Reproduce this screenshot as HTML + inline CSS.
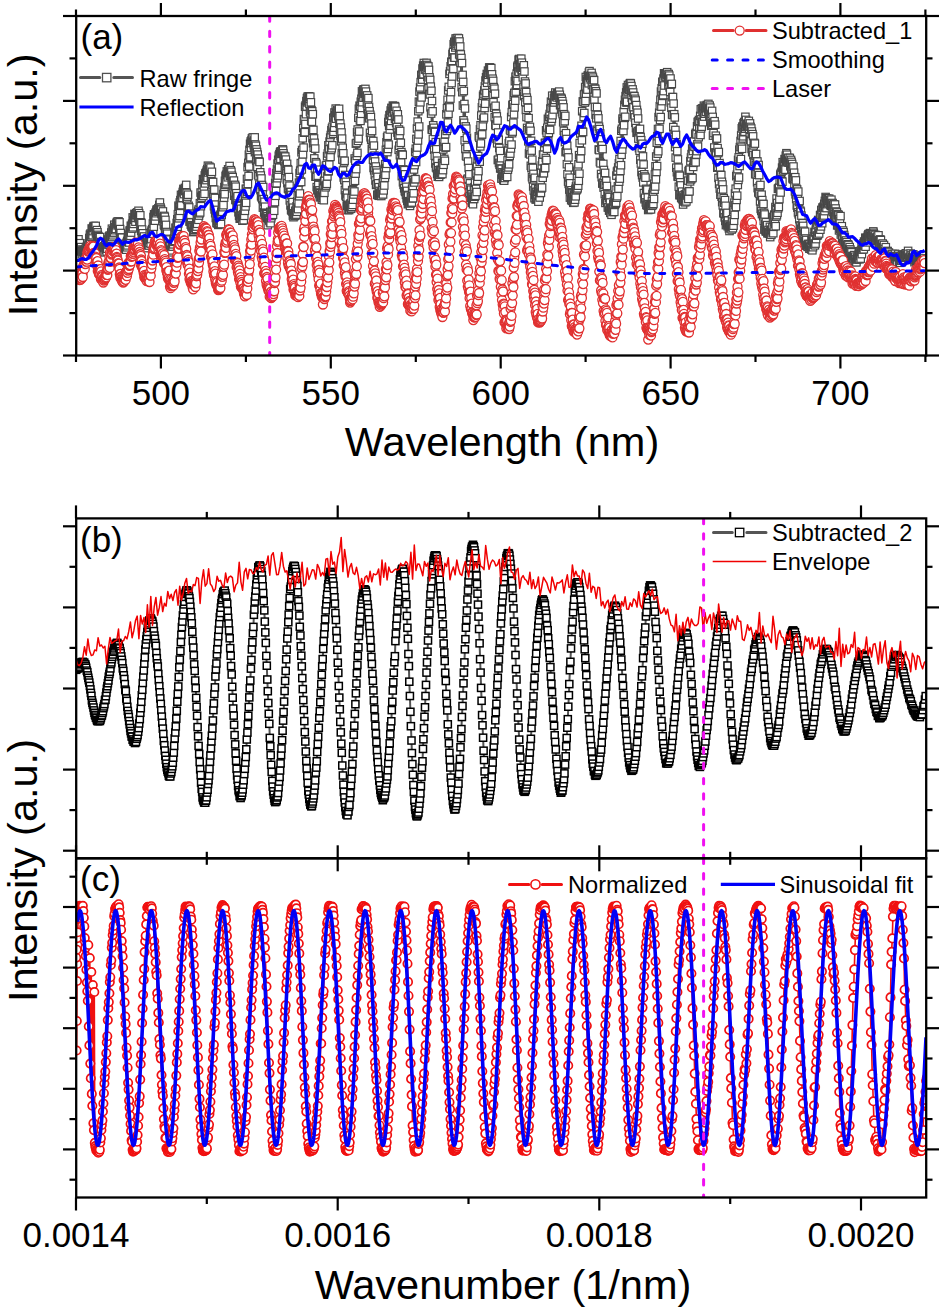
<!DOCTYPE html><html><head><meta charset="utf-8"><style>html,body{margin:0;padding:0;background:#fff;}svg{display:block;} text{font-family:"Liberation Sans", sans-serif;fill:#000;}</style></head><body>
<svg width="944" height="1310" viewBox="0 0 944 1310">
<defs><marker id="msqg" markerUnits="userSpaceOnUse" markerWidth="12" markerHeight="12" refX="6" refY="6" overflow="visible"><rect x="2.3" y="2.3" width="7.4" height="7.4" fill="#fff" stroke="#484848" stroke-width="1.2"/></marker><marker id="msqk" markerUnits="userSpaceOnUse" markerWidth="12" markerHeight="12" refX="6" refY="6" overflow="visible"><rect x="2.45" y="2.45" width="7.1" height="7.1" fill="#fff" stroke="#000" stroke-width="1.5"/></marker><marker id="mcr" markerUnits="userSpaceOnUse" markerWidth="12" markerHeight="12" refX="6" refY="6" overflow="visible"><circle cx="6" cy="6" r="4.5" fill="#fff" stroke="#e03030" stroke-width="1.3"/></marker><marker id="mcr2" markerUnits="userSpaceOnUse" markerWidth="12" markerHeight="12" refX="6" refY="6" overflow="visible"><circle cx="6" cy="6" r="4.2" fill="#fff" stroke="#f01010" stroke-width="1.7"/></marker><clipPath id="cpa"><rect x="76" y="16" width="850" height="339.5"/></clipPath><clipPath id="cpb"><rect x="76" y="518.4" width="850" height="339.9"/></clipPath><clipPath id="cpc"><rect x="76" y="858.3" width="850" height="339.20000000000005"/></clipPath></defs>
<g clip-path="url(#cpa)">
<polyline fill="none" stroke="#505050" stroke-width="2" marker-start="url(#msqg)" marker-mid="url(#msqg)" marker-end="url(#msqg)" points="77,244.7 77.3,245.2 77.6,246.8 77.9,244.3 78.2,249 78.5,239.3 78.9,247.9 79.2,245 79.5,247.1 79.8,243.2 80.1,249.4 80.4,248.4 80.7,251.2 81,247.1 81.3,251.1 81.6,249.6 81.9,254.3 82.2,251.1 82.5,252.1 82.8,249.9 83.1,252.2 83.4,251.4 83.7,251.1 84.1,253.1 84.4,250.5 84.7,250.3 85,252.1 85.3,250.8 85.6,249.6 85.9,247.6 86.2,250.7 86.5,251.1 86.8,246.7 87.1,250.1 87.4,245.9 87.7,247 88,247.6 88.3,245.9 88.6,243.3 88.9,247.9 89.3,238 89.6,242.8 89.9,234.7 90.2,241.5 90.5,233.6 90.8,235.1 91.1,235.1 91.4,236.7 91.7,228.5 92,235.1 92.3,229.2 92.6,235.2 92.9,231.1 93.2,227.6 93.5,226.7 93.8,226 94.1,227.6 94.4,227.2 94.8,229.6 95.1,227.2 95.4,226.7 95.7,225.9 96,233.5 96.3,231.3 96.6,233.2 96.9,230.1 97.2,235.6 97.5,232.3 97.8,234.9 98.1,236.1 98.4,239.2 98.7,236.8 99,238.1 99.3,240.8 99.6,247.2 100,237.1 100.3,249.2 100.6,244.6 100.9,246.6 101.2,242 101.5,250.7 101.8,247.6 102.1,250.5 102.4,247.5 102.7,248.6 103,250.9 103.3,248.1 103.6,251.6 103.9,246.5 104.2,248.1 104.5,246.3 104.8,252.4 105.2,245.1 105.5,247.3 105.8,248 106.1,249.2 106.4,250.1 106.7,251.6 107,245.6 107.3,248.7 107.6,239.9 107.9,244.4 108.2,239.6 108.5,244.4 108.8,236.8 109.1,242.2 109.4,235.8 109.7,244.9 110,237.2 110.3,239.8 110.7,235.4 111,238.9 111.3,232.5 111.6,236.8 111.9,228.7 112.2,237.1 112.5,232.6 112.8,235.3 113.1,230.1 113.4,233.2 113.7,232.2 114,232.5 114.3,224.7 114.6,228.3 114.9,227.2 115.2,230.2 115.5,227 115.9,228.9 116.2,225.2 116.5,223.6 116.8,222.8 117.1,222 117.4,223.2 117.7,221.6 118,224.5 118.3,223.4 118.6,221.4 118.9,225.7 119.2,228.7 119.5,222.3 119.8,231.1 120.1,229.1 120.4,233.7 120.7,233 121.1,238.3 121.4,237.4 121.7,242.7 122,237.7 122.3,246.4 122.6,243.9 122.9,247.3 123.2,244.3 123.5,246.9 123.8,246.3 124.1,247.4 124.4,248.5 124.7,248.4 125,248.1 125.3,247.1 125.6,248.5 125.9,248.3 126.2,249.7 126.6,242.8 126.9,247.3 127.2,240.9 127.5,245.4 127.8,238.5 128.1,241.9 128.4,234.8 128.7,236.3 129,235 129.3,242.5 129.6,230.6 129.9,238.8 130.2,230.2 130.5,235.8 130.8,225.8 131.1,232.6 131.4,226.2 131.8,225.9 132.1,223.7 132.4,228.6 132.7,217.4 133,227.3 133.3,220.4 133.6,223.9 133.9,218.3 134.2,219.7 134.5,213.9 134.8,217.9 135.1,214.3 135.4,221.7 135.7,217.9 136,214.9 136.3,213.1 136.6,215.1 137,214.9 137.3,212.5 137.6,212.6 137.9,217.1 138.2,218.1 138.5,210.8 138.8,214.2 139.1,213.2 139.4,221.1 139.7,217.3 140,222.1 140.3,215.3 140.6,225.7 140.9,222.3 141.2,230.9 141.5,223.1 141.8,234.8 142.1,229.5 142.5,234.5 142.8,233.3 143.1,238.1 143.4,238.1 143.7,244 144,236.5 144.3,243.9 144.6,243.5 144.9,240.3 145.2,241.7 145.5,248.1 145.8,241.4 146.1,244.5 146.4,241.9 146.7,244.2 147,240.3 147.3,240 147.7,243.8 148,242.6 148.3,245.3 148.6,241.9 148.9,245.5 149.2,237.9 149.5,243 149.8,233.2 150.1,240 150.4,239.4 150.7,243.6 151,232.6 151.3,239.1 151.6,230.5 151.9,231.8 152.2,229.1 152.5,229.8 152.9,223.5 153.2,233.8 153.5,217 153.8,226.7 154.1,214.3 154.4,220.7 154.7,216 155,220.7 155.3,213.8 155.6,216.4 155.9,212.4 156.2,213.2 156.5,209.8 156.8,211.5 157.1,211.2 157.4,209.4 157.7,210.6 158,209.5 158.4,208.2 158.7,211.7 159,209.3 159.3,204.9 159.6,210.3 159.9,202.5 160.2,211.7 160.5,207.5 160.8,208.9 161.1,209.8 161.4,213.3 161.7,213.9 162,215.1 162.3,215.3 162.6,221.2 162.9,211.4 163.2,218.8 163.6,217.3 163.9,224.9 164.2,215.9 164.5,226 164.8,216.8 165.1,228.7 165.4,219.9 165.7,231.1 166,224.9 166.3,239.9 166.6,232 166.9,238.6 167.2,233.7 167.5,242.6 167.8,238.9 168.1,246.1 168.4,239.6 168.8,246.8 169.1,245.8 169.4,255 169.7,245.6 170,246 170.3,249.9 170.6,250.2 170.9,250 171.2,252.3 171.5,250.4 171.8,244.7 172.1,246.2 172.4,245.8 172.7,246.6 173,243.9 173.3,244.3 173.6,239.1 173.9,241.5 174.3,238.7 174.6,241.8 174.9,232.1 175.2,240.9 175.5,227.7 175.8,235.2 176.1,228 176.4,233.7 176.7,223 177,230.9 177.3,219.3 177.6,226.8 177.9,214.2 178.2,223.5 178.5,205.7 178.8,218.3 179.1,206.9 179.5,216 179.8,202.5 180.1,210.8 180.4,200.1 180.7,205.9 181,194.9 181.3,205.1 181.6,197.8 181.9,198 182.2,194.4 182.5,197.9 182.8,192.4 183.1,191.1 183.4,188.9 183.7,191.3 184,194.1 184.3,189.7 184.7,190.2 185,187.9 185.3,191.1 185.6,190.3 185.9,189.8 186.2,184.9 186.5,198.7 186.8,192.9 187.1,199.9 187.4,196.6 187.7,206.3 188,194.7 188.3,207.7 188.6,205.8 188.9,212.2 189.2,207.4 189.5,221.6 189.9,213.6 190.2,221.3 190.5,214.8 190.8,224.6 191.1,222.5 191.4,225.2 191.7,226.5 192,226.7 192.3,227.1 192.6,227.4 192.9,227.3 193.2,232 193.5,231.8 193.8,231.3 194.1,229.5 194.4,227.8 194.7,229.8 195,227.1 195.4,227.8 195.7,225.5 196,228.9 196.3,222.9 196.6,226.6 196.9,219.5 197.2,223.8 197.5,213.3 197.8,217.9 198.1,211 198.4,219.8 198.7,209.5 199,215.6 199.3,212 199.6,213.3 199.9,203.2 200.2,212.4 200.6,192.6 200.9,206.2 201.2,196.8 201.5,197.8 201.8,192.5 202.1,195.7 202.4,184.4 202.7,195.3 203,179.1 203.3,196 203.6,179.9 203.9,187.4 204.2,179.2 204.5,193.8 204.8,175.4 205.1,183.4 205.4,173.5 205.8,177.1 206.1,172.6 206.4,180.1 206.7,170.6 207,176.6 207.3,169.1 207.6,177.8 207.9,165.7 208.2,172.5 208.5,170.5 208.8,170.4 209.1,168.1 209.4,166.7 209.7,170.4 210,169.3 210.3,171.8 210.6,167.6 210.9,176.7 211.3,173.8 211.6,181.7 211.9,171.8 212.2,184.4 212.5,182.5 212.8,191.9 213.1,182 213.4,197.2 213.7,194.2 214,206.3 214.3,189.7 214.6,209.4 214.9,198 215.2,213.2 215.5,204.6 215.8,218 216.1,209.9 216.5,223 216.8,216.5 217.1,221.2 217.4,216.7 217.7,223.7 218,223.3 218.3,224.9 218.6,223.9 218.9,216.3 219.2,223.3 219.5,219 219.8,223.2 220.1,215.5 220.4,220.9 220.7,214.4 221,224.1 221.3,211.7 221.7,215.1 222,204.1 222.3,211.8 222.6,201.1 222.9,207.2 223.2,194.1 223.5,205.2 223.8,190.1 224.1,197.7 224.4,187.1 224.7,194.2 225,180.8 225.3,184.9 225.6,175.9 225.9,183.5 226.2,174.7 226.5,181.3 226.8,171.4 227.2,175 227.5,172.4 227.8,177.3 228.1,169.3 228.4,172.8 228.7,173.1 229,171.6 229.3,171 229.6,166 229.9,175.7 230.2,171.5 230.5,175.2 230.8,170.2 231.1,174.4 231.4,171.8 231.7,179.7 232,175.7 232.4,182.2 232.7,177.1 233,186.3 233.3,181.1 233.6,188.5 233.9,180.6 234.2,195.8 234.5,185.2 234.8,193.3 235.1,184.9 235.4,199.9 235.7,186.7 236,200.1 236.3,193.2 236.6,205.5 236.9,197.6 237.2,205.6 237.6,196.2 237.9,208.6 238.2,206.6 238.5,212.3 238.8,205.6 239.1,215.9 239.4,206 239.7,218.7 240,213 240.3,217.9 240.6,211 240.9,214.4 241.2,208.8 241.5,217.5 241.8,215.7 242.1,218.2 242.4,220.7 242.7,215.2 243.1,217.3 243.4,214.3 243.7,220.2 244,208.1 244.3,215.8 244.6,205.3 244.9,210.8 245.2,201 245.5,206.4 245.8,188.8 246.1,202.8 246.4,188.9 246.7,193.9 247,178.9 247.3,191.9 247.6,167.1 247.9,183.9 248.3,162.9 248.6,176 248.9,154.7 249.2,166.5 249.5,149.9 249.8,158 250.1,143.8 250.4,157.2 250.7,141.5 251,147.7 251.3,143.1 251.6,140.4 251.9,138.4 252.2,140.4 252.5,139.1 252.8,137.4 253.1,141.9 253.5,142.5 253.8,145.2 254.1,140.5 254.4,148.3 254.7,137.4 255,152.2 255.3,144.5 255.6,151 255.9,145.8 256.2,160.7 256.5,149.4 256.8,159.4 257.1,152 257.4,166.9 257.7,154.6 258,174.9 258.3,158.6 258.6,176.2 259,161.4 259.3,184.6 259.6,162 259.9,188.3 260.2,172.3 260.5,190.1 260.8,175.5 261.1,196.3 261.4,178.5 261.7,197.5 262,185 262.3,199.2 262.6,192.1 262.9,207.6 263.2,187 263.5,205.3 263.8,199.1 264.2,212.4 264.5,201.8 264.8,214.1 265.1,206.7 265.4,217.5 265.7,212.8 266,217.9 266.3,213.1 266.6,215.7 266.9,214.1 267.2,217.5 267.5,216.1 267.8,225.2 268.1,218.3 268.4,217.9 268.7,218.4 269,219.4 269.4,220.5 269.7,220.4 270,222.4 270.3,211.8 270.6,223.2 270.9,212.5 271.2,218.2 271.5,213.9 271.8,216 272.1,205.3 272.4,212.4 272.7,204.1 273,214.8 273.3,203 273.6,209.9 273.9,190.5 274.2,210.8 274.5,188.7 274.9,202.1 275.2,183 275.5,195.8 275.8,178.6 276.1,191.1 276.4,173.1 276.7,183.2 277,169.4 277.3,178.2 277.6,163.6 277.9,175.5 278.2,159.8 278.5,169.6 278.8,155.7 279.1,167.7 279.4,154.1 279.7,159.5 280.1,152.1 280.4,158.8 280.7,151.3 281,153.9 281.3,151.5 281.6,153.4 281.9,153.7 282.2,153 282.5,149.8 282.8,149.4 283.1,150.5 283.4,153.3 283.7,159 284,155.7 284.3,161.2 284.6,156.7 284.9,168.6 285.3,156.6 285.6,166.1 285.9,159.6 286.2,170.8 286.5,166 286.8,179.5 287.1,163.8 287.4,183.1 287.7,169.2 288,188.6 288.3,169.9 288.6,189.3 288.9,177.1 289.2,194.8 289.5,185.7 289.8,200.4 290.1,192.1 290.5,205.4 290.8,192 291.1,210 291.4,195 291.7,210.8 292,202.8 292.3,211.4 292.6,202.1 292.9,215.6 293.2,207.7 293.5,217.2 293.8,213.3 294.1,214.5 294.4,214.8 294.7,216 295,215.6 295.3,210.9 295.6,215.2 296,210 296.3,214.6 296.6,206.3 296.9,211.8 297.2,201.3 297.5,207.7 297.8,195.4 298.1,209.1 298.4,188 298.7,203.3 299,182.6 299.3,196.2 299.6,173.1 299.9,193.5 300.2,170.6 300.5,181.5 300.8,163.1 301.2,182 301.5,152.3 301.8,169.5 302.1,150 302.4,161.6 302.7,138.3 303,154.3 303.3,128 303.6,147.6 303.9,119.1 304.2,132.7 304.5,119.6 304.8,132.2 305.1,106.7 305.4,124 305.7,105.2 306,114.2 306.4,101.1 306.7,106.5 307,98.1 307.3,102.4 307.6,96.7 307.9,100.6 308.2,101.3 308.5,96.5 308.8,98.8 309.1,96.3 309.4,103.8 309.7,98.9 310,111.8 310.3,96.7 310.6,113.5 310.9,102.3 311.2,120.8 311.5,110.2 311.9,121.7 312.2,111.3 312.5,138.2 312.8,114.2 313.1,143.3 313.4,129.9 313.7,147.7 314,138.4 314.3,158.4 314.6,142.8 314.9,168.4 315.2,148.6 315.5,176.7 315.8,162.2 316.1,176.7 316.4,163.7 316.7,187.1 317.1,169.7 317.4,190.3 317.7,175.7 318,189.8 318.3,185 318.6,192.6 318.9,190.6 319.2,194 319.5,190.4 319.8,197.3 320.1,192.5 320.4,193.3 320.7,196.8 321,195.5 321.3,195.9 321.6,195 321.9,199.7 322.3,193 322.6,197.9 322.9,184.7 323.2,196.4 323.5,188 323.8,200.2 324.1,181.2 324.4,192.8 324.7,180.6 325,185.6 325.3,173.4 325.6,187.3 325.9,165.8 326.2,185.6 326.5,165.1 326.8,183.8 327.1,156.2 327.4,176.4 327.8,153.5 328.1,171.4 328.4,145.3 328.7,171 329,149.3 329.3,164.6 329.6,141.6 329.9,155.7 330.2,137.6 330.5,156.9 330.8,135 331.1,150 331.4,130.2 331.7,148.2 332,128.1 332.3,145.3 332.6,126.7 333,133.7 333.3,118 333.6,131.8 333.9,117.4 334.2,127.7 334.5,112.5 334.8,122.9 335.1,115.2 335.4,117.2 335.7,108.6 336,118.7 336.3,112.8 336.6,112.9 336.9,111.5 337.2,109.9 337.5,111.6 337.8,113.1 338.2,116.1 338.5,111 338.8,117.6 339.1,108.8 339.4,123.7 339.7,116.1 340,129.8 340.3,123.6 340.6,136 340.9,127.5 341.2,141.4 341.5,132.5 341.8,153.1 342.1,138.6 342.4,159.6 342.7,147.7 343,170.5 343.3,153.3 343.7,177.5 344,162.4 344.3,180.1 344.6,160.8 344.9,190.1 345.2,175 345.5,195.5 345.8,181.8 346.1,197 346.4,185.3 346.7,205.9 347,193.5 347.3,205.6 347.6,197.8 347.9,210.1 348.2,204.9 348.5,206.1 348.9,205.9 349.2,210 349.5,206.8 349.8,207.1 350.1,206.2 350.4,203.8 350.7,208.8 351,203.4 351.3,208.4 351.6,198.3 351.9,206.9 352.2,190.1 352.5,204.9 352.8,190.6 353.1,199.7 353.4,181.9 353.7,194.5 354.1,173.2 354.4,191.5 354.7,158.5 355,180.8 355.3,160.7 355.6,173.6 355.9,143.6 356.2,169.1 356.5,143 356.8,155.9 357.1,132.3 357.4,152.9 357.7,129.5 358,140.9 358.3,117.8 358.6,138.5 358.9,108.8 359.2,131.5 359.6,105.7 359.9,120.4 360.2,106.5 360.5,120.9 360.8,101.7 361.1,113.8 361.4,98.8 361.7,107.9 362,91.4 362.3,102.2 362.6,93.3 362.9,94.7 363.2,89.6 363.5,97.7 363.8,93.5 364.1,91.8 364.4,89.3 364.8,93.1 365.1,93.7 365.4,88.9 365.7,97 366,91.6 366.3,96.7 366.6,96.6 366.9,103.8 367.2,95.4 367.5,109.3 367.8,103.4 368.1,113.1 368.4,98.1 368.7,116.5 369,106.9 369.3,118.3 369.6,111.2 370,132.8 370.3,114.8 370.6,137.3 370.9,117.1 371.2,139.9 371.5,123.6 371.8,149.1 372.1,131 372.4,149.5 372.7,143.7 373,159.7 373.3,141 373.6,168 373.9,145.6 374.2,170.4 374.5,155.6 374.8,174.9 375.1,161.5 375.5,180.5 375.8,166.5 376.1,184.9 376.4,170.4 376.7,184.3 377,172.7 377.3,194.8 377.6,176.9 377.9,194.9 378.2,183.3 378.5,195.4 378.8,187.2 379.1,195.8 379.4,190.9 379.7,194.6 380,193 380.3,193.4 380.7,194.2 381,192.8 381.3,196 381.6,191.4 381.9,192.5 382.2,188.4 382.5,194.1 382.8,182.7 383.1,194.4 383.4,178.9 383.7,190.4 384,174.1 384.3,185.5 384.6,168.9 384.9,177.8 385.2,164.1 385.5,174.8 385.9,149.8 386.2,168.1 386.5,142.3 386.8,163.8 387.1,137.2 387.4,152.1 387.7,135.8 388,148.9 388.3,122 388.6,144.6 388.9,118.6 389.2,125.8 389.5,115.3 389.8,129.5 390.1,114.7 390.4,125.8 390.7,110.5 391.1,120.9 391.4,107.9 391.7,116 392,111.2 392.3,112.5 392.6,108.3 392.9,105.6 393.2,108.9 393.5,106.3 393.8,111.7 394.1,106.9 394.4,112.3 394.7,106.1 395,118.8 395.3,106.8 395.6,119 395.9,116 396.2,123 396.6,110.8 396.9,127 397.2,117.1 397.5,132.6 397.8,114.3 398.1,135.6 398.4,119.5 398.7,149.8 399,129.5 399.3,145.7 399.6,135.1 399.9,155.2 400.2,131 400.5,161.8 400.8,142.8 401.1,162.5 401.4,152.1 401.8,176.1 402.1,154.2 402.4,172.2 402.7,154.9 403,182.3 403.3,169.4 403.6,184.8 403.9,171 404.2,188.3 404.5,170.2 404.8,191.1 405.1,174.3 405.4,192 405.7,180.4 406,194.8 406.3,186.8 406.6,198.4 407,190.9 407.3,200.9 407.6,195 407.9,204.2 408.2,195.7 408.5,203.2 408.8,201.2 409.1,202.3 409.4,203.3 409.7,202 410,205.9 410.3,201.2 410.6,203.5 410.9,197.3 411.2,202.6 411.5,196.9 411.8,202.5 412.1,188.7 412.5,198.4 412.8,186 413.1,198.2 413.4,180.1 413.7,193.3 414,169.5 414.3,182.5 414.6,165.1 414.9,179.1 415.2,152.1 415.5,179.2 415.8,148.7 416.1,162 416.4,138.9 416.7,152.9 417,128.5 417.3,147.5 417.7,121.6 418,140.5 418.3,111.2 418.6,134.4 418.9,101.7 419.2,126.5 419.5,91.6 419.8,109.1 420.1,87.4 420.4,102.3 420.7,82.1 421,96.1 421.3,75.1 421.6,97.4 421.9,74.6 422.2,79.6 422.5,68.5 422.9,74.7 423.2,65.6 423.5,74.2 423.8,63 424.1,66.9 424.4,65.4 424.7,66.3 425,69.6 425.3,65.2 425.6,69.1 425.9,66.9 426.2,66.6 426.5,62.9 426.8,71.2 427.1,65 427.4,76.9 427.7,67.8 428,80 428.4,66.4 428.7,88.2 429,69.9 429.3,93.9 429.6,77.4 429.9,94.4 430.2,79.9 430.5,107.3 430.8,86.6 431.1,113.6 431.4,90.8 431.7,129.5 432,101 432.3,129.7 432.6,111.3 432.9,138.8 433.2,125.3 433.6,144.5 433.9,127.8 434.2,149.7 434.5,131 434.8,155.7 435.1,132 435.4,163.5 435.7,142.1 436,167.4 436.3,149.3 436.6,168.2 436.9,156.2 437.2,174 437.5,160.7 437.8,176.7 438.1,166.2 438.4,175.2 438.8,170.2 439.1,176.9 439.4,173.2 439.7,174.8 440,172.5 440.3,169.8 440.6,174.6 440.9,170.4 441.2,173.5 441.5,171.8 441.8,169.9 442.1,162.8 442.4,174.1 442.7,163.1 443,170.1 443.3,149.4 443.6,164.8 443.9,146.6 444.3,158.9 444.6,141.9 444.9,160.8 445.2,134.2 445.5,147.6 445.8,126.3 446.1,147.1 446.4,114.3 446.7,130.9 447,108.2 447.3,128.9 447.6,99.8 447.9,122.6 448.2,90.4 448.5,113.8 448.8,86.9 449.1,105.7 449.5,73.9 449.8,107.4 450.1,71.2 450.4,98.6 450.7,66.3 451,92.1 451.3,61.7 451.6,83.1 451.9,62.3 452.2,76.5 452.5,53.9 452.8,68.3 453.1,52.1 453.4,68.8 453.7,44.2 454,57.5 454.3,41.9 454.7,57.7 455,41.9 455.3,47.5 455.6,38.5 455.9,45.5 456.2,40.7 456.5,44 456.8,38.3 457.1,41.9 457.4,42.3 457.7,38 458,40.9 458.3,40.6 458.6,45.9 458.9,38.4 459.2,54.3 459.5,41.5 459.8,55.1 460.2,46.5 460.5,62.8 460.8,54.4 461.1,77.3 461.4,58 461.7,87.1 462,63.1 462.3,92.2 462.6,74.9 462.9,105.5 463.2,81.9 463.5,120.3 463.8,91 464.1,122.8 464.4,104 464.7,140.3 465,108.5 465.4,149 465.7,126.4 466,155.9 466.3,128.7 466.6,156.5 466.9,137.7 467.2,179.6 467.5,146.9 467.8,178.6 468.1,161.5 468.4,191.9 468.7,168 469,192.7 469.3,174.3 469.6,196.4 469.9,183.3 470.2,200.3 470.6,188 470.9,197.8 471.2,189.6 471.5,197.6 471.8,194.2 472.1,202.7 472.4,196.7 472.7,200.6 473,204.2 473.3,199 473.6,197.7 473.9,190 474.2,198.9 474.5,187.2 474.8,196.7 475.1,182.8 475.4,195.8 475.7,173.2 476.1,188.9 476.4,173.2 476.7,192 477,166 477.3,180.7 477.6,159.4 477.9,176.7 478.2,156 478.5,171.1 478.8,136.3 479.1,159.1 479.4,137.8 479.7,161.7 480,129.4 480.3,146.4 480.6,125.2 480.9,143.5 481.3,115.5 481.6,134.8 481.9,107.3 482.2,134.4 482.5,103 482.8,126.1 483.1,95.8 483.4,119.2 483.7,94.2 484,117.6 484.3,90.4 484.6,108 484.9,86.4 485.2,103.7 485.5,80.5 485.8,94.7 486.1,77.3 486.5,93 486.8,74 487.1,82.8 487.4,74.3 487.7,79.4 488,70.6 488.3,74.8 488.6,71.4 488.9,72.8 489.2,67.7 489.5,67.4 489.8,70.2 490.1,67.6 490.4,74.6 490.7,72.6 491,74.3 491.3,68.1 491.7,82.7 492,74.3 492.3,92.1 492.6,78.7 492.9,95.2 493.2,80.9 493.5,102.2 493.8,87.1 494.1,107.7 494.4,88.7 494.7,117.1 495,93.7 495.3,125 495.6,105.8 495.9,125.9 496.2,113.8 496.5,138.8 496.8,116.4 497.2,143.3 497.5,120.6 497.8,160 498.1,132.5 498.4,159.7 498.7,139.8 499,162.9 499.3,148 499.6,164.8 499.9,151 500.2,168.4 500.5,164.7 500.8,168.5 501.1,158.2 501.4,178.6 501.7,168.9 502,174.6 502.4,172.3 502.7,177.6 503,173.8 503.3,180.1 503.6,176.1 503.9,177.1 504.2,180.7 504.5,172.9 504.8,178 505.1,174.1 505.4,175.6 505.7,169.8 506,173.9 506.3,169.5 506.6,175.3 506.9,166.1 507.2,176.9 507.6,160.4 507.9,169.7 508.2,150.5 508.5,167.4 508.8,143.3 509.1,164.3 509.4,141 509.7,155.9 510,130 510.3,153.6 510.6,130.9 510.9,148.5 511.2,117 511.5,144.6 511.8,112.1 512.1,133.2 512.4,105 512.7,131.6 513.1,104.1 513.4,122.7 513.7,95.3 514,114.4 514.3,92.9 514.6,107.4 514.9,81.2 515.2,100.7 515.5,76.7 515.8,91.6 516.1,79.9 516.4,85.7 516.7,73.6 517,84.9 517.3,66.7 517.6,81 517.9,65.4 518.3,71.4 518.6,59.7 518.9,71.8 519.2,59 519.5,67.2 519.8,60.4 520.1,64.1 520.4,68.3 520.7,64.8 521,67.3 521.3,58.7 521.6,70.3 521.9,62.7 522.2,70.7 522.5,67.6 522.8,77.4 523.1,67.6 523.5,86.8 523.8,65.3 524.1,96.1 524.4,71.5 524.7,91.9 525,81.5 525.3,102.1 525.6,83.5 525.9,110 526.2,92.1 526.5,117.1 526.8,97.6 527.1,127.9 527.4,100.1 527.7,130.2 528,107.9 528.3,141.3 528.6,118.1 529,153.5 529.3,128.8 529.6,149.6 529.9,126.9 530.2,154.4 530.5,130.8 530.8,165.8 531.1,140.8 531.4,168.1 531.7,150.6 532,177.2 532.3,159.7 532.6,179.3 532.9,167.9 533.2,186.5 533.5,173.9 533.8,190.5 534.2,179.3 534.5,198.2 534.8,177.8 535.1,194.8 535.4,188.2 535.7,199.6 536,191.9 536.3,198.6 536.6,194.1 536.9,198.3 537.2,194.2 537.5,197.8 537.8,191.7 538.1,188.3 538.4,201.7 538.7,189.1 539,195.9 539.4,190.8 539.7,197.5 540,186.9 540.3,193 540.6,180.3 540.9,192.8 541.2,172.4 541.5,188.4 541.8,165.5 542.1,187.6 542.4,161.3 542.7,177.8 543,154.7 543.3,173.1 543.6,154.5 543.9,173.2 544.2,147.2 544.5,168.2 544.9,143 545.2,168 545.5,142.9 545.8,158 546.1,130.3 546.4,160 546.7,133.1 547,148.7 547.3,127.6 547.6,142 547.9,118.8 548.2,141 548.5,119.5 548.8,132.9 549.1,116.9 549.4,129.2 549.7,114 550.1,129.9 550.4,108.5 550.7,119.2 551,101.7 551.3,121.4 551.6,108 551.9,118.7 552.2,95.7 552.5,115.2 552.8,102.6 553.1,107.4 553.4,103.8 553.7,109.5 554,97.9 554.3,102.4 554.6,95.2 554.9,99.9 555.3,92.5 555.6,95.6 555.9,96.4 556.2,96.2 556.5,95 556.8,97.4 557.1,93.3 557.4,95.7 557.7,95.5 558,93.6 558.3,95.5 558.6,94.4 558.9,95.6 559.2,91.6 559.5,97.9 559.8,94.8 560.1,105.2 560.4,97.8 560.8,105.2 561.1,97.9 561.4,107.5 561.7,98.9 562,112.2 562.3,101.1 562.6,114.1 562.9,103.9 563.2,122.4 563.5,107.4 563.8,130.9 564.1,114.2 564.4,135 564.7,121.2 565,142.1 565.3,115.9 565.6,152.1 566,133.2 566.3,151.1 566.6,139 566.9,164.2 567.2,145.8 567.5,174.2 567.8,152.8 568.1,181.6 568.4,157.4 568.7,183.9 569,167.3 569.3,189.6 569.6,177.7 569.9,197.6 570.2,183.3 570.5,192.1 570.8,191.5 571.2,200 571.5,190.3 571.8,200.4 572.1,192.3 572.4,200.9 572.7,193.4 573,197.1 573.3,202.8 573.6,201.3 573.9,199.8 574.2,194.7 574.5,202.4 574.8,192.4 575.1,199.7 575.4,188.9 575.7,196.3 576,186.4 576.3,190.4 576.7,183.3 577,189.5 577.3,170.9 577.6,188.3 577.9,169.6 578.2,185.7 578.5,164.3 578.8,180.8 579.1,155.2 579.4,173.7 579.7,143 580,158.1 580.3,133.5 580.6,158.5 580.9,129.9 581.2,151 581.5,125.8 581.9,140.3 582.2,111.2 582.5,131.6 582.8,101.4 583.1,132 583.4,102 583.7,116.8 584,94.6 584.3,113 584.6,94 584.9,102.5 585.2,87 585.5,100.9 585.8,77 586.1,93.7 586.4,79.5 586.7,88.7 587.1,81 587.4,89.6 587.7,75.6 588,81.4 588.3,75.6 588.6,83.3 588.9,72.6 589.2,75.7 589.5,71.1 589.8,76.1 590.1,77.6 590.4,76.6 590.7,79.4 591,75.5 591.3,76.1 591.6,72.9 591.9,85.1 592.3,76 592.6,82.1 592.9,77.6 593.2,89.6 593.5,79.8 593.8,96.9 594.1,80.2 594.4,99.9 594.7,88.6 595,106.9 595.3,88.9 595.6,114.6 595.9,91.3 596.2,118.3 596.5,93.4 596.8,129.7 597.1,107.1 597.4,131 597.8,114.9 598.1,138.3 598.4,118.4 598.7,149.5 599,126.6 599.3,150.1 599.6,129.1 599.9,162 600.2,133.5 600.5,163.3 600.8,139.3 601.1,174 601.4,147.6 601.7,177.2 602,145.5 602.3,183.6 602.6,149.1 603,182.7 603.3,163.9 603.6,187.6 603.9,170 604.2,184.8 604.5,176 604.8,194.1 605.1,172.9 605.4,202.9 605.7,183.8 606,199.2 606.3,180.8 606.6,200.8 606.9,186 607.2,202.5 607.5,194.5 607.8,207.5 608.2,195.7 608.5,207.2 608.8,198 609.1,210.6 609.4,197 609.7,210.7 610,202.5 610.3,212.9 610.6,209.1 610.9,208.6 611.2,207.7 611.5,214.8 611.8,208 612.1,209.4 612.4,209.4 612.7,212 613,211.2 613.3,204 613.7,208.5 614,201.2 614.3,211.9 614.6,197.8 614.9,204.9 615.2,197.7 615.5,203.7 615.8,189.7 616.1,202.7 616.4,175.6 616.7,197.7 617,171.6 617.3,196.2 617.6,170.7 617.9,186.3 618.2,167.4 618.5,188.6 618.9,163.3 619.2,181.7 619.5,159 619.8,178.6 620.1,149.8 620.4,170.9 620.7,141 621,165.2 621.3,130.7 621.6,154.8 621.9,128.8 622.2,149.6 622.5,118.6 622.8,144.2 623.1,120.7 623.4,131 623.7,111.7 624.1,125.2 624.4,104.9 624.7,117.8 625,99.8 625.3,116.8 625.6,96.1 625.9,101.6 626.2,92.4 626.5,102.6 626.8,87.4 627.1,101.8 627.4,90.2 627.7,91.4 628,85 628.3,88.7 628.6,87.5 628.9,89.8 629.2,89.1 629.6,83.9 629.9,87.1 630.2,83.1 630.5,88.2 630.8,83.5 631.1,90.9 631.4,86 631.7,97.8 632,90.7 632.3,102.3 632.6,89.4 632.9,107.1 633.2,92.5 633.5,107.3 633.8,95.9 634.1,114.6 634.4,96.2 634.8,117.4 635.1,98.8 635.4,122.8 635.7,100.5 636,128.1 636.3,105.1 636.6,132.8 636.9,109.9 637.2,132.6 637.5,112.7 637.8,131 638.1,118.5 638.4,138.6 638.7,132.2 639,148.1 639.3,130.7 639.6,150.8 640,128.9 640.3,159.7 640.6,137 640.9,163.5 641.2,140.2 641.5,172.1 641.8,148.1 642.1,175.1 642.4,143.8 642.7,177.6 643,156.4 643.3,182.4 643.6,164.5 643.9,193.1 644.2,174.3 644.5,199.2 644.8,176.5 645.1,197.7 645.5,177.7 645.8,202.4 646.1,188.8 646.4,204.8 646.7,190 647,205.5 647.3,189.7 647.6,203.3 647.9,197.5 648.2,210 648.5,204.1 648.8,208.1 649.1,205.5 649.4,209.4 649.7,208.9 650,207.1 650.3,205.5 650.7,207.7 651,209.4 651.3,204.7 651.6,205.8 651.9,201.1 652.2,204.1 652.5,194 652.8,205.2 653.1,191.9 653.4,203.9 653.7,188.1 654,198.9 654.3,183.6 654.6,189.7 654.9,174.4 655.2,186.5 655.5,166.3 655.9,179.3 656.2,156.5 656.5,171.9 656.8,142.7 657.1,166.1 657.4,136.2 657.7,153.7 658,129 658.3,151.2 658.6,117.1 658.9,141 659.2,112.7 659.5,128.8 659.8,106.2 660.1,120 660.4,99.8 660.7,117.1 661,91.6 661.4,106.6 661.7,88.2 662,101.1 662.3,81.9 662.6,95.9 662.9,81.8 663.2,95.1 663.5,78.6 663.8,91.1 664.1,73.3 664.4,85.5 664.7,74.1 665,76 665.3,74.6 665.6,76.8 665.9,77.1 666.2,73.8 666.6,74 666.9,74.8 667.2,72.2 667.5,74.9 667.8,77.8 668.1,76.8 668.4,85.1 668.7,74 669,81.8 669.3,75.6 669.6,87.4 669.9,79.4 670.2,91.9 670.5,78.5 670.8,102.5 671.1,84.5 671.4,107.7 671.8,83.9 672.1,114.5 672.4,97.1 672.7,115 673,97.1 673.3,127.1 673.6,103.6 673.9,133.9 674.2,114.2 674.5,139.6 674.8,117.4 675.1,147.1 675.4,130 675.7,157.6 676,134.9 676.3,167.7 676.6,144 676.9,172.2 677.3,151.2 677.6,176.5 677.9,159.4 678.2,176.9 678.5,167.7 678.8,186.7 679.1,174.8 679.4,195.1 679.7,175.8 680,195.1 680.3,182.3 680.6,194.5 680.9,185.4 681.2,197.7 681.5,193.6 681.8,198.5 682.1,191.6 682.5,199.3 682.8,197.7 683.1,204.5 683.4,195.4 683.7,201.2 684,199.9 684.3,197.4 684.6,201.4 684.9,194.5 685.2,202.3 685.5,195 685.8,198.3 686.1,194.1 686.4,201.4 686.7,192.2 687,195.5 687.3,185.1 687.7,193.4 688,180.6 688.3,198.9 688.6,171.1 688.9,191.2 689.2,170.1 689.5,191.4 689.8,169.7 690.1,181.4 690.4,161.2 690.7,179.2 691,157.5 691.3,179.1 691.6,154.1 691.9,177.4 692.2,148.5 692.5,178 692.9,151 693.2,166.9 693.5,146.3 693.8,162.8 694.1,141.4 694.4,161.1 694.7,146.9 695,160.7 695.3,134 695.6,162.3 695.9,132.8 696.2,154.6 696.5,134.3 696.8,151.1 697.1,126.3 697.4,144.3 697.7,121.9 698,146.6 698.4,121.5 698.7,137.2 699,120 699.3,128.7 699.6,121 699.9,134.6 700.2,115.9 700.5,135 700.8,109.3 701.1,128.5 701.4,119.3 701.7,126.7 702,108.4 702.3,121.7 702.6,111.3 702.9,122.2 703.2,108.2 703.6,113.3 703.9,105.7 704.2,116.6 704.5,107.5 704.8,113.7 705.1,108.6 705.4,108 705.7,106.4 706,111.9 706.3,108.3 706.6,107.2 706.9,105 707.2,105.4 707.5,107.5 707.8,107.2 708.1,110.6 708.4,103.9 708.8,113.7 709.1,108.4 709.4,116.4 709.7,105.6 710,116.9 710.3,107.6 710.6,119.2 710.9,117.3 711.2,125.8 711.5,113.8 711.8,123.4 712.1,110.9 712.4,124.8 712.7,116.9 713,135.6 713.3,122.6 713.6,133.1 713.9,122.5 714.3,147.5 714.6,121.2 714.9,152.6 715.2,124.7 715.5,152.5 715.8,135.7 716.1,153.3 716.4,138.7 716.7,159.9 717,138.5 717.3,167.7 717.6,148.1 717.9,166.9 718.2,153.1 718.5,177.9 718.8,152 719.1,183.9 719.5,163.1 719.8,188.6 720.1,167.6 720.4,194.7 720.7,175 721,192 721.3,175.1 721.6,196.7 721.9,181.8 722.2,202.1 722.5,184.5 722.8,205.4 723.1,189.4 723.4,213.1 723.7,198.1 724,213.6 724.3,202.7 724.7,217.4 725,200.1 725.3,220.9 725.6,205.8 725.9,225.1 726.2,214.4 726.5,224.1 726.8,213.9 727.1,223.2 727.4,212.9 727.7,226.2 728,220.6 728.3,224.7 728.6,224.8 728.9,228.3 729.2,226.6 729.5,231 729.8,228.1 730.2,225.8 730.5,228.2 730.8,226.2 731.1,226.4 731.4,226.5 731.7,229.5 732,219.3 732.3,226.6 732.6,221.6 732.9,228.2 733.2,211.6 733.5,225.7 733.8,209.8 734.1,220.8 734.4,202.6 734.7,214.9 735,193.5 735.4,205.1 735.7,188.7 736,207 736.3,176.2 736.6,199.9 736.9,174.7 737.2,195.7 737.5,169.1 737.8,185 738.1,160 738.4,179.9 738.7,157.4 739,177.5 739.3,149.7 739.6,166 739.9,147.1 740.2,161.1 740.6,141 740.9,159.1 741.2,135.4 741.5,146.8 741.8,128.3 742.1,148.8 742.4,126.7 742.7,138.4 743,126.5 743.3,136.3 743.6,123.3 743.9,132.2 744.2,122 744.5,131.7 744.8,124.2 745.1,128.7 745.4,116.8 745.7,127 746.1,119.9 746.4,123.9 746.7,126.6 747,125.8 747.3,124.1 747.6,124.4 747.9,124.1 748.2,123.9 748.5,124.9 748.8,120.9 749.1,128.9 749.4,126.5 749.7,137.3 750,123.4 750.3,139.9 750.6,126.9 750.9,141.3 751.3,128.5 751.6,148.9 751.9,131.5 752.2,152.2 752.5,134.1 752.8,150.2 753.1,136.4 753.4,155 753.7,145.4 754,161.4 754.3,142.9 754.6,161.8 754.9,143.6 755.2,174.2 755.5,155.6 755.8,165 756.1,154 756.5,174.3 756.8,161.3 757.1,182.2 757.4,161.5 757.7,188.1 758,172.8 758.3,192.4 758.6,165 758.9,193 759.2,175.1 759.5,193.8 759.8,186.2 760.1,201.4 760.4,185 760.7,208.9 761,196.2 761.3,210.9 761.6,194.7 762,214.1 762.3,200.1 762.6,213.6 762.9,204.1 763.2,216.2 763.5,204 763.8,220.9 764.1,212.9 764.4,229.6 764.7,214.5 765,229.1 765.3,223.7 765.6,231.2 765.9,222.2 766.2,231.5 766.5,225.9 766.8,230.7 767.2,225.1 767.5,233.3 767.8,233 768.1,232.4 768.4,230 768.7,232.3 769,233.4 769.3,232.8 769.6,233.7 769.9,226.8 770.2,237.1 770.5,230.3 770.8,232.2 771.1,229.7 771.4,234.8 771.7,230 772,230.2 772.4,226.9 772.7,232.6 773,216.9 773.3,233.2 773.6,220 773.9,226.8 774.2,214.6 774.5,221.8 774.8,215.3 775.1,223.9 775.4,207 775.7,226.2 776,208.7 776.3,216.5 776.6,198.6 776.9,215.1 777.2,203 777.5,212.8 777.9,188.8 778.2,208.3 778.5,188.2 778.8,206.9 779.1,187.6 779.4,199.1 779.7,180.5 780,191.5 780.3,174.6 780.6,192.5 780.9,173.2 781.2,182.3 781.5,171.9 781.8,181.1 782.1,167.6 782.4,181.7 782.7,162.2 783.1,170.5 783.4,164.5 783.7,166.5 784,162.1 784.3,169.1 784.6,159.1 784.9,168.7 785.2,159.2 785.5,169.7 785.8,155.7 786.1,161.4 786.4,153.2 786.7,160.6 787,154.7 787.3,161.3 787.6,159.3 787.9,159.1 788.3,157.8 788.6,162.7 788.9,160.6 789.2,161.4 789.5,162.7 789.8,157.9 790.1,162.5 790.4,166.3 790.7,164.7 791,159.9 791.3,169.7 791.6,161.9 791.9,168.6 792.2,164 792.5,178.4 792.8,167.3 793.1,179.4 793.5,166.5 793.8,177.7 794.1,172.7 794.4,185.8 794.7,179.1 795,191.4 795.3,177.2 795.6,194.3 795.9,180.4 796.2,199 796.5,188.8 796.8,205.5 797.1,189.4 797.4,207.7 797.7,195.3 798,212.4 798.3,191.6 798.6,214.3 799,202 799.3,219.2 799.6,201 799.9,225.6 800.2,210.6 800.5,225.8 800.8,211.7 801.1,228.8 801.4,215.6 801.7,234.1 802,225.3 802.3,234.6 802.6,223.2 802.9,235.2 803.2,225.9 803.5,240.6 803.8,230.8 804.2,242.5 804.5,234.1 804.8,241.7 805.1,231.7 805.4,243.2 805.7,238.5 806,245.4 806.3,240 806.6,245.5 806.9,245.4 807.2,246.1 807.5,244.9 807.8,246.9 808.1,243.9 808.4,244.6 808.7,245.7 809,245.7 809.4,248.7 809.7,244.1 810,247 810.3,246.9 810.6,248 810.9,245.9 811.2,249.5 811.5,239.7 811.8,246.8 812.1,240.6 812.4,250.3 812.7,239.5 813,247.2 813.3,240.8 813.6,243.9 813.9,236.3 814.2,244.5 814.5,231.9 814.9,245.3 815.2,232.5 815.5,243.6 815.8,229.6 816.1,239.1 816.4,225.1 816.7,235.7 817,222.6 817.3,235.7 817.6,224.5 817.9,234.9 818.2,220 818.5,231.5 818.8,221 819.1,233.5 819.4,221.4 819.7,227.9 820.1,215.2 820.4,229.7 820.7,214.8 821,226.4 821.3,209.9 821.6,222.2 821.9,213.6 822.2,223.2 822.5,207.5 822.8,217.7 823.1,208 823.4,217.1 823.7,206.5 824,215.5 824.3,203.8 824.6,211.1 824.9,200.9 825.3,207.6 825.6,197 825.9,204.4 826.2,198.3 826.5,208.1 826.8,201.3 827.1,204.2 827.4,199.1 827.7,202.9 828,198.9 828.3,203.2 828.6,200.3 828.9,201.2 829.2,198.7 829.5,200.3 829.8,203.2 830.1,200.8 830.4,205.1 830.8,201.3 831.1,206 831.4,199.7 831.7,203.3 832,203.6 832.3,206.3 832.6,203 832.9,212.1 833.2,205 833.5,210 833.8,204.3 834.1,215.3 834.4,208.6 834.7,214.2 835,204.5 835.3,216.3 835.6,208.5 836,217.3 836.3,211.5 836.6,217.7 836.9,212.4 837.2,225.4 837.5,214.4 837.8,222.5 838.1,214.7 838.4,225.3 838.7,215 839,230.4 839.3,219.1 839.6,227.2 839.9,221.4 840.2,228.7 840.5,216.1 840.8,234.5 841.2,229.5 841.5,232.3 841.8,226.2 842.1,238.2 842.4,232.3 842.7,238.8 843,230.5 843.3,243.2 843.6,232.2 843.9,243.5 844.2,235 844.5,243.1 844.8,237.2 845.1,244.4 845.4,241 845.7,244 846,240.5 846.3,248.9 846.7,242.1 847,250.1 847.3,245 847.6,249.1 847.9,244.2 848.2,252.7 848.5,245 848.8,251.7 849.1,249 849.4,252.5 849.7,247.1 850,254.8 850.3,249.4 850.6,255.8 850.9,251 851.2,257.7 851.5,252.3 851.9,258.6 852.2,256.3 852.5,256 852.8,258.1 853.1,257.9 853.4,257.2 853.7,259.2 854,255.7 854.3,255.1 854.6,261.2 854.9,257.5 855.2,256.7 855.5,260.9 855.8,258.9 856.1,262 856.4,262.3 856.7,259.2 857.1,259.5 857.4,258.1 857.7,256.3 858,256.8 858.3,258.6 858.6,254.7 858.9,258.8 859.2,251.3 859.5,259.3 859.8,255.6 860.1,254.3 860.4,251.4 860.7,258.6 861,250.5 861.3,252 861.6,245.9 861.9,254.1 862.2,249.4 862.6,249.4 862.9,245.7 863.2,247.8 863.5,243.3 863.8,249.3 864.1,241.5 864.4,245.9 864.7,245.2 865,245.3 865.3,237.7 865.6,246.7 865.9,238.2 866.2,241.1 866.5,238.8 866.8,238.5 867.1,237.7 867.4,242.4 867.8,235.6 868.1,238.6 868.4,234.6 868.7,234.3 869,233.8 869.3,238.4 869.6,235.6 869.9,236.6 870.2,233.1 870.5,234.4 870.8,234 871.1,236.2 871.4,236.8 871.7,235.5 872,233.7 872.3,235.5 872.6,234.3 873,235.3 873.3,231.4 873.6,232.8 873.9,234.1 874.2,237.2 874.5,236.8 874.8,236.9 875.1,240 875.4,234.9 875.7,240.5 876,238.2 876.3,237.6 876.6,241 876.9,237.6 877.2,236.6 877.5,240 877.8,240 878.1,240.6 878.5,235.3 878.8,242.1 879.1,240.2 879.4,248.2 879.7,243.7 880,244.2 880.3,239.4 880.6,245.7 880.9,240.1 881.2,245.9 881.5,244.3 881.8,246.2 882.1,244 882.4,246.5 882.7,243.6 883,250.9 883.3,247.2 883.7,248.8 884,245 884.3,250.5 884.6,249 884.9,252.6 885.2,251.2 885.5,252.8 885.8,247.2 886.1,257.4 886.4,252.4 886.7,255.3 887,253.5 887.3,251.1 887.6,251.1 887.9,253 888.2,255.1 888.5,253.3 888.9,252.5 889.2,259.1 889.5,255.5 889.8,255.9 890.1,258.9 890.4,254.8 890.7,256.3 891,257 891.3,256.7 891.6,257.1 891.9,254.4 892.2,258.3 892.5,254 892.8,259 893.1,256 893.4,260.2 893.7,256 894.1,257.2 894.4,258.1 894.7,261.2 895,253.8 895.3,259.1 895.6,259.2 895.9,256 896.2,256.5 896.5,260.2 896.8,256.8 897.1,257.6 897.4,261.9 897.7,257.1 898,256.9 898.3,254.5 898.6,256.6 898.9,256.6 899.2,262.2 899.6,261.4 899.9,256.4 900.2,262.8 900.5,260.5 900.8,258.5 901.1,260.6 901.4,259.4 901.7,257.5 902,255 902.3,257.2 902.6,258.2 902.9,258.1 903.2,256.3 903.5,260.3 903.8,255 904.1,259.7 904.4,255.9 904.8,257.7 905.1,254 905.4,256.8 905.7,254.5 906,253.3 906.3,255.5 906.6,256.1 906.9,257.2 907.2,256.6 907.5,253.6 907.8,254.8 908.1,250.9 908.4,253.8 908.7,258.7 909,259.2 909.3,257.9 909.6,257.1 910,257.9 910.3,257.8 910.6,253.6 910.9,255.4 911.2,259.7 911.5,259.7 911.8,258.1 912.1,257 912.4,257.2 912.7,256.9 913,256.4 913.3,254.4 913.6,258.7 913.9,257.6 914.2,258.3 914.5,262.2 914.8,260.1 915.1,257.6 915.5,260.3 915.8,256.3 916.1,261.4 916.4,260 916.7,259.1 917,260.7 917.3,262.4 917.6,258.9 917.9,257.7 918.2,264.1 918.5,259.7 918.8,262.9 919.1,258.3 919.4,260.6 919.7,258.3 920,261.1 920.3,258.9 920.7,258.4 921,262.6 921.3,260.4 921.6,255.4 921.9,259.2 922.2,257.5 922.5,257.2 922.8,258.1 923.1,258.6 923.4,259.3 923.7,257.9 924,255.6 924.3,258.4 924.6,260.9"/>
<polyline fill="none" stroke="#e03030" stroke-width="1.6" marker-start="url(#mcr)" marker-mid="url(#mcr)" marker-end="url(#mcr)" points="77,275.9 77.3,277.2 77.6,273.9 77.9,275.8 78.2,276.9 78.5,273.7 78.9,276.5 79.2,280 79.5,276.9 79.8,276.6 80.1,279.3 80.4,279.9 80.7,278.4 81,275.8 81.3,275.3 81.6,278.6 81.9,272.5 82.2,273.9 82.5,273.1 82.8,277 83.1,267.4 83.4,266.5 83.7,264.8 84.1,267.9 84.4,264.9 84.7,268.9 85,263 85.3,264 85.6,260.5 85.9,261.7 86.2,258 86.5,259.5 86.8,261.7 87.1,259.6 87.4,252.3 87.7,254.7 88,251.5 88.3,250.9 88.6,249.4 88.9,250.9 89.3,251.3 89.6,249.9 89.9,246.9 90.2,247 90.5,245.7 90.8,248.6 91.1,247.5 91.4,250.5 91.7,247 92,250.2 92.3,249.6 92.6,248.5 92.9,246 93.2,246.6 93.5,253.3 93.8,252.9 94.1,253.9 94.4,253.5 94.8,255.3 95.1,253.3 95.4,256.6 95.7,257.8 96,261.1 96.3,258.2 96.6,262.1 96.9,261.6 97.2,266.1 97.5,261.2 97.8,271 98.1,265.5 98.4,269.9 98.7,270.4 99,274.2 99.3,269.7 99.6,274.7 100,269.7 100.3,273.9 100.6,269.2 100.9,279 101.2,271.3 101.5,278.8 101.8,274.8 102.1,276.2 102.4,276.8 102.7,279.3 103,279.5 103.3,282.5 103.6,279.6 103.9,280.6 104.2,277.8 104.5,279.6 104.8,279.1 105.2,276.3 105.5,278 105.8,275.5 106.1,277.3 106.4,274.9 106.7,274.4 107,270.1 107.3,275.1 107.6,265.5 107.9,269.9 108.2,268.9 108.5,262.7 108.8,261.7 109.1,266.7 109.4,256.8 109.7,267.9 110,252.4 110.3,261.9 110.7,258.3 111,258 111.3,252.5 111.6,254.5 111.9,249.3 112.2,253.5 112.5,247.6 112.8,250.2 113.1,251.4 113.4,247.4 113.7,248.8 114,249.7 114.3,247.5 114.6,251.9 114.9,252.3 115.2,247.4 115.5,253.1 115.9,250.2 116.2,253.9 116.5,253.6 116.8,256.9 117.1,258 117.4,259.7 117.7,260.7 118,263.5 118.3,263.3 118.6,265.6 118.9,263.7 119.2,267.5 119.5,268.9 119.8,274.2 120.1,274.8 120.4,278 120.7,273.8 121.1,276.5 121.4,276.6 121.7,278.8 122,280.3 122.3,281.5 122.6,277.2 122.9,278.6 123.2,282.5 123.5,280.5 123.8,279.5 124.1,281.6 124.4,279 124.7,277.6 125,278.1 125.3,272.8 125.6,279.8 125.9,272 126.2,275.4 126.6,271.1 126.9,276.2 127.2,270.4 127.5,272.9 127.8,264.6 128.1,270.5 128.4,262.9 128.7,269 129,263.8 129.3,265.9 129.6,265.1 129.9,265.1 130.2,260.6 130.5,261.6 130.8,256.2 131.1,261.4 131.4,256.9 131.8,254.5 132.1,255 132.4,256.1 132.7,253.5 133,253.9 133.3,247.7 133.6,249.1 133.9,252.4 134.2,250.4 134.5,244.9 134.8,249.3 135.1,246.6 135.4,244.3 135.7,242.5 136,244 136.3,247.8 136.6,246.8 137,247.2 137.3,247.6 137.6,250.3 137.9,243.7 138.2,250 138.5,247.4 138.8,249.9 139.1,249.3 139.4,254.6 139.7,252 140,254.1 140.3,254.4 140.6,264.3 140.9,255.8 141.2,259.5 141.5,261 141.8,266.9 142.1,264.1 142.5,266.7 142.8,268.1 143.1,269.9 143.4,266.9 143.7,273 144,270.9 144.3,277.3 144.6,275 144.9,277.2 145.2,277.2 145.5,278.5 145.8,279.1 146.1,276.3 146.4,275.2 146.7,281 147,276.4 147.3,278.8 147.7,279.2 148,277.9 148.3,278.5 148.6,281.1 148.9,273.7 149.2,277.6 149.5,282 149.8,273.9 150.1,275.4 150.4,271.3 150.7,275.7 151,263.9 151.3,268.5 151.6,261.4 151.9,264.7 152.2,257.4 152.5,260.5 152.9,252.4 153.2,254.7 153.5,248 153.8,249.1 154.1,246.1 154.4,247.2 154.7,241.7 155,248.4 155.3,242.6 155.6,240.6 155.9,244.8 156.2,241.1 156.5,243.9 156.8,242.4 157.1,244 157.4,242.9 157.7,243.3 158,243 158.4,249.7 158.7,239.4 159,247.5 159.3,245.8 159.6,246.5 159.9,243.6 160.2,254.3 160.5,246.4 160.8,255.4 161.1,250.2 161.4,254 161.7,251.3 162,256.8 162.3,254 162.6,258 162.9,253.4 163.2,259.1 163.6,257.6 163.9,263 164.2,255 164.5,261.5 164.8,259.1 165.1,263.4 165.4,260.8 165.7,265.4 166,262.7 166.3,270.2 166.6,267.1 166.9,271.9 167.2,272.7 167.5,274 167.8,277.2 168.1,278.7 168.4,274.7 168.8,277.6 169.1,270.7 169.4,280.6 169.7,279.6 170,286.6 170.3,278.6 170.6,288.2 170.9,282.5 171.2,286.3 171.5,279.3 171.8,285.2 172.1,284.3 172.4,285.4 172.7,284.8 173,280.2 173.3,285.6 173.6,281.6 173.9,282.9 174.3,279.1 174.6,281.5 174.9,272.3 175.2,273.2 175.5,265.3 175.8,273.6 176.1,265.3 176.4,267.1 176.7,257.5 177,262.7 177.3,255.1 177.6,257.9 177.9,249.1 178.2,257.2 178.5,246.8 178.8,248.6 179.1,241.1 179.5,244.5 179.8,242.3 180.1,244.3 180.4,238.6 180.7,240.3 181,237.4 181.3,236.4 181.6,240.2 181.9,238.4 182.2,243 182.5,236 182.8,238.9 183.1,239.6 183.4,239.9 183.7,236.2 184,240.5 184.3,240.5 184.7,246.9 185,243 185.3,251.1 185.6,247.2 185.9,253.3 186.2,248.9 186.5,256.5 186.8,255 187.1,262.6 187.4,256.4 187.7,265 188,259.9 188.3,265.6 188.6,262 188.9,273.8 189.2,268.7 189.5,279.1 189.9,272.6 190.2,280.6 190.5,277.8 190.8,283.1 191.1,277 191.4,282.5 191.7,281 192,282.2 192.3,283.5 192.6,287.4 192.9,283.4 193.2,289.4 193.5,284.8 193.8,284.8 194.1,285 194.4,282.4 194.7,285.9 195,282.2 195.4,287 195.7,280.6 196,283.3 196.3,276.1 196.6,276 196.9,271.8 197.2,274.7 197.5,268.8 197.8,271.1 198.1,265.2 198.4,268.4 198.7,259.1 199,262.6 199.3,250.9 199.6,257.5 199.9,247.5 200.2,249.6 200.6,242.5 200.9,251.5 201.2,237 201.5,239.5 201.8,232.3 202.1,232.8 202.4,232.5 202.7,233.1 203,228.8 203.3,233.6 203.6,231.9 203.9,226.2 204.2,228.6 204.5,228 204.8,227.7 205.1,227.5 205.4,228.2 205.8,230.2 206.1,230.8 206.4,228.7 206.7,234.5 207,231.2 207.3,236.2 207.6,232.2 207.9,242.1 208.2,234.8 208.5,241.1 208.8,235 209.1,243.3 209.4,238 209.7,248.1 210,243.9 210.3,247.5 210.6,245.9 210.9,256.6 211.3,250.5 211.6,257.8 211.9,255.9 212.2,261.6 212.5,254.3 212.8,265 213.1,261.1 213.4,271.5 213.7,268 214,275 214.3,266.4 214.6,275.6 214.9,271.2 215.2,279.6 215.5,273.6 215.8,283 216.1,281.1 216.5,285 216.8,283.6 217.1,285 217.4,282 217.7,286.4 218,288.8 218.3,290 218.6,286.9 218.9,289.9 219.2,287.5 219.5,289.2 219.8,288.5 220.1,282.6 220.4,287.9 220.7,280.1 221,282.2 221.3,275 221.7,280.7 222,272.3 222.3,276.8 222.6,267.8 222.9,274.9 223.2,260.8 223.5,266.8 223.8,259.2 224.1,264.7 224.4,251.7 224.7,252.9 225,245.5 225.3,252.5 225.6,242.4 225.9,247.9 226.2,235 226.5,242.6 226.8,234 227.2,240.7 227.5,232.7 227.8,236.6 228.1,230.3 228.4,229.8 228.7,229.1 229,230.3 229.3,229.8 229.6,233.7 229.9,236.3 230.2,232.4 230.5,232.8 230.8,232.8 231.1,235.9 231.4,237.4 231.7,241 232,237.5 232.4,243 232.7,235.4 233,245.4 233.3,239.9 233.6,250.5 233.9,244.9 234.2,251.8 234.5,247.2 234.8,260.2 235.1,249.4 235.4,257.5 235.7,253.9 236,261.1 236.3,256.1 236.6,267.2 236.9,262.4 237.2,265.7 237.6,263.2 237.9,272 238.2,265.6 238.5,274.1 238.8,267.5 239.1,279.1 239.4,270.4 239.7,279.6 240,273.8 240.3,282.6 240.6,277.1 240.9,286.5 241.2,279.9 241.5,287.4 241.8,282 242.1,287.1 242.4,284 242.7,288.7 243.1,288.6 243.4,290.6 243.7,288.1 244,293.6 244.3,293.2 244.6,289.8 244.9,296.4 245.2,292.8 245.5,293.2 245.8,293.1 246.1,292.9 246.4,287.9 246.7,295 247,282.5 247.3,288.5 247.6,281 247.9,281.9 248.3,274 248.6,278.9 248.9,270.4 249.2,269.7 249.5,258.9 249.8,264.2 250.1,250.8 250.4,254.4 250.7,245.6 251,250.6 251.3,239.4 251.6,244.6 251.9,234.3 252.2,237.2 252.5,228 252.8,229.4 253.1,224.1 253.5,227.2 253.8,221.2 254.1,223.8 254.4,219.2 254.7,225.1 255,225.1 255.3,220.2 255.6,222.1 255.9,220.3 256.2,225.4 256.5,222.2 256.8,224.6 257.1,222 257.4,227.5 257.7,222.1 258,230.8 258.3,225.1 258.6,235.6 259,229.9 259.3,239.5 259.6,232.5 259.9,244.2 260.2,232.6 260.5,246.9 260.8,239.7 261.1,250.9 261.4,244.9 261.7,256.9 262,243.8 262.3,259.2 262.6,249.2 262.9,264.4 263.2,251.6 263.5,265 263.8,257.6 264.2,273.2 264.5,260.7 264.8,274 265.1,266.9 265.4,273.3 265.7,270.9 266,280.8 266.3,273.5 266.6,284.7 266.9,277 267.2,286.1 267.5,278.6 267.8,288.2 268.1,287.2 268.4,290.6 268.7,285.6 269,291.1 269.4,287.2 269.7,296.7 270,288.4 270.3,293.2 270.6,292.5 270.9,295 271.2,298.1 271.5,291.3 271.8,296.3 272.1,297 272.4,293.7 272.7,292.6 273,296.3 273.3,294.1 273.6,291.3 273.9,282.6 274.2,291.2 274.5,283.2 274.9,281.9 275.2,266.3 275.5,277.5 275.8,263.2 276.1,269.6 276.4,253.7 276.7,258 277,246.2 277.3,253 277.6,241.9 277.9,238.8 278.2,232.5 278.5,240.7 278.8,229 279.1,229.5 279.4,227.9 279.7,228.8 280.1,227.1 280.4,226.7 280.7,227.3 281,226.4 281.3,229.7 281.6,225.9 281.9,230.7 282.2,228.3 282.5,235.5 282.8,230.7 283.1,235.4 283.4,233.2 283.7,238.5 284,235.6 284.3,242.2 284.6,241.1 284.9,247.6 285.3,238.5 285.6,247.1 285.9,244.3 286.2,251.4 286.5,243.5 286.8,251.6 287.1,243.5 287.4,258 287.7,250.9 288,263.1 288.3,251.5 288.6,265.8 288.9,255.5 289.2,265.9 289.5,260.6 289.8,268.1 290.1,261.8 290.5,269.5 290.8,264 291.1,271.6 291.4,270.7 291.7,279.2 292,274.6 292.3,282.9 292.6,274.9 292.9,284.8 293.2,279.7 293.5,289.4 293.8,284.2 294.1,289.2 294.4,285.9 294.7,291.8 295,287.5 295.3,295.4 295.6,294.1 296,294.4 296.3,291.6 296.6,291.4 296.9,293.9 297.2,295.1 297.5,291.2 297.8,296.1 298.1,297.2 298.4,292.8 298.7,295 299,290.6 299.3,295.9 299.6,284.5 299.9,290.5 300.2,286.9 300.5,287.9 300.8,279.2 301.2,281.7 301.5,268.2 301.8,276.2 302.1,263.3 302.4,266.2 302.7,254.1 303,262 303.3,246.6 303.6,247 303.9,229.9 304.2,236.9 304.5,227.2 304.8,231.3 305.1,217.7 305.4,221 305.7,207.9 306,213.9 306.4,205.1 306.7,206.6 307,201.7 307.3,205.6 307.6,200.7 307.9,199.4 308.2,196.1 308.5,199.8 308.8,201.6 309.1,199.6 309.4,203.1 309.7,200 310,209 310.3,202.7 310.6,211.6 310.9,204.2 311.2,213.7 311.5,210.5 311.9,217.7 312.2,210.1 312.5,224.7 312.8,219.9 313.1,230.9 313.4,226.7 313.7,236.7 314,229.3 314.3,239.3 314.6,231.2 314.9,250 315.2,238.9 315.5,253.6 315.8,246.3 316.1,258.1 316.4,247.6 316.7,264.9 317.1,256.7 317.4,270.4 317.7,261.9 318,274.9 318.3,264.7 318.6,279.2 318.9,270 319.2,285.5 319.5,272.7 319.8,285.9 320.1,286 320.4,290 320.7,283.7 321,293.2 321.3,293.2 321.6,295.8 321.9,293.7 322.3,297.5 322.6,294.8 322.9,304.5 323.2,297.4 323.5,296.9 323.8,297.2 324.1,297.4 324.4,299 324.7,296.1 325,297.1 325.3,287.1 325.6,296.3 325.9,286.8 326.2,291.5 326.5,278.6 326.8,287 327.1,275.3 327.4,282.4 327.8,268 328.1,277.6 328.4,264 328.7,270 329,256.4 329.3,262.4 329.6,250.9 329.9,251.9 330.2,243.2 330.5,246.9 330.8,234 331.1,244 331.4,228 331.7,237.1 332,221.3 332.3,234 332.6,221 333,226.7 333.3,210.8 333.6,216.4 333.9,212.6 334.2,214.3 334.5,207.8 334.8,212 335.1,204.8 335.4,209.7 335.7,207.1 336,208.4 336.3,206.5 336.6,208 336.9,208.6 337.2,209.5 337.5,213.8 337.8,211 338.2,216.8 338.5,213 338.8,215.5 339.1,216.8 339.4,224.9 339.7,218.4 340,230.2 340.3,222.1 340.6,235.2 340.9,229.8 341.2,244.2 341.5,233.8 341.8,244.3 342.1,241.6 342.4,251.3 342.7,249.1 343,257.9 343.3,248.2 343.7,265.3 344,258.6 344.3,265.7 344.6,262.4 344.9,273 345.2,269.2 345.5,276.6 345.8,267.1 346.1,283.9 346.4,276.2 346.7,290.7 347,282.4 347.3,291.9 347.6,285.2 347.9,292.9 348.2,287.3 348.5,294.3 348.9,291.1 349.2,292.7 349.5,295.7 349.8,298.8 350.1,302.6 350.4,301.2 350.7,298.1 351,300.4 351.3,297.2 351.6,296.7 351.9,295.7 352.2,298.5 352.5,299.4 352.8,290.2 353.1,296.7 353.4,289.2 353.7,293.4 354.1,283.2 354.4,286.6 354.7,274.3 355,283.7 355.3,272.2 355.6,275.6 355.9,259.1 356.2,274 356.5,252 356.8,266.2 357.1,249.2 357.4,256.6 357.7,243.7 358,251.5 358.3,234.9 358.6,238.7 358.9,223.8 359.2,236.2 359.6,222.7 359.9,229.9 360.2,219.5 360.5,221.9 360.8,209.8 361.1,218.3 361.4,205.4 361.7,210.5 362,199.5 362.3,208.6 362.6,196.9 362.9,203 363.2,194.2 363.5,201.4 363.8,194 364.1,199 364.4,193.2 364.8,195.5 365.1,199.6 365.4,194.4 365.7,199.7 366,196 366.3,196.1 366.6,198.6 366.9,206.4 367.2,198.9 367.5,211.2 367.8,202.4 368.1,213 368.4,208.6 368.7,218.8 369,218.4 369.3,221 369.6,220.3 370,233.6 370.3,221 370.6,235.5 370.9,230.4 371.2,245.1 371.5,236.2 371.8,253.5 372.1,240.2 372.4,256.3 372.7,243.9 373,265.9 373.3,252.9 373.6,271.9 373.9,261.3 374.2,272.7 374.5,270.6 374.8,283.7 375.1,273.4 375.5,282.7 375.8,276.3 376.1,288.5 376.4,280.5 376.7,291.8 377,287.3 377.3,297.5 377.6,291.2 377.9,298.9 378.2,297.7 378.5,302.3 378.8,293.8 379.1,302.6 379.4,301.7 379.7,306.8 380,302.5 380.3,304.5 380.7,303.4 381,305.6 381.3,304.3 381.6,301.6 381.9,303.5 382.2,301.3 382.5,302.8 382.8,293 383.1,302.4 383.4,291.2 383.7,298.2 384,287.3 384.3,296.3 384.6,284.4 384.9,287.4 385.2,275.8 385.5,280.1 385.9,269 386.2,277.3 386.5,262.2 386.8,269.4 387.1,248.5 387.4,265.1 387.7,246.1 388,254.4 388.3,237.6 388.6,248.9 388.9,233.8 389.2,239 389.5,228.7 389.8,234 390.1,220.1 390.4,232.5 390.7,217.7 391.1,224.6 391.4,209.5 391.7,218.5 392,211 392.3,214.9 392.6,204.8 392.9,210.1 393.2,202.9 393.5,207.7 393.8,206.1 394.1,208.4 394.4,203 394.7,205.3 395,206.6 395.3,203.4 395.6,206.4 395.9,209.3 396.2,210.2 396.6,207.9 396.9,211.2 397.2,207.9 397.5,212.8 397.8,210.1 398.1,224.3 398.4,218.8 398.7,229.3 399,222.1 399.3,233.2 399.6,221.9 399.9,238.3 400.2,231.5 400.5,241.4 400.8,235.6 401.1,247.7 401.4,235.1 401.8,255.2 402.1,240.1 402.4,257.5 402.7,253.5 403,266.3 403.3,257.6 403.6,274.7 403.9,264.6 404.2,277.1 404.5,267.8 404.8,282.4 405.1,271.6 405.4,286.9 405.7,274.4 406,287.6 406.3,280.7 406.6,295.3 407,285.3 407.3,296.2 407.6,293.4 407.9,303.9 408.2,294 408.5,305.1 408.8,297.9 409.1,304.3 409.4,301 409.7,305.7 410,301.8 410.3,310.7 410.6,304.7 410.9,306 411.2,307.8 411.5,311.4 411.8,308 412.1,309 412.5,307.2 412.8,303.5 413.1,305.6 413.4,300.8 413.7,308.8 414,294.5 414.3,305.6 414.6,289.9 414.9,298 415.2,286.6 415.5,295.3 415.8,277.8 416.1,283.8 416.4,272.6 416.7,278.7 417,268.8 417.3,272.1 417.7,255.7 418,261.1 418.3,245.8 418.6,256.6 418.9,240.2 419.2,250 419.5,230.2 419.8,236.9 420.1,219.3 420.4,235.6 420.7,212.5 421,217.8 421.3,207.2 421.6,213.6 421.9,198.6 422.2,208.2 422.5,192.3 422.9,204 423.2,188.6 423.5,199.1 423.8,189.4 424.1,191.5 424.4,183.1 424.7,186.4 425,182.2 425.3,186.6 425.6,178.1 425.9,184.2 426.2,178.6 426.5,179.3 426.8,179.1 427.1,185.1 427.4,184.8 427.7,182.1 428,186 428.4,185.6 428.7,188.9 429,186.9 429.3,201.5 429.6,189.8 429.9,204.1 430.2,197.5 430.5,208.4 430.8,201.2 431.1,217.6 431.4,206.9 431.7,228.1 432,211.2 432.3,233.1 432.6,221.9 432.9,243 433.2,229.2 433.6,247.6 433.9,231.2 434.2,256.9 434.5,242.4 434.8,260.7 435.1,245.5 435.4,266.6 435.7,259.8 436,274.7 436.3,264.7 436.6,282 436.9,274.7 437.2,289 437.5,278.6 437.8,293.3 438.1,286.7 438.4,300 438.8,290 439.1,298.5 439.4,293.4 439.7,306.9 440,297.9 440.3,310 440.6,304.1 440.9,312 441.2,309.4 441.5,313.9 441.8,308.8 442.1,312.6 442.4,317 442.7,310.1 443,312.4 443.3,312.7 443.6,312.5 443.9,306.2 444.3,309.4 444.6,305.2 444.9,311.5 445.2,301.8 445.5,303.8 445.8,293.3 446.1,298.4 446.4,283.4 446.7,290.1 447,276.3 447.3,287.6 447.6,269.2 447.9,275 448.2,259.2 448.5,266.2 448.8,244.5 449.1,257.9 449.5,234.3 449.8,249.9 450.1,232.8 450.4,241.7 450.7,222.4 451,233.1 451.3,212.8 451.6,222.4 451.9,207.7 452.2,213.4 452.5,198.4 452.8,209.1 453.1,193.8 453.4,198.4 453.7,185.8 454,198.5 454.3,186.5 454.7,192.5 455,184.2 455.3,189.4 455.6,180.4 455.9,183.6 456.2,176.6 456.5,178.1 456.8,177.3 457.1,179.8 457.4,179.4 457.7,178.2 458,180 458.3,179.8 458.6,183.5 458.9,180.1 459.2,187.7 459.5,181.3 459.8,189 460.2,186.5 460.5,197.8 460.8,191.3 461.1,201.7 461.4,200.4 461.7,208.5 462,199.9 462.3,218.8 462.6,205.5 462.9,226.8 463.2,217.6 463.5,233.7 463.8,221.4 464.1,242.2 464.4,229 464.7,251.8 465,235.7 465.4,256 465.7,245.1 466,264.7 466.3,248.7 466.6,269.4 466.9,251.3 467.2,280.6 467.5,267.8 467.8,286.6 468.1,271.2 468.4,288.6 468.7,279.5 469,292 469.3,285.3 469.6,298.2 469.9,292.2 470.2,306 470.6,291.7 470.9,309.3 471.2,298.1 471.5,308.4 471.8,303.7 472.1,313.3 472.4,312 472.7,312.3 473,315.1 473.3,320.1 473.6,316.3 473.9,317.1 474.2,316.2 474.5,312.2 474.8,317.5 475.1,313.4 475.4,316.9 475.7,313.1 476.1,314.9 476.4,305.3 476.7,314.5 477,295.6 477.3,303.2 477.6,293 477.9,301 478.2,290.5 478.5,295.2 478.8,280.6 479.1,293 479.4,273.2 479.7,282.9 480,268.3 480.3,277.4 480.6,257.8 480.9,271.3 481.3,251.8 481.6,262.3 481.9,245.9 482.2,257.5 482.5,235.3 482.8,250.1 483.1,227.1 483.4,242.8 483.7,221.8 484,236.8 484.3,216.8 484.6,230.4 484.9,210.4 485.2,218.2 485.5,207.1 485.8,211.8 486.1,200 486.5,208.9 486.8,196.4 487.1,204 487.4,192.1 487.7,199.5 488,185.5 488.3,194.6 488.6,187.4 488.9,190.2 489.2,187.7 489.5,189 489.8,191.8 490.1,184.3 490.4,191.3 490.7,187.3 491,196.3 491.3,189.8 491.7,199.8 492,191.6 492.3,204.5 492.6,199.1 492.9,207.6 493.2,199.6 493.5,211.7 493.8,207.2 494.1,224.6 494.4,207.9 494.7,232.8 495,211.2 495.3,231.2 495.6,220.9 495.9,240.3 496.2,228.1 496.5,244.5 496.8,234.3 497.2,252.8 497.5,235.2 497.8,259.6 498.1,243.7 498.4,270.9 498.7,245.1 499,271.6 499.3,261.9 499.6,278.7 499.9,261.1 500.2,279.9 500.5,270.2 500.8,286.8 501.1,270.7 501.4,294.2 501.7,280.1 502,300.1 502.4,289.5 502.7,304.5 503,291.5 503.3,309 503.6,303.6 503.9,313.5 504.2,304.4 504.5,322.4 504.8,306.3 505.1,322.2 505.4,312 505.7,323.5 506,319.6 506.3,328.3 506.6,320 506.9,325.6 507.2,320.8 507.6,328.2 507.9,325.6 508.2,327 508.5,325 508.8,324.6 509.1,329 509.4,322.1 509.7,326.6 510,318.9 510.3,321.9 510.6,308.8 510.9,320.8 511.2,306 511.5,315.9 511.8,293.3 512.1,303.1 512.4,283.2 512.7,295.6 513.1,278.8 513.4,287 513.7,267.6 514,277 514.3,257.3 514.6,262.9 514.9,242.2 515.2,252.4 515.5,229.1 515.8,239.7 516.1,227.9 516.4,229.6 516.7,215.8 517,224.7 517.3,206 517.6,216.1 517.9,203.9 518.3,206.8 518.6,194.4 518.9,203.1 519.2,195.3 519.5,197.8 519.8,200.3 520.1,201 520.4,196 520.7,200.8 521,203.3 521.3,197.9 521.6,205.7 521.9,197.2 522.2,204.4 522.5,200.7 522.8,208.5 523.1,207.8 523.5,213 523.8,206 524.1,218.1 524.4,212.6 524.7,223.8 525,218.7 525.3,229 525.6,217.3 525.9,232.5 526.2,224.8 526.5,237.3 526.8,230.2 527.1,250.7 527.4,232.6 527.7,248.6 528,239.6 528.3,250.8 528.6,238.8 529,254.4 529.3,246.3 529.6,262.9 529.9,251.1 530.2,266.7 530.5,257.5 530.8,272.2 531.1,259.3 531.4,277.3 531.7,267.6 532,284 532.3,271.8 532.6,285.2 532.9,275.9 533.2,291 533.5,280.2 533.8,296.7 534.2,289.9 534.5,299.9 534.8,292.6 535.1,305.2 535.4,295.4 535.7,312 536,301.5 536.3,314.4 536.6,305.2 536.9,317.1 537.2,308.8 537.5,318.5 537.8,313.8 538.1,322.4 538.4,319.1 538.7,321.3 539,321.8 539.4,321.8 539.7,322.5 540,321.8 540.3,321.5 540.6,317.6 540.9,320.9 541.2,315.7 541.5,319.7 541.8,313.9 542.1,318.5 542.4,305.7 542.7,311.5 543,302 543.3,307.7 543.6,298.8 543.9,303.6 544.2,289.4 544.5,300.1 544.9,280.3 545.2,292.4 545.5,278.1 545.8,289.2 546.1,268.7 546.4,278.2 546.7,261.6 547,271.1 547.3,254.4 547.6,263.3 547.9,243.2 548.2,256 548.5,239.7 548.8,246.6 549.1,235.5 549.4,239.8 549.7,223.7 550.1,233.2 550.4,219.5 550.7,226.2 551,219.6 551.3,224.9 551.6,215 551.9,220.8 552.2,213 552.5,213.7 552.8,210.6 553.1,213.9 553.4,216.1 553.7,211.2 554,216.4 554.3,216 554.6,214.3 554.9,213.3 555.3,214.5 555.6,213.6 555.9,219.9 556.2,214.6 556.5,222.5 556.8,218.6 557.1,223.6 557.4,217.9 557.7,226.3 558,219.9 558.3,224.9 558.6,221.9 558.9,230.8 559.2,220.4 559.5,237.2 559.8,222.8 560.1,232.3 560.4,227.7 560.8,234.9 561.1,228 561.4,237.7 561.7,230.6 562,245.8 562.3,236.9 562.6,251.1 562.9,242 563.2,255.4 563.5,244.7 563.8,259.6 564.1,249.6 564.4,262.4 564.7,252.9 565,271.8 565.3,259.2 565.6,275.3 566,266.1 566.3,279.3 566.6,265.2 566.9,284.4 567.2,271 567.5,290.6 567.8,278.2 568.1,299.9 568.4,286.3 568.7,300.6 569,292.4 569.3,303.9 569.6,297.7 569.9,314.2 570.2,303.5 570.5,311.6 570.8,306.8 571.2,320.1 571.5,313 571.8,325.9 572.1,313 572.4,326.9 572.7,319.6 573,328.5 573.3,324.3 573.6,331.3 573.9,324.7 574.2,331.8 574.5,327.2 574.8,329.5 575.1,331.5 575.4,332.4 575.7,328.6 576,330.2 576.3,332.6 576.7,333.2 577,334.6 577.3,329.6 577.6,328.1 577.9,325.2 578.2,331.4 578.5,322.7 578.8,328.1 579.1,316.7 579.4,328.3 579.7,313.3 580,318.8 580.3,303.1 580.6,317.2 580.9,296.4 581.2,308.3 581.5,294.6 581.9,298.1 582.2,281.2 582.5,290.2 582.8,274 583.1,284.1 583.4,268.9 583.7,275.7 584,254.4 584.3,269.7 584.6,245.8 584.9,256.4 585.2,245.9 585.5,248 585.8,234.9 586.1,245.4 586.4,227.7 586.7,233.2 587.1,226.2 587.4,230.2 587.7,218.6 588,227.3 588.3,214.3 588.6,220.9 588.9,214.7 589.2,223.5 589.5,214.2 589.8,217.8 590.1,208.6 590.4,213.5 590.7,208.9 591,213.5 591.3,211 591.6,211.4 591.9,212.3 592.3,210 592.6,210.6 592.9,213.1 593.2,213.8 593.5,210.4 593.8,219.6 594.1,214 594.4,224.5 594.7,220.3 595,228.8 595.3,222.3 595.6,234.5 595.9,226.8 596.2,236.6 596.5,230.8 596.8,243 597.1,231.8 597.4,250.8 597.8,240.8 598.1,257.1 598.4,249.6 598.7,259.8 599,252.9 599.3,271.6 599.6,260.4 599.9,280.4 600.2,264.1 600.5,279.9 600.8,265.5 601.1,290.5 601.4,277.4 601.7,293.1 602,278.8 602.3,299.8 602.6,282.9 603,303.1 603.3,293.6 603.6,310.9 603.9,298.4 604.2,313.9 604.5,298.5 604.8,312.7 605.1,298.8 605.4,320.8 605.7,309.3 606,325.1 606.3,310.9 606.6,325 606.9,312.9 607.2,329.9 607.5,319.2 607.8,328 608.2,317.6 608.5,332.1 608.8,326.1 609.1,331.8 609.4,327.7 609.7,335.3 610,332.3 610.3,335.1 610.6,336.1 610.9,334.9 611.2,332.9 611.5,334.4 611.8,330 612.1,332.5 612.4,337.4 612.7,333.7 613,333.3 613.3,331.3 613.7,330.3 614,327.4 614.3,333.6 614.6,325.3 614.9,328.2 615.2,320.6 615.5,329.8 615.8,315.4 616.1,323.7 616.4,305.2 616.7,313.6 617,303.4 617.3,313.3 617.6,298.3 617.9,304.8 618.2,290.8 618.5,304.7 618.9,285.2 619.2,294.5 619.5,272.9 619.8,291.3 620.1,271.3 620.4,282.5 620.7,261.9 621,276.4 621.3,256.6 621.6,264.7 621.9,244.2 622.2,257.1 622.5,237.5 622.8,249.5 623.1,235.3 623.4,238.7 623.7,231.4 624.1,233 624.4,220.9 624.7,228.3 625,215.3 625.3,223.9 625.6,215.7 625.9,217.6 626.2,215.7 626.5,215.5 626.8,210.6 627.1,210.4 627.4,206.6 627.7,209 628,210 628.3,209.1 628.6,213.8 628.9,205.2 629.2,212.5 629.6,207.7 629.9,219.4 630.2,211.3 630.5,219.5 630.8,212.6 631.1,225 631.4,216.8 631.7,226.5 632,215.7 632.3,233.6 632.6,223.7 632.9,237 633.2,227.7 633.5,239.7 633.8,228.9 634.1,244 634.4,232.2 634.8,245.2 635.1,236.4 635.4,248.7 635.7,240.7 636,257.7 636.3,243.8 636.6,264 636.9,242.7 637.2,260.5 637.5,254.4 637.8,265.8 638.1,251.8 638.4,273.1 638.7,260.2 639,273.2 639.3,264.4 639.6,277.6 640,264.3 640.3,283.5 640.6,270.5 640.9,287.2 641.2,274.7 641.5,293 641.8,281.1 642.1,298.8 642.4,287.6 642.7,301.2 643,291.1 643.3,304 643.6,294.6 643.9,313.8 644.2,302.9 644.5,316 644.8,308.4 645.1,317.6 645.5,311.9 645.8,322.1 646.1,317.2 646.4,327.8 646.7,317.8 647,329 647.3,320.4 647.6,329.5 647.9,327.5 648.2,339.6 648.5,328.2 648.8,332.6 649.1,328.1 649.4,334.8 649.7,327.8 650,330.6 650.3,333.1 650.7,328.7 651,335.6 651.3,332 651.6,330.8 651.9,326.1 652.2,328.1 652.5,321 652.8,329.4 653.1,319.9 653.4,325.9 653.7,314.9 654,320.2 654.3,308.6 654.6,313.8 654.9,301.8 655.2,312.9 655.5,297 655.9,302.2 656.2,285.7 656.5,295.9 656.8,279.1 657.1,283.8 657.4,267.8 657.7,276.7 658,262.1 658.3,268.8 658.6,252.8 658.9,261.1 659.2,247.5 659.5,255 659.8,234.9 660.1,247 660.4,232.6 660.7,242.3 661,222.1 661.4,234.6 661.7,218.7 662,226.3 662.3,214.4 662.6,222.4 662.9,213.7 663.2,219.4 663.5,213.8 663.8,219 664.1,210.9 664.4,213 664.7,212.1 665,209.3 665.3,206.1 665.6,212.7 665.9,211.2 666.2,212.7 666.6,209.8 666.9,207.6 667.2,209.7 667.5,211.1 667.8,210.1 668.1,208.7 668.4,210.6 668.7,208.2 669,217 669.3,212.3 669.6,214.1 669.9,210.8 670.2,218.9 670.5,215.5 670.8,221.3 671.1,217 671.4,221.2 671.8,216.4 672.1,232.6 672.4,225.4 672.7,231.6 673,223.7 673.3,240.3 673.6,229 673.9,241.6 674.2,235.8 674.5,248.6 674.8,240.5 675.1,257.7 675.4,242.6 675.7,260.3 676,250.3 676.3,264.4 676.6,252.7 676.9,273.7 677.3,256.2 677.6,281.1 677.9,267 678.2,280.8 678.5,272.1 678.8,289.2 679.1,279.2 679.4,293.5 679.7,282.5 680,296 680.3,290.1 680.6,302.2 680.9,289.8 681.2,305.3 681.5,297.6 681.8,310 682.1,299.2 682.5,317.8 682.8,301.9 683.1,318.4 683.4,309.9 683.7,318.7 684,313.8 684.3,322.1 684.6,317 684.9,327.8 685.2,317.5 685.5,329.7 685.8,322.3 686.1,331.3 686.4,327.1 686.7,331.3 687,328.8 687.3,330.8 687.7,328.7 688,326.1 688.3,330.3 688.6,327.1 688.9,332.5 689.2,319.6 689.5,327.3 689.8,323.5 690.1,322.4 690.4,315.6 690.7,326.9 691,315.1 691.3,318.3 691.6,311.9 691.9,318.6 692.2,305.4 692.5,314.3 692.9,298.9 693.2,305.2 693.5,294.5 693.8,306.4 694.1,289.2 694.4,303.4 694.7,286.1 695,288.7 695.3,278.3 695.6,290.6 695.9,272.5 696.2,284.5 696.5,268.2 696.8,282.4 697.1,263.8 697.4,276.6 697.7,258.1 698,267.4 698.4,257.4 698.7,257.2 699,246.9 699.3,258.9 699.6,243.6 699.9,254.7 700.2,239.1 700.5,247.8 700.8,239.4 701.1,244.4 701.4,232.6 701.7,238.4 702,228.3 702.3,236.3 702.6,227.4 702.9,232.2 703.2,223.4 703.6,230.3 703.9,220.2 704.2,226.1 704.5,222.1 704.8,223.3 705.1,222.8 705.4,221.9 705.7,221.3 706,226.3 706.3,225.1 706.6,225.1 706.9,225.1 707.2,225.3 707.5,229.1 707.8,226.3 708.1,233.6 708.4,225.1 708.8,233.4 709.1,226.2 709.4,227.1 709.7,226.1 710,237.2 710.3,232.7 710.6,237.9 710.9,234.9 711.2,243.8 711.5,235 711.8,247.2 712.1,238.5 712.4,248.6 712.7,236.8 713,255.5 713.3,240.8 713.6,252.9 713.9,244.7 714.3,257.3 714.6,248.8 714.9,262.6 715.2,252.6 715.5,264.2 715.8,251.3 716.1,266.6 716.4,256.9 716.7,271 717,263.9 717.3,275 717.6,263 717.9,280.2 718.2,267.5 718.5,281.6 718.8,270.8 719.1,287.4 719.5,276.6 719.8,292.2 720.1,277.3 720.4,294.5 720.7,282.4 721,299.4 721.3,280.2 721.6,298.4 721.9,289.7 722.2,304.2 722.5,291.1 722.8,309.1 723.1,297 723.4,311 723.7,303.2 724,316.4 724.3,302.9 724.7,316.5 725,310.7 725.3,319.8 725.6,307.5 725.9,321.2 726.2,314 726.5,322.7 726.8,318.8 727.1,327.1 727.4,319.4 727.7,328.9 728,322.6 728.3,329.3 728.6,325.3 728.9,331.5 729.2,325.8 729.5,330.9 729.8,329.4 730.2,330.4 730.5,328.4 730.8,334.7 731.1,331.4 731.4,331.3 731.7,332 732,329.5 732.3,332.1 732.6,327.3 732.9,329.2 733.2,326.7 733.5,327.7 733.8,324 734.1,322.3 734.4,314.5 734.7,323.9 735,311.8 735.4,315.4 735.7,305.5 736,310.9 736.3,299.6 736.6,303.5 736.9,292.5 737.2,300.5 737.5,286.7 737.8,297.1 738.1,278.8 738.4,292.3 738.7,272.3 739,278.2 739.3,259.5 739.6,278.7 739.9,260.5 740.2,270.7 740.6,254.6 740.9,264.1 741.2,251.4 741.5,259.5 741.8,248.1 742.1,253.8 742.4,235.3 742.7,248.9 743,235.8 743.3,243.7 743.6,236.1 743.9,238.3 744.2,232.1 744.5,236.4 744.8,225.7 745.1,233.9 745.4,222.8 745.7,229.8 746.1,224.7 746.4,225.8 746.7,222.5 747,225.5 747.3,220.1 747.6,224.1 747.9,220.1 748.2,222.1 748.5,218.8 748.8,220.8 749.1,222.8 749.4,218.9 749.7,222.6 750,220.1 750.3,226.7 750.6,220.6 750.9,228.6 751.3,225.7 751.6,231.5 751.9,222.7 752.2,233.6 752.5,229.5 752.8,234 753.1,231.3 753.4,239.3 753.7,232 754,242.1 754.3,232.5 754.6,244.3 754.9,235.5 755.2,249 755.5,240.4 755.8,250 756.1,241.8 756.5,257 756.8,240.8 757.1,255.1 757.4,245.7 757.7,261.6 758,252.5 758.3,263.9 758.6,251.8 758.9,268.4 759.2,259.1 759.5,266.7 759.8,262.4 760.1,273.6 760.4,268 760.7,277.8 761,268.2 761.3,283.4 761.6,270.7 762,286.4 762.3,278.8 762.6,288.9 762.9,281.8 763.2,294.8 763.5,281.2 763.8,298.3 764.1,288.5 764.4,302.5 764.7,291.7 765,304.7 765.3,297.1 765.6,304 765.9,303.2 766.2,309.1 766.5,300.5 766.8,309.8 767.2,306.3 767.5,313.7 767.8,307.4 768.1,315.5 768.4,311.7 768.7,311.7 769,309.6 769.3,312.6 769.6,312.1 769.9,317.6 770.2,314 770.5,312.6 770.8,313.1 771.1,316.4 771.4,313 771.7,313.7 772,314.6 772.4,309.1 772.7,315.3 773,312 773.3,314.3 773.6,307.2 773.9,310.4 774.2,306.5 774.5,310.6 774.8,304.1 775.1,309 775.4,304.5 775.7,308.9 776,295.6 776.3,301.8 776.6,297.7 776.9,299 777.2,292.5 777.5,298.5 777.9,283.2 778.2,290.4 778.5,279.9 778.8,287.1 779.1,272 779.4,281.7 779.7,270.3 780,274 780.3,263 780.6,270 780.9,256 781.2,268.6 781.5,249.7 781.8,259.8 782.1,251.4 782.4,252.4 782.7,247.1 783.1,253.7 783.4,241 783.7,248.5 784,237.7 784.3,245.6 784.6,237.4 784.9,242.3 785.2,238.7 785.5,241 785.8,236.7 786.1,239.1 786.4,231.1 786.7,236.2 787,233.8 787.3,231.9 787.6,235.4 787.9,233.8 788.3,233.5 788.6,231.7 788.9,233.2 789.2,234 789.5,232.8 789.8,233.4 790.1,230.3 790.4,236.2 790.7,233 791,229.4 791.3,234.8 791.6,232.8 791.9,239.8 792.2,234.1 792.5,241.9 792.8,235.3 793.1,246.4 793.5,239.3 793.8,246.8 794.1,238.1 794.4,248.3 794.7,240.9 795,251.2 795.3,246.3 795.6,249.5 795.9,245.2 796.2,254 796.5,246.1 796.8,256.6 797.1,249.6 797.4,259.4 797.7,256 798,265.7 798.3,254.4 798.6,266 799,260.3 799.3,269.2 799.6,261.5 799.9,274.2 800.2,267.1 800.5,276.6 800.8,267.8 801.1,280.8 801.4,273.9 801.7,278.2 802,273.1 802.3,283.6 802.6,273.7 802.9,284 803.2,276.4 803.5,284.4 803.8,278.3 804.2,284.3 804.5,280.7 804.8,284 805.1,287.6 805.4,293.3 805.7,287.5 806,292.1 806.3,289.8 806.6,295.9 806.9,291.4 807.2,296.4 807.5,289.2 807.8,296.4 808.1,291.4 808.4,294.4 808.7,291.6 809,298.1 809.4,296.8 809.7,295.1 810,299.6 810.3,300.9 810.6,295.8 810.9,297 811.2,297.3 811.5,299.7 811.8,296.7 812.1,294.9 812.4,298 812.7,292.3 813,297.5 813.3,297.5 813.6,297.4 813.9,296.1 814.2,297.1 814.5,294.5 814.9,295.6 815.2,290 815.5,294 815.8,290 816.1,295.3 816.4,290.8 816.7,292.2 817,284.9 817.3,288.3 817.6,283.8 817.9,290.6 818.2,282.7 818.5,286.6 818.8,278.7 819.1,286.4 819.4,278.6 819.7,282.5 820.1,276.3 820.4,284.8 820.7,273.3 821,282.4 821.3,273.1 821.6,275.6 821.9,270.7 822.2,272.3 822.5,263.2 822.8,269.5 823.1,260 823.4,267.4 823.7,260.6 824,265.1 824.3,258.8 824.6,255.3 824.9,255.2 825.3,255.8 825.6,253.3 825.9,255.1 826.2,251.2 826.5,257 826.8,246 827.1,252.9 827.4,247.2 827.7,246.5 828,247.6 828.3,249.4 828.6,244.7 828.9,246.2 829.2,251.4 829.5,245.9 829.8,241.1 830.1,244 830.4,244 830.8,244.7 831.1,244.8 831.4,243.2 831.7,246.4 832,244.2 832.3,243 832.6,243.7 832.9,245.7 833.2,247.3 833.5,248.3 833.8,245.4 834.1,248.2 834.4,247 834.7,253.3 835,245.9 835.3,250.4 835.6,249.6 836,249.2 836.3,248.9 836.6,252.5 836.9,248.6 837.2,255.3 837.5,253 837.8,256.6 838.1,251.7 838.4,256.5 838.7,258.4 839,255.1 839.3,254.2 839.6,261 839.9,255.9 840.2,261.8 840.5,256.7 840.8,263.8 841.2,261.6 841.5,262.5 841.8,260.7 842.1,264.7 842.4,261.3 842.7,266.6 843,260.2 843.3,269.6 843.6,267.4 843.9,272.1 844.2,267.8 844.5,268 844.8,268.5 845.1,270.4 845.4,267 845.7,275.6 846,266.2 846.3,274.2 846.7,269.2 847,273.4 847.3,268.2 847.6,275.6 847.9,270.5 848.2,277.4 848.5,274.5 848.8,273.7 849.1,271.4 849.4,276.4 849.7,270.9 850,275.8 850.3,274.8 850.6,278 850.9,271.7 851.2,278.1 851.5,277.1 851.9,277.7 852.2,275.3 852.5,283.6 852.8,281 853.1,278.2 853.4,276.2 853.7,282.9 854,277.5 854.3,282 854.6,279.9 854.9,284 855.2,276.4 855.5,279 855.8,279.9 856.1,285.8 856.4,282.4 856.7,280.5 857.1,284.1 857.4,285.3 857.7,283 858,283.1 858.3,284.6 858.6,286 858.9,284 859.2,284.2 859.5,283.5 859.8,282 860.1,281.7 860.4,282.6 860.7,282.5 861,280.9 861.3,284.5 861.6,281.5 861.9,283.9 862.2,276.6 862.6,282.8 862.9,278 863.2,279.1 863.5,276.3 863.8,282.7 864.1,278.7 864.4,277.8 864.7,274 865,278.2 865.3,274.1 865.6,281 865.9,271.1 866.2,272.1 866.5,272.5 866.8,275.1 867.1,271.4 867.4,275.2 867.8,274.5 868.1,272 868.4,267.7 868.7,267.6 869,268.2 869.3,272.1 869.6,265.5 869.9,270.9 870.2,265 870.5,270.7 870.8,264.5 871.1,264.1 871.4,261.4 871.7,262.4 872,258.4 872.3,264.6 872.6,263 873,266.9 873.3,260.2 873.6,261.8 873.9,257.5 874.2,263.7 874.5,260.1 874.8,259.5 875.1,260.3 875.4,261.2 875.7,255.1 876,261.5 876.3,258.8 876.6,258.7 876.9,257.6 877.2,262.7 877.5,261.6 877.8,262.7 878.1,256.4 878.5,257.9 878.8,260.7 879.1,256.7 879.4,257.7 879.7,255.5 880,263.2 880.3,261.4 880.6,260.8 880.9,259.9 881.2,259.3 881.5,259.1 881.8,262.2 882.1,258.8 882.4,264 882.7,259.7 883,260.4 883.3,264 883.7,262.8 884,263.1 884.3,263.2 884.6,258.3 884.9,266.1 885.2,260.9 885.5,267.9 885.8,261.4 886.1,263.7 886.4,265.9 886.7,268.9 887,266.8 887.3,267 887.6,269.3 887.9,267 888.2,267.7 888.5,269.5 888.9,268.5 889.2,274 889.5,269 889.8,274.3 890.1,273.1 890.4,270.6 890.7,269.7 891,273.7 891.3,271.3 891.6,275.7 891.9,269.4 892.2,277.1 892.5,275.3 892.8,276.1 893.1,271.6 893.4,276.7 893.7,273.8 894.1,278.6 894.4,275.4 894.7,279.4 895,275.4 895.3,281 895.6,272 895.9,276.3 896.2,278.2 896.5,275.9 896.8,278.7 897.1,276.5 897.4,277.9 897.7,277.3 898,277 898.3,280.1 898.6,278.2 898.9,279.1 899.2,283.1 899.6,280 899.9,277.1 900.2,282.1 900.5,280.9 900.8,283 901.1,283.1 901.4,278.9 901.7,282 902,283.1 902.3,280 902.6,281.4 902.9,274.2 903.2,279.8 903.5,284.1 903.8,277.4 904.1,279.5 904.4,281.6 904.8,281.9 905.1,284.3 905.4,277.3 905.7,281 906,282.6 906.3,278.2 906.6,280.9 906.9,284.5 907.2,283.6 907.5,281.7 907.8,275.8 908.1,280 908.4,281.7 908.7,279.5 909,280.6 909.3,285.7 909.6,280.1 910,277.5 910.3,280.7 910.6,278.2 910.9,279.3 911.2,278.3 911.5,281.3 911.8,278.5 912.1,276.8 912.4,277 912.7,279.5 913,275.5 913.3,280.3 913.6,277.3 913.9,275.5 914.2,275.9 914.5,280.6 914.8,277.3 915.1,275.8 915.5,275 915.8,273.8 916.1,269.5 916.4,275.1 916.7,271.7 917,274.2 917.3,270.1 917.6,272.8 917.9,268.5 918.2,272.2 918.5,269.8 918.8,270.3 919.1,269.1 919.4,265.7 919.7,265 920,271.7 920.3,269.4 920.7,268.4 921,265.4 921.3,264.7 921.6,265.6 921.9,268.2 922.2,261.5 922.5,266.9 922.8,265.1 923.1,266.6 923.4,261.3 923.7,266 924,260.2 924.3,267.8 924.6,263.2"/>
<polyline fill="none" stroke="#0000ff" stroke-width="3.2" stroke-linejoin="round" points="76.6,260.4 78.6,260.5 80.6,259 82.6,258.6 84.6,259.5 86.6,259.3 88.6,257.6 90.6,254.2 92.6,251.7 94.6,248.9 96.6,245.4 98.6,240.2 100.6,238.2 102.6,239.6 104.6,243.9 106.6,245.9 108.6,243.9 110.6,244.1 112.6,245.3 114.6,243.5 116.6,240.7 118.6,238.9 120.6,241.6 122.6,244.2 124.6,242.1 126.6,242.1 128.6,242.5 130.6,241.7 132.6,240.6 134.6,239.6 136.6,239.9 138.6,239.3 140.6,238.1 142.6,236.6 144.6,235.5 146.6,236.6 148.6,236.6 150.6,232.9 152.6,232.4 154.6,235.7 156.6,236.9 158.6,235.6 160.6,234.6 162.6,234.6 164.6,236.3 166.6,239.5 168.6,241.6 170.6,242.4 172.6,239.2 174.6,233.5 176.6,227.6 178.6,226.2 180.6,225.9 182.6,223.2 184.6,218.3 186.6,211.8 188.6,211 190.6,212.8 192.6,213.9 194.6,211.8 196.6,210.3 198.6,209.3 200.6,206.6 202.6,206.8 204.6,207 206.6,203.9 208.6,201.7 210.6,200.4 212.6,206.9 214.6,214.5 216.6,221.1 218.6,219.6 220.6,217.5 222.6,217.7 224.6,214.7 226.6,211.8 228.6,211.3 230.6,210.4 232.6,210.6 234.6,207.8 236.6,201.6 238.6,196.8 240.6,193 242.6,190.5 244.6,190.6 246.6,195.6 248.6,197.6 250.6,197.7 252.6,194.9 254.6,190.2 256.6,184.5 258.6,183.2 260.6,187.6 262.6,191.7 264.6,196.7 266.6,200.1 268.6,200.2 270.6,197.4 272.6,194.8 274.6,193.4 276.6,192.9 278.6,193.5 280.6,195.7 282.6,196.5 284.6,197.4 286.6,195.9 288.6,195.8 290.6,193.8 292.6,189.4 294.6,188.2 296.6,185 298.6,180.6 300.6,176.5 302.6,171.1 304.6,164.9 306.6,163.4 308.6,167.9 310.6,168.4 312.6,165 314.6,165 316.6,171.2 318.6,174.3 320.6,170.4 322.6,165.8 324.6,166.6 326.6,168.9 328.6,170.6 330.6,171.5 332.6,169.7 334.6,167.3 336.6,168.5 338.6,174.6 340.6,177 342.6,173.6 344.6,173.2 346.6,175.8 348.6,174.7 350.6,170.7 352.6,166.8 354.6,164.4 356.6,162.5 358.6,161.7 360.6,162.5 362.6,162.4 364.6,159.1 366.6,156.8 368.6,155 370.6,153.9 372.6,154.5 374.6,153.7 376.6,153.8 378.6,154.5 380.6,153 382.6,155.9 384.6,160.3 386.6,160.3 388.6,161.1 390.6,165 392.6,167.6 394.6,166.6 396.6,164.2 398.6,169.5 400.6,177.6 402.6,180.4 404.6,180 406.6,174.5 408.6,169.6 410.6,163.4 412.6,158.6 414.6,160.5 416.6,161.6 418.6,158.6 420.6,156.3 422.6,155.5 424.6,154.4 426.6,151.9 428.6,146 430.6,141.9 432.6,143.7 434.6,143.2 436.6,135.5 438.6,129.9 440.6,122.3 442.6,122.6 444.6,129.8 446.6,131.8 448.6,127.8 450.6,125.2 452.6,128.3 454.6,133.2 456.6,130.5 458.6,126.8 460.6,126.4 462.6,127.9 464.6,129.7 466.6,132 468.6,137 470.6,143.3 472.6,149.7 474.6,154.4 476.6,158.6 478.6,163.2 480.6,160 482.6,156.4 484.6,154.8 486.6,153.4 488.6,148.6 490.6,140.1 492.6,135.1 494.6,136.2 496.6,139.8 498.6,137.9 500.6,133.2 502.6,129.6 504.6,125.7 506.6,126.4 508.6,128.9 510.6,129.1 512.6,127.2 514.6,125.6 516.6,127.2 518.6,128.9 520.6,130.4 522.6,134.4 524.6,139.3 526.6,143 528.6,144.6 530.6,143.1 532.6,142.6 534.6,141.5 536.6,141.3 538.6,143.4 540.6,144.2 542.6,142.7 544.6,140.9 546.6,138.8 548.6,138.4 550.6,141.1 552.6,146.5 554.6,153.1 556.6,148.9 558.6,139.9 560.6,137.5 562.6,142.1 564.6,143.1 566.6,142.2 568.6,140.8 570.6,137.2 572.6,135.3 574.6,133.8 576.6,131.8 578.6,126.2 580.6,126.7 582.6,126.8 584.6,122.2 586.6,117 588.6,119.7 590.6,125.9 592.6,133.8 594.6,140.6 596.6,138.9 598.6,132.1 600.6,129.4 602.6,133.8 604.6,140.6 606.6,142.6 608.6,138.7 610.6,136.3 612.6,141.3 614.6,148.4 616.6,152.1 618.6,147 620.6,142.6 622.6,139.3 624.6,140.1 626.6,143 628.6,145.3 630.6,147.3 632.6,149.1 634.6,148.5 636.6,145.8 638.6,146.2 640.6,148 642.6,144.2 644.6,143.1 646.6,143.5 648.6,141.4 650.6,138.2 652.6,136.2 654.6,135.6 656.6,132.2 658.6,132.9 660.6,139.6 662.6,143 664.6,138.4 666.6,134.1 668.6,134 670.6,140 672.6,144.4 674.6,141.3 676.6,139.2 678.6,142.3 680.6,146.4 682.6,144 684.6,138.4 686.6,135 688.6,138.8 690.6,143.6 692.6,146.2 694.6,148 696.6,150.4 698.6,151.9 700.6,151.2 702.6,150.8 704.6,149.6 706.6,150.9 708.6,154.6 710.6,157.1 712.6,158.4 714.6,162.3 716.6,165.2 718.6,164.6 720.6,162.4 722.6,162.5 724.6,164.3 726.6,164 728.6,163.6 730.6,162.6 732.6,162.9 734.6,163.7 736.6,165 738.6,166.4 740.6,164.9 742.6,162.9 744.6,161.9 746.6,164 748.6,166.5 750.6,168.7 752.6,168.6 754.6,164.3 756.6,161.8 758.6,163.1 760.6,166.5 762.6,170.9 764.6,174.6 766.6,178.3 768.6,181.5 770.6,180.6 772.6,178.6 774.6,177.5 776.6,177.1 778.6,177.2 780.6,177.7 782.6,183 784.6,187.9 786.6,189.4 788.6,189.5 790.6,189.1 792.6,191.2 794.6,194.5 796.6,199.5 798.6,205.1 800.6,209 802.6,214.4 804.6,215.1 806.6,215.7 808.6,220.2 810.6,223.2 812.6,220.6 814.6,218.5 816.6,221.2 818.6,225.4 820.6,225.2 822.6,222.9 824.6,222.1 826.6,220.7 828.6,219.7 830.6,221.5 832.6,224 834.6,224 836.6,224.6 838.6,226.5 840.6,230.1 842.6,233 844.6,232.7 846.6,234.6 848.6,237.2 850.6,236.8 852.6,236.6 854.6,238.4 856.6,240.6 858.6,242.2 860.6,244.6 862.6,245.3 864.6,243.8 866.6,243.8 868.6,242.4 870.6,243.7 872.6,246.7 874.6,248.4 876.6,248.9 878.6,251.7 880.6,253.3 882.6,250.1 884.6,249 886.6,254.1 888.6,256 890.6,253.9 892.6,255.3 894.6,255.6 896.6,254.7 898.6,259.2 900.6,263.5 902.6,265.4 904.6,265.2 906.6,262.4 908.6,262.9 910.6,260.7 912.6,252.2 914.6,251.3 916.6,255.5 918.6,253.9 920.6,251.6 922.6,251.6 924.6,250.4"/>
<polyline fill="none" stroke="#0000ff" stroke-width="3" stroke-dasharray="5 10.4" stroke-linecap="round" points="76,267 80,266.7 84,266.4 88,266.1 92,265.8 96,265.5 100,265.2 104,265 108,264.7 112,264.4 116,264.1 120,263.9 124,263.6 128,263.3 132,263.1 136,262.8 140,262.6 144,262.4 148,262.1 152,261.9 156,261.7 160,261.4 164,261.2 168,261 172,260.8 176,260.6 180,260.3 184,260.1 188,259.9 192,259.7 196,259.5 200,259.3 204,259.1 208,259 212,258.8 216,258.6 220,258.4 224,258.2 228,258.1 232,257.9 236,257.8 240,257.6 244,257.5 248,257.3 252,257.2 256,257 260,256.9 264,256.7 268,256.6 272,256.5 276,256.3 280,256.2 284,256.1 288,256 292,255.8 296,255.7 300,255.6 304,255.5 308,255.4 312,255.2 316,255.1 320,255 324,254.9 328,254.8 332,254.6 336,254.5 340,254.4 344,254.2 348,254.1 352,253.9 356,253.8 360,253.7 364,253.6 368,253.4 372,253.3 376,253.2 380,253.1 384,253 388,252.9 392,252.9 396,252.8 400,252.8 404,252.7 408,252.7 412,252.7 416,252.7 420,252.8 424,253 428,253.1 432,253.3 436,253.5 440,253.7 444,254 448,254.3 452,254.6 456,254.9 460,255.2 464,255.5 468,255.8 472,256.2 476,256.5 480,256.8 484,257.1 488,257.5 492,257.9 496,258.3 500,258.7 504,259.2 508,259.7 512,260.2 516,260.7 520,261.2 524,261.7 528,262.2 532,262.7 536,263.3 540,263.8 544,264.2 548,264.7 552,265.2 556,265.6 560,266 564,266.4 568,266.8 572,267.2 576,267.7 580,268.1 584,268.6 588,269 592,269.5 596,269.9 600,270.4 604,270.8 608,271.2 612,271.6 616,271.9 620,272.3 624,272.6 628,272.9 632,273.1 636,273.3 640,273.4 644,273.5 648,273.6 652,273.6 656,273.6 660,273.6 664,273.6 668,273.5 672,273.5 676,273.5 680,273.5 684,273.4 688,273.4 692,273.3 696,273.3 700,273.3 704,273.2 708,273.2 712,273.1 716,273 720,273 724,272.9 728,272.9 732,272.8 736,272.8 740,272.7 744,272.7 748,272.6 752,272.6 756,272.5 760,272.5 764,272.5 768,272.4 772,272.4 776,272.3 780,272.3 784,272.3 788,272.2 792,272.2 796,272.1 800,272.1 804,272.1 808,272 812,272 816,271.9 820,271.9 824,271.8 828,271.8 832,271.8 836,271.7 840,271.7 844,271.6 848,271.6 852,271.6 856,271.5 860,271.5 864,271.4 868,271.4 872,271.4 876,271.3 880,271.3 884,271.2 888,271.2 892,271.2 896,271.1 900,271.1 904,271 908,271 912,270.9 916,270.9 920,270.9 924,270.8"/>
<line x1="269.7" y1="16" x2="269.7" y2="355.5" stroke="#f010f0" stroke-width="3" stroke-dasharray="5.3 10" stroke-linecap="round"/>
</g>
<rect x="76.2" y="16" width="850" height="339.5" fill="none" stroke="#000" stroke-width="2.3"/>
<line x1="160.9" y1="355.5" x2="160.9" y2="368.5" stroke="#000" stroke-width="2.2"/>
<line x1="330.8" y1="355.5" x2="330.8" y2="368.5" stroke="#000" stroke-width="2.2"/>
<line x1="500.7" y1="355.5" x2="500.7" y2="368.5" stroke="#000" stroke-width="2.2"/>
<line x1="670.6" y1="355.5" x2="670.6" y2="368.5" stroke="#000" stroke-width="2.2"/>
<line x1="840.4" y1="355.5" x2="840.4" y2="368.5" stroke="#000" stroke-width="2.2"/>
<line x1="76" y1="355.5" x2="76" y2="362" stroke="#000" stroke-width="2.2"/>
<line x1="245.9" y1="355.5" x2="245.9" y2="362" stroke="#000" stroke-width="2.2"/>
<line x1="415.8" y1="355.5" x2="415.8" y2="362" stroke="#000" stroke-width="2.2"/>
<line x1="585.6" y1="355.5" x2="585.6" y2="362" stroke="#000" stroke-width="2.2"/>
<line x1="755.5" y1="355.5" x2="755.5" y2="362" stroke="#000" stroke-width="2.2"/>
<line x1="925.4" y1="355.5" x2="925.4" y2="362" stroke="#000" stroke-width="2.2"/>
<line x1="160.9" y1="16" x2="160.9" y2="3" stroke="#000" stroke-width="2.2"/>
<line x1="330.8" y1="16" x2="330.8" y2="3" stroke="#000" stroke-width="2.2"/>
<line x1="500.7" y1="16" x2="500.7" y2="3" stroke="#000" stroke-width="2.2"/>
<line x1="670.6" y1="16" x2="670.6" y2="3" stroke="#000" stroke-width="2.2"/>
<line x1="840.4" y1="16" x2="840.4" y2="3" stroke="#000" stroke-width="2.2"/>
<line x1="76" y1="16" x2="76" y2="9.5" stroke="#000" stroke-width="2.2"/>
<line x1="245.9" y1="16" x2="245.9" y2="9.5" stroke="#000" stroke-width="2.2"/>
<line x1="415.8" y1="16" x2="415.8" y2="9.5" stroke="#000" stroke-width="2.2"/>
<line x1="585.6" y1="16" x2="585.6" y2="9.5" stroke="#000" stroke-width="2.2"/>
<line x1="755.5" y1="16" x2="755.5" y2="9.5" stroke="#000" stroke-width="2.2"/>
<line x1="925.4" y1="16" x2="925.4" y2="9.5" stroke="#000" stroke-width="2.2"/>
<line x1="76" y1="16" x2="63" y2="16" stroke="#000" stroke-width="2.2"/>
<line x1="76" y1="100.9" x2="63" y2="100.9" stroke="#000" stroke-width="2.2"/>
<line x1="76" y1="185.8" x2="63" y2="185.8" stroke="#000" stroke-width="2.2"/>
<line x1="76" y1="270.6" x2="63" y2="270.6" stroke="#000" stroke-width="2.2"/>
<line x1="76" y1="355.5" x2="63" y2="355.5" stroke="#000" stroke-width="2.2"/>
<line x1="76" y1="58.4" x2="69.5" y2="58.4" stroke="#000" stroke-width="2.2"/>
<line x1="76" y1="143.3" x2="69.5" y2="143.3" stroke="#000" stroke-width="2.2"/>
<line x1="76" y1="228.2" x2="69.5" y2="228.2" stroke="#000" stroke-width="2.2"/>
<line x1="76" y1="313.1" x2="69.5" y2="313.1" stroke="#000" stroke-width="2.2"/>
<line x1="926" y1="16" x2="939" y2="16" stroke="#000" stroke-width="2.2"/>
<line x1="926" y1="100.9" x2="939" y2="100.9" stroke="#000" stroke-width="2.2"/>
<line x1="926" y1="185.8" x2="939" y2="185.8" stroke="#000" stroke-width="2.2"/>
<line x1="926" y1="270.6" x2="939" y2="270.6" stroke="#000" stroke-width="2.2"/>
<line x1="926" y1="355.5" x2="939" y2="355.5" stroke="#000" stroke-width="2.2"/>
<line x1="926" y1="58.4" x2="932.5" y2="58.4" stroke="#000" stroke-width="2.2"/>
<line x1="926" y1="143.3" x2="932.5" y2="143.3" stroke="#000" stroke-width="2.2"/>
<line x1="926" y1="228.2" x2="932.5" y2="228.2" stroke="#000" stroke-width="2.2"/>
<line x1="926" y1="313.1" x2="932.5" y2="313.1" stroke="#000" stroke-width="2.2"/>
<text x="160.9" y="404.8" font-size="35" text-anchor="middle">500</text>
<text x="330.8" y="404.8" font-size="35" text-anchor="middle">550</text>
<text x="500.7" y="404.8" font-size="35" text-anchor="middle">600</text>
<text x="670.6" y="404.8" font-size="35" text-anchor="middle">650</text>
<text x="840.4" y="404.8" font-size="35" text-anchor="middle">700</text>
<text x="502" y="455.6" font-size="41.5" text-anchor="middle">Wavelength (nm)</text>
<text transform="translate(36.8,184.8) rotate(-90)" font-size="41.5" text-anchor="middle">Intensity (a.u.)</text>
<text x="80.5" y="49.4" font-size="35">(a)</text>
<path d="M80.5 77.6H99.8M113.8 77.6H132.5" stroke="#555" stroke-width="3" stroke-linecap="round" fill="none"/>
<rect x="102.5" y="73.4" width="8.4" height="8.4" fill="#fff" stroke="#505050" stroke-width="1.3"/>
<text x="139.5" y="87" font-size="23.6">Raw fringe</text>
<line x1="79.4" y1="107" x2="133.6" y2="107" stroke="#0000ff" stroke-width="3"/>
<text x="139.5" y="116.2" font-size="23.6">Reflection</text>
<path d="M713.5 30.6H733.2M746.2 30.6H766" stroke="#e03030" stroke-width="3" stroke-linecap="round" fill="none"/>
<circle cx="739.7" cy="30.6" r="4.5" fill="#fff" stroke="#e03030" stroke-width="1.3"/>
<text x="772" y="38.8" font-size="23.6">Subtracted_1</text>
<line x1="712.2" y1="59.9" x2="767" y2="59.9" stroke="#0000ff" stroke-width="3" stroke-dasharray="5 10.4" stroke-linecap="round"/>
<text x="772" y="68.1" font-size="23.6">Smoothing</text>
<line x1="712.2" y1="88.4" x2="767" y2="88.4" stroke="#f010f0" stroke-width="3" stroke-dasharray="5 10.4" stroke-linecap="round"/>
<text x="772" y="96.6" font-size="23.6">Laser</text>
<g clip-path="url(#cpb)">
<polyline fill="none" stroke="#555" stroke-width="2" marker-start="url(#msqk)" marker-mid="url(#msqk)" marker-end="url(#msqk)" points="76.2,669.8 76.7,668.5 77.2,668.7 77.7,667.6 78.2,668.3 78.7,667.7 79.1,666.6 79.7,664.4 80.2,663.4 80.7,663.4 81.2,662.5 81.7,663.4 82.2,662.4 82.7,661.9 83.2,662.2 83.7,663.3 84.3,662.7 84.8,664.4 85.3,664.5 85.7,666.2 86.2,667.8 86.8,670.6 87.3,672.2 87.8,675.4 88.3,677.8 88.8,680.2 89.3,682.6 89.9,685.9 90.4,689.4 90.9,692.9 91.4,695.8 91.9,700.3 92.4,702.8 92.9,704.8 93.5,707.5 94,710.4 94.5,712.8 95,714.9 95.5,715.5 95.9,717.6 96.4,718 96.9,720 97.4,721 97.9,720.4 98.4,721.2 98.9,720.6 99.4,720 99.9,721 100.4,719.5 100.9,717.9 101.4,715.9 101.9,715.3 102.4,713 102.9,711.2 103.4,708.2 103.9,706.4 104.4,704.1 105,700.2 105.4,699.7 105.9,696.2 106.4,692.5 106.9,688.8 107.4,686.2 107.9,683.2 108.4,680.5 108.8,676.7 109.4,674 109.8,671.8 110.4,668.4 110.9,664.1 111.3,662.4 111.8,659.2 112.3,656.8 112.8,654.5 113.3,651.8 113.8,650.5 114.3,648.4 114.8,646.4 115.2,644.9 115.7,645.2 116.2,644.4 116.7,643.2 117.2,642.9 117.7,643.9 118.2,644.8 118.7,645.1 119.2,647.6 119.7,648.4 120.3,651.2 120.7,653.1 121.3,656.4 121.8,659.8 122.3,663.1 122.8,668.4 123.3,670.9 123.8,675.3 124.3,679 124.8,684.1 125.3,689.7 125.8,691.1 126.3,698.5 126.8,700.9 127.3,706.8 127.8,710.9 128.3,714.2 128.8,717 129.2,721 129.7,724.3 130.2,728 130.6,731 131.1,733.4 131.7,736.4 132.1,736.7 132.7,739.8 133.1,739.5 133.6,741.6 134.1,741.6 134.5,741.5 135,743 135.6,742.1 136,741.9 136.6,738.8 137.1,737.1 137.6,735.1 138.2,731.7 138.7,728.1 139.2,723.5 139.8,719.1 140.3,712.8 140.8,708.2 141.3,701.8 141.8,695.3 142.3,689.8 142.8,683 143.3,676.6 143.8,670.5 144.3,663.6 144.8,657.4 145.3,649.7 145.8,644.5 146.3,639.5 146.8,636.1 147.3,632 147.8,627.8 148.3,624.9 148.8,623.3 149.3,620.9 149.7,620.3 150.3,619.5 150.8,618.4 151.3,619.8 151.9,621 152.3,621.6 152.9,623.9 153.4,626.6 153.9,631.1 154.4,635.6 154.9,638.7 155.4,643.1 155.9,645.8 156.4,652.9 156.8,658.2 157.3,663.3 157.8,666.5 158.3,674 158.8,680.2 159.3,686.2 159.8,692.3 160.3,698.4 160.8,703.9 161.3,710.3 161.8,716.6 162.3,722.8 162.8,728.6 163.3,734 163.8,740.9 164.3,745.2 164.8,750.5 165.3,755.9 165.8,759.8 166.3,763.7 166.8,767.2 167.3,769.9 167.8,771.7 168.4,773.2 168.9,775.8 169.3,776.3 169.8,775.2 170.3,776.4 170.8,773.5 171.3,772 171.8,768.9 172.3,766.3 172.8,762.7 173.2,757.7 173.8,752.6 174.2,745.9 174.7,738.4 175.3,732.5 175.8,726.4 176.3,718.6 176.8,710.8 177.3,701.7 177.8,694 178.3,686.5 178.8,677 179.3,667.3 179.8,659.6 180.4,651.1 180.9,642.1 181.4,634.8 181.9,627.1 182.4,621.6 182.9,615.4 183.5,609.7 184,604.4 184.5,601.7 185,596.9 185.4,593.9 185.9,592.5 186.4,590.7 186.9,590.3 187.4,591.4 187.9,592.7 188.4,593.5 188.9,596.3 189.4,598.1 189.9,601.9 190.3,606.7 190.8,612 191.3,617.3 191.8,623.3 192.3,631.8 192.8,640.9 193.3,647.6 193.8,655.3 194.2,664.4 194.7,670.9 195.2,680.5 195.7,688.2 196.2,697.9 196.6,706.8 197.1,715.8 197.6,727.1 198.1,736.3 198.6,745.9 199.2,754 199.7,762 200.2,769.3 200.7,775.1 201.1,782.8 201.7,788.8 202.2,791.9 202.6,797.4 203.1,799.5 203.6,800.9 204.2,802.5 204.7,802.2 205.2,802.7 205.6,800.7 206.1,800.4 206.6,797.3 207.1,792.6 207.6,789.7 208.1,784 208.5,780.3 209,775.6 209.5,769 210,761.7 210.4,755.5 211,748.3 211.4,741.4 211.9,735.7 212.4,728.5 212.9,720.5 213.4,710.1 213.9,703.4 214.4,694 214.9,687.4 215.4,676.5 215.9,669.4 216.4,663.5 216.9,654.4 217.3,649.2 217.9,642.1 218.3,636.3 218.8,629.8 219.3,623.5 219.8,617.1 220.4,613 220.9,607.7 221.4,603.3 221.9,599.8 222.3,598.1 222.8,594.2 223.3,592.4 223.8,591.7 224.3,591.5 224.7,590.6 225.3,593.2 225.7,595.7 226.2,597.4 226.7,602.5 227.2,603.8 227.7,611.1 228.1,617.8 228.6,623.5 229.1,630.4 229.7,638.3 230.2,648.1 230.7,655.7 231.1,666.1 231.7,674.5 232.2,686.8 232.7,697.7 233.2,708.5 233.7,715.6 234.1,724.8 234.6,735.1 235.2,744.4 235.6,753.3 236.1,760.8 236.6,768.8 237.1,775.5 237.6,779.7 238.1,785.9 238.6,790.3 239.1,792.1 239.7,796.2 240.1,795.7 240.6,798 241.2,796.3 241.7,795.2 242.2,792.7 242.7,789.4 243.2,784.7 243.7,780.3 244.3,774.1 244.8,768.8 245.3,762.6 245.8,757 246.3,749.3 246.8,739.5 247.4,732.6 247.9,724.2 248.3,715.8 248.8,707 249.3,697.4 249.8,688.3 250.3,680.5 250.9,668.6 251.4,660 251.9,649.4 252.4,642.3 252.9,633.2 253.4,626.9 253.9,614.8 254.4,609.6 254.8,601.5 255.3,596.5 255.8,590.6 256.3,584.6 256.8,579.1 257.3,575.3 257.8,572.7 258.3,567.1 258.7,567.4 259.3,566.1 259.7,565.4 260.3,566.5 260.8,569 261.3,571.4 261.8,575.3 262.2,579.6 262.7,586.3 263.2,593 263.7,601.1 264.3,610.4 264.8,621.6 265.3,632.4 265.8,642.9 266.3,655.9 266.8,665.7 267.3,679.5 267.8,691.2 268.3,703 268.8,713.8 269.3,723.8 269.8,737.9 270.3,746.3 270.7,755.2 271.2,764.8 271.7,771.9 272.3,780.9 272.7,786.6 273.2,791.3 273.7,794.7 274.2,798.3 274.7,800.7 275.2,802.1 275.7,800.6 276.2,801.4 276.7,800 277.1,797.5 277.6,796.4 278.1,793 278.6,787.3 279.1,781.6 279.6,777 280.1,770.5 280.6,763.4 281.1,755.1 281.5,748.5 282.1,740.2 282.6,730.7 283.1,720.6 283.6,712.1 284.1,701.6 284.6,691 285.1,680.9 285.7,670.9 286.2,659.3 286.7,649.6 287.3,638.5 287.8,631.6 288.3,622.2 288.7,614.6 289.2,606.1 289.7,597.9 290.2,589.1 290.8,586.6 291.3,579.9 291.8,575.1 292.3,571.2 292.8,568.9 293.3,567.1 293.8,565.8 294.3,566.2 294.8,566.3 295.3,568.9 295.8,572 296.3,575.7 296.9,580.2 297.4,586 297.9,592.3 298.4,601.1 298.9,606.9 299.4,615.6 299.8,626.8 300.4,635.5 300.8,646.3 301.3,655.7 301.8,666.4 302.3,678.1 302.8,689.1 303.3,700.1 303.8,710 304.3,721.1 304.8,732.1 305.3,741.5 305.8,751.5 306.3,760.9 306.7,768.5 307.3,776 307.7,782.9 308.3,790.9 308.8,794.4 309.3,798.8 309.8,801.9 310.3,804.6 310.8,805 311.3,806.3 311.9,805.9 312.3,803.6 312.8,801.5 313.3,798.4 313.8,795.4 314.3,790.4 314.8,785.6 315.2,780.4 315.8,772.6 316.3,767.6 316.8,761.3 317.2,752 317.8,744.1 318.2,736.7 318.8,727.8 319.3,717.8 319.8,711.2 320.3,702.2 320.8,693 321.3,684 321.8,674.8 322.2,666.3 322.7,659.1 323.2,648.9 323.7,641.1 324.2,633.8 324.7,627.3 325.2,619.3 325.7,610.4 326.3,604.4 326.7,599.2 327.2,594.2 327.8,587.8 328.3,584.2 328.8,579.6 329.3,577.1 329.8,575 330.4,571.9 330.9,572.5 331.4,574 331.9,574.7 332.4,578.2 333,581.3 333.5,585.6 333.9,591.2 334.4,597.3 334.9,603.6 335.4,613 335.9,620 336.4,630.9 336.8,638.4 337.3,649.8 337.8,662.7 338.3,672.8 338.8,686 339.3,697.6 339.8,709.3 340.3,721.9 340.8,732.4 341.3,743.7 341.8,752.8 342.3,765.5 342.9,775.5 343.4,784.7 343.9,791.9 344.4,797.4 344.8,802.5 345.3,807.2 345.8,811 346.4,814.3 346.9,813.8 347.5,815.3 348,811.1 348.4,811.5 348.9,806.9 349.4,805 350,797.6 350.4,793.2 350.9,785.2 351.4,778.8 351.9,771.6 352.4,764 352.9,753.6 353.3,746.5 353.8,734.7 354.3,725.7 354.9,713.9 355.4,704.2 355.9,693.3 356.4,683.5 356.9,673.2 357.4,665 357.8,655.9 358.4,647.3 358.9,636 359.4,630.4 359.9,621.8 360.4,616 360.9,609.6 361.5,603.9 361.9,599.6 362.5,596.5 363,593.2 363.5,591.4 364,589.4 364.5,589.6 365,590 365.5,590.5 365.9,591.8 366.4,594.5 366.9,598.2 367.5,604.4 367.9,608 368.4,613 368.9,619.3 369.4,626 369.9,633.2 370.4,640 370.9,647.7 371.4,656.9 371.9,664 372.4,673.9 372.9,680.8 373.4,690.4 373.9,700.4 374.4,709.1 374.9,717.4 375.4,725.8 375.9,733.6 376.4,742.1 376.9,750.5 377.4,757.1 377.8,762.1 378.3,769.3 378.8,775.3 379.3,780.6 379.9,785.3 380.3,789.8 380.8,792.9 381.3,794.9 381.8,796.5 382.3,797.7 382.8,800.2 383.3,798.5 383.8,797.6 384.3,797.1 384.8,795.5 385.3,791.5 385.9,788.4 386.3,783.5 386.9,779.8 387.4,776.4 387.8,770.3 388.3,763.1 388.8,756.9 389.3,750.8 389.7,743.3 390.3,734.4 390.7,726.3 391.3,721.3 391.8,710.1 392.3,701.8 392.8,690.5 393.3,682.3 393.8,672.7 394.4,662.2 394.9,656.2 395.4,641.1 395.9,633.6 396.4,625.3 396.9,618.6 397.4,610.6 397.9,601.7 398.4,596 398.9,592 399.4,584.4 399.9,579.2 400.4,575.5 400.9,572.6 401.4,571.6 401.8,569.8 402.3,568.9 402.8,569 403.3,571.7 403.8,571.7 404.4,575.3 404.9,581.2 405.3,587.8 405.9,595.1 406.4,604.1 406.9,615.9 407.4,627.8 407.9,638.8 408.4,654 408.9,666.1 409.3,681.7 409.9,696 410.4,711.8 410.9,726.2 411.5,740.5 411.9,753.1 412.4,764.1 412.9,774.8 413.4,785.1 413.9,792 414.4,800.6 415,806.9 415.4,809.6 415.9,813.2 416.4,815.4 416.9,816.4 417.4,815.4 417.9,814.1 418.4,812.5 418.9,808.7 419.4,803.6 419.9,798.8 420.4,793.4 420.9,786.1 421.4,776.9 422,767.7 422.5,761.3 423,748.9 423.4,739.3 424,728.2 424.5,716.8 425,707.3 425.5,696 426,684.9 426.5,672.6 427,662.4 427.5,651.7 428,640.5 428.5,630.6 429,621.9 429.4,613.4 430,603.7 430.5,594.6 431.1,588.3 431.6,581.1 432.1,574.3 432.6,571 433.1,565.2 433.6,560.7 434.1,558.2 434.5,556.4 435,555.4 435.6,555.4 436.1,555.4 436.6,556.3 437.1,559.1 437.6,561.7 438.1,565.6 438.7,569.1 439.2,573.2 439.7,579.8 440.2,586.3 440.7,593.4 441.2,601.2 441.7,608.5 442.2,614.3 442.8,624.3 443.2,633.7 443.7,643.5 444.3,652.4 444.7,661 445.2,672.7 445.8,681 446.3,693.9 446.8,702.9 447.3,710.4 447.8,724.3 448.3,734.4 448.9,743.3 449.4,752.8 449.8,759.9 450.3,767.5 450.8,777.6 451.3,782.7 451.8,789.9 452.3,795.9 452.9,801 453.4,804.3 453.9,807.3 454.4,809.4 454.9,809.1 455.4,809 456,806 456.5,803.2 457,799.1 457.5,794.4 457.9,790 458.5,783.6 459,774.1 459.5,766.9 460,758.9 460.5,747.3 461,738.1 461.4,729.1 461.9,717 462.5,706 462.9,695.5 463.5,683.3 463.9,672.6 464.4,662.4 464.9,649.3 465.4,639.2 465.9,627.7 466.4,619.9 466.9,610.5 467.4,599.5 468,590.5 468.5,581.7 469,575.4 469.5,567.7 470,561.4 470.5,557.5 471.1,551.1 471.5,548.9 472,546.9 472.5,546.5 473,544.8 473.6,546.3 474,547.3 474.5,550.4 475,553.3 475.5,558.2 476,567.9 476.6,575.6 477,584 477.5,593.7 478,604.6 478.5,616.6 479.1,629 479.6,643.3 480.1,659.2 480.6,672.6 481.1,687.9 481.6,700.8 482.1,715.1 482.5,725.3 483.1,737.7 483.6,750.7 484.1,760 484.6,771.4 485.2,781.2 485.7,786.9 486.2,792.7 486.7,796.6 487.2,800.1 487.7,800.5 488.2,801.1 488.7,799.5 489.2,797.3 489.7,794.5 490.2,790.9 490.7,787.1 491.2,783.8 491.7,777.2 492.3,769.3 492.7,762.5 493.3,753.7 493.8,745.9 494.3,740.4 494.8,731.4 495.3,720.3 495.8,712.2 496.4,703.8 496.8,693.9 497.4,685 497.8,677.8 498.4,668.4 498.9,659.5 499.4,650 499.9,641.4 500.4,634.3 500.9,623.4 501.3,616.3 501.8,609.4 502.3,601.4 502.8,595.5 503.3,589.2 503.8,581.5 504.3,577.1 504.8,571 505.4,567 505.9,562.3 506.4,558.2 506.8,556.1 507.4,555.1 507.8,553.3 508.4,553.2 508.9,553.8 509.4,555.7 509.9,559.5 510.4,563.9 510.9,568.7 511.4,573.5 511.9,581 512.4,588.4 512.9,597.9 513.5,608.4 514,621.6 514.5,631.2 515,642.4 515.5,655 516,669.1 516.5,679.5 517.1,693.5 517.6,705.2 518.1,717.5 518.6,727.6 519.2,739.6 519.7,749.4 520.3,757.5 520.8,767.8 521.4,774.1 521.9,779.2 522.5,784.4 523,787.4 523.5,790.3 524,790.7 524.6,791.8 525.1,790.9 525.6,789.7 526.2,787.5 526.7,784.5 527.2,781.6 527.8,777.6 528.3,771.2 528.8,766.3 529.4,759.7 529.8,752.4 530.4,746.1 530.9,738.8 531.5,727.9 532,721.6 532.4,713.4 533,705.6 533.5,696.4 534.1,686 534.6,677.7 535.2,668 535.7,660.3 536.2,653.7 536.7,645.9 537.3,637.8 537.8,633 538.3,625.8 538.8,620.5 539.2,614.9 539.8,610.7 540.3,608.1 540.8,604.8 541.3,602.6 541.8,600.4 542.4,599.4 542.9,599.7 543.4,600.9 543.8,601.3 544.4,603.5 544.9,605.2 545.5,610.4 546,613.7 546.5,617.9 547.1,625.6 547.7,630.2 548.2,638.3 548.8,644.2 549.3,652.2 549.8,657.9 550.4,667.1 550.9,676.5 551.4,683.9 552,692.1 552.5,701.7 553,710.1 553.5,717.7 554.1,725.8 554.7,735.3 555.2,741.9 555.8,749.5 556.4,758.8 556.9,764.3 557.5,771 558.1,776.6 558.6,782.5 559.2,785.7 559.8,788.7 560.3,790.7 560.8,792.7 561.3,792.3 561.9,790.8 562.4,790.4 562.9,787.2 563.5,783.2 564,779.2 564.5,773.4 565.1,764.6 565.7,756.3 566.2,746.3 566.7,738 567.3,727.7 567.8,719.2 568.3,706.7 568.9,695.2 569.3,684.1 569.9,670.2 570.4,661.8 571,648.4 571.5,639.1 572,629.5 572.6,621.7 573.1,612.2 573.6,606 574.2,599.7 574.8,591.6 575.3,588.6 575.8,585.7 576.4,583.5 577,583 577.6,582.3 578.1,582.3 578.7,583.7 579.3,587 579.8,590.4 580.4,594.9 580.9,599.7 581.4,606.7 581.9,610.8 582.5,617.8 583,624.5 583.6,632.6 584.1,640.4 584.7,649.3 585.3,658.1 585.8,666.8 586.3,675.1 586.8,685.6 587.4,693.7 588,702.3 588.5,709.1 589.1,719.4 589.6,725.9 590.1,733.3 590.6,740 591.2,746.2 591.7,751.5 592.3,759.3 592.8,763.6 593.3,766.6 593.9,771.1 594.4,771.1 595,774.6 595.5,775.8 596,775.2 596.7,775 597.2,773.4 597.8,772.2 598.3,770.4 598.8,766.8 599.4,762.5 600,759 600.5,752.6 601.1,749.6 601.7,742.6 602.2,735 602.8,729 603.3,722.7 603.9,715.2 604.4,708.9 604.9,700.6 605.5,693.6 606.1,686.4 606.6,678.2 607.2,671.4 607.7,664.3 608.3,657.4 608.9,650.4 609.4,642.5 610,637.3 610.5,629.4 611.1,625.9 611.7,620 612.2,614.9 612.8,613.3 613.4,609.4 613.9,607.1 614.5,605.9 615.1,605.9 615.7,607.2 616.2,607.4 616.8,610 617.3,613.3 617.9,618.3 618.5,623.8 619.1,629.1 619.6,636.3 620.2,642.6 620.8,650.7 621.3,659.5 621.8,666.4 622.4,678 623,685.9 623.6,695 624.2,704.1 624.7,711.7 625.3,720.5 625.8,727.4 626.4,734.1 626.9,741 627.5,747 628.1,752.8 628.7,757.6 629.2,762.4 629.8,765.2 630.4,767.7 630.9,768.9 631.5,770.8 632,770.3 632.6,769.8 633.2,769.3 633.8,767.3 634.3,764.1 634.9,760.7 635.5,756.7 636,753.1 636.6,747.2 637.2,741.9 637.7,733.6 638.3,728.2 638.9,719.7 639.5,712.4 640.1,703.7 640.7,695 641.3,686.2 641.9,676.4 642.4,670.2 643.1,658.1 643.7,650.5 644.2,641.2 644.8,633.4 645.3,627.5 645.9,616.4 646.5,612.1 647.1,605 647.8,599.1 648.3,595.7 648.9,590.8 649.5,587.2 650.1,585.5 650.6,585.4 651.2,586.2 651.9,587.1 652.5,590.6 653.1,593.8 653.7,599.4 654.3,605.6 654.9,611.7 655.5,622 656.1,629 656.7,638.1 657.3,650.8 657.9,660.5 658.5,669.9 659.1,679.9 659.7,691.7 660.3,701.6 660.9,710.1 661.5,721 662.1,726.7 662.7,736.2 663.3,743.5 663.8,748.2 664.4,751.9 665,755.7 665.5,759.1 666.2,763.2 666.8,763.3 667.4,762.9 667.9,763.4 668.5,761.9 669.1,761.2 669.7,758.3 670.4,754.9 671,750 671.6,746.6 672.2,740.9 672.8,735.8 673.4,728.9 674,722.1 674.6,717 675.2,710.2 675.8,705.4 676.3,697.3 677,689.7 677.5,684.8 678.1,677.6 678.7,671.1 679.4,664.1 680,658.6 680.5,655.1 681.2,648.7 681.8,645.5 682.4,641.1 683,637.4 683.6,634.9 684.3,633.7 684.9,633.1 685.5,633 686.1,633.8 686.7,634.4 687.3,637.5 687.8,639.7 688.4,643.8 689,651.7 689.7,657.6 690.2,662.9 690.9,674.8 691.6,684 692.2,692.9 692.8,702.5 693.4,711.2 694,720.8 694.6,729.1 695.3,739 695.9,744.6 696.5,751.5 697.1,756.3 697.6,759.7 698.2,763 698.8,765.9 699.4,765.3 699.9,766.9 700.6,765.2 701.2,763.9 701.8,762.9 702.4,760.8 703,757.1 703.6,753.4 704.2,750.4 704.8,745.8 705.4,741.5 706.1,735.7 706.7,730 707.3,726.4 707.8,721 708.5,715 709.2,708.3 709.8,702.4 710.4,698 711,691.9 711.6,685.7 712.1,680 712.7,673.9 713.4,668.1 714,662.8 714.6,656.8 715.1,652.8 715.8,645.8 716.4,641.8 717,636.5 717.7,631.8 718.2,628 718.8,624.7 719.4,621.1 720,619.1 720.6,618.2 721.2,615.8 721.8,616.3 722.4,615.8 723.1,619 723.8,622.8 724.4,627.1 725,631.8 725.6,638.3 726.3,646.8 726.9,653.9 727.5,665.5 728.1,673.5 728.8,683.8 729.4,695.4 730,703.4 730.7,714.2 731.3,723.2 732,731.8 732.6,739.3 733.2,744.7 733.8,750.1 734.5,754.5 735.1,757.5 735.8,759.5 736.3,760.1 736.9,759.9 737.6,758.3 738.2,758.4 738.8,756.5 739.4,755.1 740.1,751.4 740.8,748.4 741.4,745.1 742,740.1 742.6,735.6 743.3,731.6 743.9,727.1 744.6,722.4 745.2,718.4 745.9,712.7 746.6,707.8 747.1,702.1 747.7,698.7 748.4,694.1 749,688.8 749.7,684.2 750.4,678.1 751.1,671.9 751.7,668.8 752.3,663 753,659.5 753.7,655.9 754.2,649.7 754.9,648.1 755.5,644.4 756.1,642.3 756.7,639.6 757.4,639.3 758.1,636.9 758.7,637.8 759.4,638.8 760,640.4 760.7,642.8 761.2,646.4 761.9,652 762.5,656.6 763.1,662.9 763.8,668.6 764.4,676.9 765,684.8 765.6,691.1 766.3,700.8 767,707 767.6,716.8 768.2,722 768.9,727.2 769.5,731.5 770.2,738.1 770.8,741.1 771.5,743.1 772.1,744.8 772.8,745.7 773.4,745.3 774,745.7 774.6,744 775.3,741.7 775.9,738.6 776.6,737.1 777.3,732.7 778,727.9 778.6,725 779.2,721.5 779.9,714.1 780.5,709.7 781.1,705.1 781.8,699.1 782.5,693.5 783.2,689.9 783.8,685 784.4,678.3 785,673.6 785.6,668.3 786.2,663.3 786.9,656.7 787.5,653.9 788.2,649.3 788.8,644.9 789.6,641.3 790.3,636.7 790.9,635.6 791.6,632.9 792.3,631.5 792.9,630.4 793.6,631 794.3,632 794.9,632.4 795.6,635.3 796.2,637.4 796.8,640.4 797.5,645.1 798.2,650.4 798.8,655.7 799.5,661.8 800.1,667.6 800.8,673.1 801.4,679.7 802.1,687.6 802.8,694.2 803.4,700.5 804.1,706.7 804.7,714.1 805.4,719 806.1,723.1 806.7,728.4 807.4,731.1 808.1,733.7 808.7,735.7 809.4,735.4 810.1,735 810.8,733.4 811.4,732.8 812.1,729.9 812.8,726.6 813.5,722.1 814.2,716.9 814.8,712.3 815.5,705.7 816.1,701.6 816.9,695 817.5,688.9 818.2,683.7 818.9,677.8 819.5,673.4 820.2,668.7 820.8,663.9 821.5,661.7 822.2,658 822.9,654.4 823.6,652.2 824.2,650.1 824.9,649.5 825.5,649 826.2,649.2 826.9,649.2 827.5,650.8 828.2,651.7 828.8,652.5 829.5,655.2 830.1,657.5 830.8,660.2 831.5,664.9 832.1,668.4 832.8,671.6 833.4,674.7 834.1,680.1 834.8,686.8 835.5,689.6 836.2,695.3 836.9,699.9 837.5,705 838.2,709.4 838.8,712.4 839.5,717.8 840.2,719.7 840.9,723.7 841.6,726 842.3,728.8 842.9,729.9 843.6,731.4 844.3,730.9 845,731.3 845.7,730.5 846.3,728.6 847,726.2 847.7,723.2 848.4,720.3 849,717.4 849.8,713 850.5,709.3 851.2,704.5 851.9,698.8 852.6,694.4 853.3,689.4 854,685.2 854.7,680.9 855.3,677.1 856,673.9 856.7,668.9 857.4,665.6 858.1,662.9 858.8,661.4 859.5,658.9 860.2,656.4 860.9,655.7 861.6,655 862.3,654.6 863,655.3 863.7,656 864.4,657.1 865.1,660 865.9,661.2 866.5,664.4 867.2,667.4 867.9,670.7 868.7,673.3 869.4,676.6 870,679.3 870.8,684.4 871.5,690 872.2,691.6 873,695.4 873.7,700.2 874.4,703.7 875.1,705.2 875.8,709 876.5,711.7 877.1,712.6 877.9,715.9 878.6,715.8 879.3,718.1 880,718 880.7,717.4 881.4,716.3 882.1,716.1 882.7,714.8 883.4,712.8 884.1,710.2 884.8,707.6 885.6,704.7 886.2,700.2 886.9,696.8 887.6,693.3 888.3,688.9 888.9,685.4 889.6,682 890.3,676.2 891,672.7 891.8,666.7 892.5,664.9 893.2,662.7 893.9,659.2 894.5,659 895.2,655.6 895.9,656.7 896.7,655.2 897.4,655.1 898.1,656.1 898.8,657.2 899.5,658.3 900.1,659.6 900.8,662.2 901.5,665.8 902.3,668.2 903,671.2 903.6,673 904.3,676.5 905,679.2 905.7,682.6 906.4,685.3 907.2,689.5 907.9,692 908.6,694.4 909.3,698 910,699.3 910.8,701.2 911.4,704.5 912.1,705.8 912.8,708.3 913.5,710.1 914.1,710.8 914.8,712.5 915.6,714 916.4,715.2 917.2,716.1 917.8,716.2 918.5,716.6 919.2,715.1 919.9,717.1 920.6,714.8 921.3,714.5 922,714.3 922.8,710.1 923.5,706.4 924.2,705 925,699.6 925.7,696.1"/>
<polyline fill="none" stroke="#f00000" stroke-width="1.5" stroke-linejoin="round" points="76,659.1 77.7,664.7 79.4,665.5 81.1,663.1 82.8,657.7 84.5,646.8 86.2,655.2 87.9,638.9 89.6,650.8 91.3,655.6 93,654.9 94.7,649.9 96.4,650.8 98.1,637.7 99.8,646.1 101.5,645 103.2,648 104.9,646.2 106.6,663.9 108.3,648.9 110,637.4 111.7,643.3 113.4,642.2 115.1,640.7 116.8,640.2 118.5,629.1 120.2,652.4 121.9,640.9 123.6,640.8 125.3,636.4 127,638.9 128.7,631.7 130.4,621.9 132.1,637.7 133.8,630.7 135.5,620.6 137.2,616.1 138.9,638.7 140.6,615.4 142.3,624.1 144,617.4 145.7,632.5 147.4,604.8 149.1,627.1 150.8,596.4 152.5,625.5 154.2,607 155.9,597.4 157.6,615.2 159.3,607.7 161,596.6 162.7,611.6 164.4,603.3 166.1,606.2 167.8,591.4 169.5,598.6 171.2,594.3 172.9,600.6 174.6,592.5 176.3,589.6 178,605.2 179.7,586.2 181.4,600.2 183.1,593.8 184.8,583.2 186.5,578.4 188.2,593.3 189.9,590.7 191.6,591.9 193.3,584.6 195,585.7 196.7,577.6 198.4,578.4 200.1,603.4 201.8,581 203.5,569.8 205.2,586.2 206.9,583.7 208.6,568.8 210.3,583.9 212,586.2 213.7,591.6 215.4,588.9 217.1,576.3 218.8,581.2 220.5,580.3 222.2,585.3 223.9,587.6 225.6,573 227.3,582.4 229,577.1 230.7,576.1 232.4,577.6 234.1,591.7 235.8,585.1 237.5,582.9 239.2,562.3 240.9,581.8 242.6,590.3 244.3,571.9 246,568.4 247.7,578.8 249.4,569.5 251.1,569.9 252.8,573.8 254.5,573.1 256.2,567.6 257.9,569.5 259.6,561.8 261.3,569.9 263,571.9 264.7,565.4 266.4,564.4 268.1,556 269.8,575.2 271.5,555.3 273.2,552.7 274.9,563.6 276.6,574.7 278.3,574.6 280,566.2 281.7,552.4 283.4,566.2 285.1,572 286.8,570.9 288.5,579.8 290.2,589.1 291.9,577.6 293.6,575.8 295.3,586.9 297,572.9 298.7,582.8 300.4,576.7 302.1,562.2 303.8,586 305.5,584 307.2,567.9 308.9,579.5 310.6,574.8 312.3,569.7 314,570.3 315.7,579.1 317.4,564.4 319.1,568 320.8,576 322.5,572.5 324.2,575.7 325.9,559.3 327.6,558.5 329.3,575.2 331,551.6 332.7,564.2 334.4,562 336.1,573.4 337.8,557.1 339.5,552 341.2,537.4 342.9,571.6 344.6,549.4 346.3,561.4 348,577.1 349.7,567.4 351.4,563.5 353.1,572.9 354.8,574.4 356.5,567.3 358.2,575.5 359.9,588.9 361.6,578.4 363.3,587.4 365,577.3 366.7,575.8 368.4,582 370.1,571.3 371.8,581.8 373.5,573.8 375.2,574.7 376.9,574.1 378.6,568.9 380.3,585 382,560.1 383.7,577.3 385.4,563 387.1,580 388.8,567.1 390.5,571.9 392.2,572.3 393.9,570.4 395.6,569 397.3,570.1 399,569.1 400.7,563.3 402.4,565.8 404.1,565.2 405.8,561.5 407.5,563.2 409.2,574.5 410.9,552.2 412.6,579.1 414.3,545.1 416,570.4 417.7,563.9 419.4,564.3 421.1,569.7 422.8,575.7 424.5,561.4 426.2,566.3 427.9,563 429.6,581 431.3,569.8 433,571.6 434.7,564.9 436.4,555.2 438.1,575.4 439.8,555.6 441.5,568.6 443.2,576.7 444.9,563.3 446.6,566.5 448.3,557.7 450,579.8 451.7,571.7 453.4,566.9 455.1,574.8 456.8,560 458.5,568.5 460.2,573.9 461.9,575.4 463.6,567.5 465.3,561.4 467,568.5 468.7,576.9 470.4,561.7 472.1,549.8 473.8,569.6 475.5,562.4 477.2,568 478.9,554.4 480.6,566.2 482.3,567.2 484,569.6 485.7,545.5 487.4,559.2 489.1,569.3 490.8,563.1 492.5,560 494.2,561.5 495.9,566 497.6,564.6 499.3,559.4 501,583.7 502.7,557.6 504.4,568.3 506.1,561.8 507.8,552.6 509.5,547 511.2,572 512.9,572.6 514.6,579.3 516.3,570.3 518,568.4 519.7,588.5 521.4,578.2 523.1,575.6 524.8,579.1 526.5,580.5 528.2,584.5 529.9,572.2 531.6,588.6 533.3,579.7 535,588.6 536.7,585.3 538.4,576.9 540.1,595.7 541.8,586.6 543.5,577.3 545.2,580.3 546.9,583.2 548.6,589.2 550.3,592.9 552,577 553.7,582.9 555.4,590.1 557.1,582.7 558.8,583.1 560.5,581.9 562.2,579.9 563.9,592.9 565.6,582.4 567.3,574.8 569,587.2 570.7,586.9 572.4,564.9 574.1,576.8 575.8,571.2 577.5,576.1 579.2,576.1 580.9,584.9 582.6,569.9 584.3,572.6 586,583.4 587.7,588.5 589.4,573.2 591.1,592.3 592.8,586.3 594.5,587.7 596.2,598.5 597.9,587.3 599.6,587.7 601.3,605.7 603,601.6 604.7,608.1 606.4,602.5 608.1,600.1 609.8,611.7 611.5,605.7 613.2,597.6 614.9,595 616.6,605.8 618.3,609.2 620,611.1 621.7,601.5 623.4,606.1 625.1,596.8 626.8,609.1 628.5,609.3 630.2,602.7 631.9,606.5 633.6,598.9 635.3,600.5 637,607.1 638.7,591.8 640.4,605.2 642.1,608.4 643.8,593.5 645.5,597.1 647.2,593.9 648.9,590.8 650.6,595.6 652.3,589.2 654,599.7 655.7,597.5 657.4,596.7 659.1,607.7 660.8,613.5 662.5,612.2 664.2,607.9 665.9,614.2 667.6,609.3 669.3,618.9 671,625.1 672.7,626 674.4,631.7 676.1,614.2 677.8,640.7 679.5,625.7 681.2,635.3 682.9,622.2 684.6,633.1 686.3,621.7 688,617.4 689.7,628.1 691.4,619.1 693.1,623.5 694.8,625.5 696.5,625.4 698.2,623.5 699.9,606.9 701.6,608.1 703.3,631.4 705,612.6 706.7,623.2 708.4,618.1 710.1,614.6 711.8,629.5 713.5,612.9 715.2,620.3 716.9,632.4 718.6,604.1 720.3,616.3 722,632.2 723.7,617.6 725.4,628.5 727.1,621.3 728.8,620.7 730.5,630.1 732.2,619.1 733.9,624 735.6,629.4 737.3,615.8 739,621.3 740.7,621.3 742.4,639.2 744.1,640.5 745.8,634.1 747.5,624.8 749.2,630.4 750.9,627.4 752.6,635 754.3,639.6 756,630.3 757.7,633.3 759.4,612.6 761.1,642.8 762.8,626 764.5,634.9 766.2,636.8 767.9,634 769.6,638.7 771.3,642.6 773,616.3 774.7,629.7 776.4,649.3 778.1,635 779.8,630.4 781.5,636.6 783.2,637.9 784.9,644.6 786.6,633.9 788.3,639.6 790,630.8 791.7,652.5 793.4,640.1 795.1,637 796.8,634 798.5,645 800.2,648.2 801.9,655.6 803.6,650 805.3,636.2 807,641.3 808.7,637.9 810.4,648.7 812.1,637.7 813.8,649.3 815.5,644.8 817.2,646.1 818.9,637 820.6,654.2 822.3,640.7 824,637.4 825.7,647.7 827.4,646.7 829.1,645.8 830.8,652.2 832.5,652.2 834.2,659 835.9,641.5 837.6,655.7 839.3,628.3 841,666.4 842.7,644.2 844.4,657.3 846.1,644.9 847.8,653.8 849.5,652.7 851.2,644.5 852.9,647.5 854.6,632.3 856.3,660.1 858,647.6 859.7,648.8 861.4,658.4 863.1,649.4 864.8,650.6 866.5,637 868.2,655.2 869.9,647.6 871.6,656.9 873.3,644.5 875,643.6 876.7,652.3 878.4,664.1 880.1,642.1 881.8,662.9 883.5,649 885.2,640.7 886.9,662.7 888.6,668.5 890.3,652.7 892,647.6 893.7,657.1 895.4,651.3 897.1,677.9 898.8,654.6 900.5,641.2 902.2,669.2 903.9,659.8 905.6,651.4 907.3,657.9 909,660.9 910.7,671.8 912.4,653.3 914.1,657.4 915.8,669.5 917.5,655.6 919.2,656.9 920.9,664.2 922.6,668.8 924.3,662.6 926,661.1"/>
<line x1="703.6" y1="518.4" x2="703.6" y2="858.3" stroke="#f010f0" stroke-width="3" stroke-dasharray="5.3 10" stroke-linecap="round"/>
</g>
<g clip-path="url(#cpc)">
<polyline fill="none" stroke="#f01010" stroke-width="1.6" marker-start="url(#mcr2)" marker-mid="url(#mcr2)" marker-end="url(#mcr2)" points="76.6,1050.5 76.8,1021 77,981 77.2,964 77.5,945 76.2,957.6 76.7,949.7 77.2,938.1 77.7,932.3 78.2,918.9 78.7,917.9 79.2,908.3 79.7,905.8 80.2,907 80.8,906 81.3,907.2 81.8,906.6 82.3,909 82.8,905.8 83.3,911.1 83.8,917.7 84.3,926.4 84.8,938 85.4,947.9 85.8,955.9 86.4,969.7 86.9,982.5 87.3,991.2 87.8,1000.8 88.3,945 88.8,1026.4 89.4,1045.4 89.8,958 90.3,1063.6 90.8,1078.3 91.3,972 91.8,1093.9 92.3,1105.8 92.8,985 93.4,1123.2 93.9,1130.1 94.3,992 94.8,1142.9 95.3,1146.1 95.8,1148.1 96.3,1150.5 96.8,1149.5 97.3,1151.1 97.8,1150 98.3,1152.8 98.8,1150.2 99.3,1151.8 99.8,1149.7 100.3,1142.4 100.9,1138.2 101.4,1130 101.8,1125 102.4,1120.4 102.9,1111.5 103.4,1103.5 103.9,1093.2 104.4,1083.5 104.8,1077.1 105.3,1071.6 105.8,1062.1 106.3,1053.2 106.8,1042.4 107.3,1036.2 107.8,1020.1 108.3,1008.3 108.8,1002.1 109.4,993.3 109.8,982.1 110.3,977.2 110.8,965 111.3,960.3 111.8,947.6 112.2,942.7 112.7,935.1 113.2,930.6 113.7,925.9 114.2,916.3 114.6,913.7 115.1,909.1 115.7,907.4 116.2,907.1 116.7,908 117.1,905.7 117.7,908.7 118.2,907.5 118.7,904.2 119.2,907.3 119.7,912.8 120.2,920.1 120.7,922.9 121.1,929.7 121.7,941.1 122.1,948.6 122.6,956.3 123.1,967.7 123.6,980 124.2,988.4 124.6,1002.5 125.2,1016.5 125.6,1023.9 126.1,1032.9 126.6,1047.7 127.1,1055.6 127.6,1067.7 128.1,1082.8 128.6,1089.6 129.1,1100.5 129.6,1107.6 130.1,1115.6 130.6,1123.9 131.1,1130.9 131.6,1140.2 132,1141.7 132.6,1149.7 133.1,1151.7 133.6,1149.3 134.1,1150.9 134.6,1149 135.1,1150 135.6,1149 136.1,1149.6 136.5,1148.3 137.1,1141.8 137.6,1135 138.1,1125.7 138.6,1117 139.1,1103.1 139.7,1096.4 140.2,1079.6 140.6,1064 141.1,1055 141.6,1041.7 142.1,1023 142.6,1008.5 143.1,994.7 143.7,980 144.2,968.9 144.6,952.1 145.2,941.2 145.7,935.7 146.2,924.4 146.8,916 147.3,907.5 147.8,906.9 148.2,907.2 148.8,908.1 149.2,907.2 149.7,909.9 150.2,906.8 150.8,907.8 151.3,906.2 151.8,908.3 152.2,913.7 152.7,920.5 153.2,924 153.7,925.7 154.2,941.2 154.7,947.8 155.2,954 155.7,962.2 156.2,971.7 156.7,975.3 157.2,993.3 157.7,998.7 158.3,1012.9 158.8,1022.5 159.4,1039 159.9,1044.7 160.4,1055.3 160.9,1058.6 161.5,1075 161.9,1084.7 162.4,1091.5 162.9,1095.7 163.4,1108.3 163.9,1119.3 164.4,1126.4 164.9,1128.5 165.4,1137.9 165.9,1138 166.4,1148.2 166.9,1148.7 167.4,1149.6 167.9,1151.9 168.4,1150 168.9,1149.4 169.4,1150.3 169.9,1152 170.4,1150.1 170.9,1149.3 171.4,1149.1 171.9,1141.5 172.4,1138.3 172.9,1132.9 173.4,1128.3 173.9,1116.9 174.4,1110.3 174.8,1104.2 175.3,1095.5 175.8,1088.8 176.3,1075.6 176.8,1062.4 177.3,1053.9 177.8,1043.3 178.3,1031 178.7,1021.7 179.2,1010.9 179.7,999.2 180.2,988.8 180.7,979.1 181.2,969 181.7,957.1 182.2,950.1 182.7,943.2 183.1,936.1 183.7,928 184.2,917.6 184.7,914.2 185.2,909.9 185.6,906.5 186.2,908.2 186.7,907.2 187.2,907.1 187.6,907.1 188.1,906.8 188.6,906.8 189.2,906.4 189.7,906.9 190.2,909.3 190.8,916.5 191.3,919.7 191.8,929.6 192.3,935.7 192.8,945 193.4,953.8 193.9,965 194.4,975.9 194.8,984.4 195.3,996 195.8,1010.3 196.3,1020.1 196.9,1032.5 197.3,1045.2 197.9,1057.4 198.4,1070.3 198.9,1084.8 199.5,1098.9 199.9,1107.3 200.4,1119.6 200.9,1126.6 201.4,1134.1 201.9,1140 202.4,1147.8 202.9,1150.8 203.4,1148.7 203.8,1151.2 204.3,1149.7 204.9,1150.9 205.3,1149.9 205.8,1150.5 206.4,1149.6 206.9,1148.4 207.4,1139.4 208,1137.3 208.4,1127.8 209,1124.5 209.4,1113.9 209.9,1110.1 210.4,1101.7 210.9,1091.2 211.3,1085.3 211.9,1077.5 212.4,1069.6 212.9,1058 213.4,1050.4 213.9,1044.8 214.4,1026.8 214.9,1022.9 215.4,1011.4 215.9,999.9 216.4,992.8 216.8,982 217.4,973.2 217.9,959.4 218.4,948 218.9,941 219.4,934.1 219.9,923.9 220.5,916.1 221,912.2 221.5,907.6 222,907.3 222.5,905 222.9,906 223.5,907.4 223.9,907.6 224.4,907.1 224.9,908.5 225.5,915.8 226,919.7 226.4,928.1 226.9,935.9 227.4,945.3 227.9,952.8 228.4,961.1 228.9,973 229.3,980.8 229.9,995.2 230.4,1002.5 230.9,1014.1 231.4,1026.3 231.9,1033.8 232.4,1046.4 232.9,1048.9 233.4,1064.8 233.9,1072.5 234.4,1082.7 234.9,1093 235.4,1096.9 235.8,1107.2 236.4,1115.8 236.8,1121 237.4,1126.5 237.8,1135.2 238.4,1139.6 238.9,1145.1 239.4,1151.3 240,1151.3 240.5,1148.6 241,1151.4 241.6,1149.6 242,1150.4 242.5,1150.2 243,1150.3 243.5,1146.8 244,1143.6 244.5,1137.8 245,1132.2 245.5,1121.1 246,1116.9 246.5,1105 247,1097.2 247.5,1084.2 248,1076 248.5,1063.2 249,1050.2 249.6,1039.2 250,1034 250.5,1019.9 251.1,1007.5 251.6,1000.1 252.1,989.4 252.6,982.9 253.1,975.5 253.6,965 254.1,955.9 254.7,946 255.2,939.2 255.7,933.3 256.1,926.2 256.6,922.1 257.1,916.8 257.6,911.5 258,908.7 258.5,908.1 259,907.6 259.5,906.9 259.9,908.3 260.4,906.1 260.9,908.9 261.4,907 261.9,906.5 262.4,909.9 262.9,912.9 263.4,919 263.9,927 264.5,938.7 264.9,947.6 265.4,958.2 266,974.4 266.5,986.5 266.9,1001.6 267.4,1012.4 267.9,1030.7 268.4,1044.1 269,1062.8 269.5,1073.1 269.9,1089.6 270.5,1100.6 271,1115 271.5,1120.5 272,1131.5 272.5,1140.7 273,1145.8 273.5,1150 274,1150.9 274.5,1150.5 275,1149.6 275.5,1147.7 276.1,1150.8 276.5,1151 277.1,1149.2 277.6,1145 278.1,1140.7 278.5,1133.3 279.1,1124.8 279.6,1119.4 280,1110.3 280.6,1099.7 281.1,1094.4 281.6,1084.4 282.1,1070 282.6,1061.3 283.1,1055.8 283.6,1042.2 284.1,1032.9 284.7,1017.9 285.1,1010.5 285.7,1005.2 286.2,988.8 286.6,982.2 287.1,975 287.7,965.4 288.2,953.1 288.6,946.6 289.2,938.4 289.6,930.8 290.2,925 290.6,918.3 291.2,913.9 291.7,910.4 292.2,907.7 292.8,908.3 293.3,908 293.8,906.3 294.3,908.7 294.8,905.1 295.3,908.4 295.8,904.5 296.3,908.4 296.8,913.2 297.3,917.4 297.8,927.2 298.3,933.9 298.8,943.5 299.3,953.4 299.8,967.6 300.3,974.6 300.8,987.9 301.3,1001 301.8,1010.9 302.3,1026.7 302.9,1040.1 303.4,1052.9 303.9,1064.5 304.4,1077.2 304.8,1087.5 305.3,1093.8 305.8,1106.4 306.3,1111.7 306.7,1123.7 307.2,1131 307.7,1136.2 308.3,1143.8 308.8,1147.6 309.3,1149.6 309.8,1151.6 310.3,1150.3 310.7,1150.4 311.2,1148.5 311.8,1150.9 312.3,1149.4 312.8,1150.5 313.3,1149 313.8,1148.4 314.3,1146.4 314.8,1137.8 315.3,1134.8 315.8,1131.1 316.2,1125 316.7,1118.6 317.3,1111.8 317.8,1106 318.3,1095.3 318.7,1085.9 319.3,1076.4 319.8,1068.6 320.2,1060.6 320.7,1043.5 321.2,1043.5 321.7,1028.2 322.2,1017.9 322.7,1005 323.2,994.6 323.6,991.2 324.1,975.1 324.6,967.7 325.1,953.4 325.6,949.6 326.1,938.6 326.7,930.9 327.2,923.2 327.7,921.3 328.1,912.2 328.6,908.3 329.1,905.8 329.7,908 330.2,906.6 330.6,908.8 331.1,908.2 331.6,907.8 332.1,906.5 332.6,907 333.1,911.1 333.6,915.6 334.1,922.5 334.7,930.5 335.2,936.8 335.7,944.1 336.2,957.7 336.7,965.7 337.2,977.1 337.7,990.3 338.3,999.3 338.7,1010.6 339.2,1019.7 339.8,1038 340.3,1046.8 340.7,1058.3 341.2,1070.8 341.8,1085.1 342.2,1095.5 342.8,1110.1 343.3,1115.5 343.8,1125.5 344.3,1135.3 344.8,1139 345.3,1146.9 345.8,1149.8 346.3,1150.4 346.7,1150.9 347.2,1150.3 347.7,1149.2 348.2,1149.1 348.7,1150.4 349.2,1146.2 349.7,1142.5 350.1,1134.7 350.6,1126.7 351.1,1119.1 351.6,1111.6 352.1,1097.4 352.6,1089.3 353.1,1077.4 353.6,1068.9 354.1,1058.2 354.6,1046.9 355.1,1035 355.6,1021.9 356.1,1010 356.6,997.8 357.2,985.1 357.7,975.7 358.2,965.7 358.7,953.9 359.2,945.8 359.7,934.7 360.2,926 360.7,922.6 361.2,920.1 361.6,909.3 362.1,909.2 362.6,907.2 363.1,906 363.6,906.4 364.1,908 364.6,907.7 365.1,907.9 365.6,907.3 366.2,908.8 366.6,914.7 367.1,919.4 367.5,926.9 368,931.2 368.5,939.8 369,948.4 369.5,956.7 370,966.6 370.6,974.4 371.1,982.3 371.6,994.8 372,1005.1 372.5,1011.3 373,1021.5 373.5,1028 374,1038.9 374.5,1047.8 375,1062.3 375.5,1067.7 376,1075.5 376.5,1080.1 377,1090.9 377.5,1100.5 378,1107 378.5,1116 379,1115.8 379.5,1125.2 379.9,1132.5 380.4,1137.1 381,1141.7 381.5,1148.1 382,1149.4 382.6,1149.4 383.1,1151.8 383.7,1151.1 384.1,1150.5 384.7,1150.9 385.1,1150.1 385.6,1149.6 386.1,1147.6 386.7,1142.4 387.1,1134.9 387.6,1129 388.1,1119.3 388.6,1113.4 389.1,1101.8 389.6,1094.1 390.1,1084.5 390.6,1074.2 391.1,1066.6 391.6,1054.7 392.1,1042.9 392.6,1027 393.1,1017.7 393.6,1007.4 394.1,1003.7 394.5,989.6 395.1,979.9 395.6,971.2 396.1,960.3 396.6,960.2 397,952.4 397.6,940.7 398.1,934.8 398.6,924.8 399.1,922.8 399.5,919.4 400.1,913 400.5,908.4 401,907.9 401.5,906.2 402,907.7 402.5,908.4 403,908.3 403.5,907.8 404,906.6 404.5,906.7 405,912.2 405.6,922.5 406,931.5 406.5,940.4 407,950.4 407.5,963.7 408,981.9 408.5,995.7 409,1011.6 409.6,1029.6 410.1,1051.4 410.6,1063.4 411.1,1079 411.6,1094.8 412,1106.4 412.6,1125.6 413.1,1132.1 413.6,1140 414.1,1145.9 414.6,1149.2 415.1,1151.6 415.6,1148.2 416.2,1150.5 416.6,1149.5 417.2,1151.3 417.6,1150.9 418.1,1150.1 418.6,1143.9 419.2,1142.1 419.7,1136.3 420.2,1133 420.7,1126.2 421.2,1119 421.7,1111.7 422.2,1103.6 422.7,1096.3 423.1,1086.8 423.6,1079.2 424.1,1073.5 424.7,1059.2 425.2,1051.8 425.7,1045.3 426.2,1032.3 426.7,1022.1 427.2,1009.5 427.7,997.2 428.1,991.3 428.7,978.2 429.2,971.9 429.7,961.1 430.2,952.4 430.7,943.7 431.2,935.7 431.7,927.5 432.3,921.9 432.7,917.2 433.3,909.3 433.8,906.8 434.3,908.6 434.8,906.4 435.3,906.7 435.8,906.2 436.4,906.9 436.8,906.1 437.3,907.1 437.8,907.8 438.3,914.4 438.8,916.3 439.3,922.2 439.7,925.3 440.2,934.4 440.7,941.8 441.2,948.7 441.7,953.9 442.2,966.9 442.7,972.6 443.2,982.4 443.7,993.6 444.1,998.2 444.7,1008.7 445.2,1018.9 445.7,1033.1 446.1,1038.9 446.6,1050.6 447.1,1057.1 447.6,1067.1 448.1,1076 448.5,1080.9 449.1,1092.3 449.5,1102.2 450,1109.3 450.5,1119.1 451,1125.8 451.5,1132.7 452,1138.9 452.5,1143.6 453.1,1148.9 453.5,1150.6 454.1,1150.9 454.6,1149.1 455.1,1150 455.6,1150.4 456.1,1150.3 456.6,1149.1 457,1148.1 457.6,1146.7 458.1,1144.6 458.6,1137.1 459.1,1128.5 459.7,1119.8 460.1,1110.4 460.7,1097.5 461.2,1088.1 461.7,1079.9 462.2,1068.9 462.7,1057.9 463.2,1045.6 463.7,1029.2 464.2,1018.5 464.7,1006.6 465.2,994.1 465.7,981.9 466.2,973 466.6,962 467.1,951.7 467.6,941 468.1,933 468.6,925.7 469.1,919.9 469.6,914.8 470.1,910 470.6,907.5 471.1,908.6 471.6,904.7 472.1,908.3 472.6,907.3 473.1,906.5 473.6,908.1 474.1,907 474.6,909.5 475.1,911.7 475.5,922 476,923.6 476.5,935.9 477,940.8 477.6,954.3 478,961.7 478.5,972.3 478.9,981.3 479.4,997.5 479.9,1005.8 480.4,1018.6 480.9,1030.8 481.4,1045.7 481.8,1056.4 482.3,1071.3 482.8,1083.1 483.3,1093.5 483.8,1102.1 484.3,1116.8 484.8,1127.2 485.3,1133.6 485.9,1143.3 486.4,1146.3 486.9,1149.4 487.4,1150 487.9,1150 488.4,1151.5 488.9,1150.5 489.4,1147.1 489.9,1148.4 490.4,1144.7 490.9,1139.1 491.4,1133.9 491.9,1128.1 492.4,1115.8 493,1106.1 493.4,1104.6 494,1092 494.4,1084 494.9,1079.3 495.4,1071.7 495.9,1062.3 496.4,1054.1 497,1047.6 497.5,1037.2 498,1033.3 498.5,1022 498.9,1018.3 499.5,1013.1 500,997.6 500.5,995.1 500.9,983.7 501.4,979.6 502,973.6 502.5,964.5 502.9,959.4 503.4,951.4 503.9,945.6 504.4,938.8 504.9,936 505.4,924.4 505.8,923.4 506.4,914.4 506.9,910.8 507.4,905.9 507.9,905.7 508.3,907.4 508.8,904.2 509.3,906.5 509.8,907.4 510.2,905.3 510.8,911.2 511.2,913.5 511.8,919.9 512.3,930.1 512.8,942 513.3,950.3 513.8,968.6 514.3,983.4 514.8,996.3 515.4,1009.6 515.9,1021.7 516.4,1039.5 516.9,1050.2 517.4,1067.7 517.9,1079.5 518.4,1089.3 518.9,1098.2 519.3,1107.2 519.8,1120.2 520.3,1127.6 520.9,1136.8 521.4,1137.5 521.9,1145.5 522.4,1149.8 522.9,1150.6 523.4,1149.9 523.9,1149.8 524.4,1149.2 524.8,1150 525.4,1147.2 525.9,1150.6 526.4,1151 526.9,1147.5 527.4,1141.3 527.9,1139.6 528.4,1129.4 528.9,1125.9 529.4,1114.2 530,1104.4 530.5,1097 531,1087.5 531.5,1077.5 532,1065.7 532.5,1052.8 533,1039 533.5,1030.7 534,1019.3 534.5,1004.1 535,996.1 535.4,985.5 535.9,972.8 536.4,966.1 536.9,955.4 537.5,946 538,937.6 538.6,931.2 539.1,923.4 539.7,914.6 540.2,909.9 540.7,907 541.2,907.4 541.8,907 542.3,908.5 542.8,905.7 543.3,905.3 543.8,906.8 544.3,906.3 544.8,907.3 545.3,910.6 545.8,918 546.4,920.3 546.9,924.6 547.5,935 548,944.5 548.6,954.4 549.1,964.5 549.6,970.4 550.1,982.6 550.7,997 551.1,1007.5 551.7,1019.9 552.1,1029.7 552.6,1041.7 553.2,1054.6 553.7,1063 554.2,1075.4 554.8,1089.3 555.3,1100.5 555.8,1111.3 556.3,1114.8 556.9,1126.8 557.3,1132.9 557.9,1138.6 558.4,1145.2 558.9,1149.4 559.4,1150.3 559.9,1151.2 560.5,1150.2 561,1149.8 561.5,1149.8 562,1150.3 562.5,1150.8 563,1150.3 563.4,1144.8 564,1140.2 564.5,1132.4 565,1126.9 565.5,1119.8 566.1,1111 566.6,1099.9 567.1,1090 567.6,1080.9 568.2,1065.5 568.7,1051.5 569.2,1040.4 569.7,1027.5 570.2,1013.4 570.8,998.3 571.3,986.8 571.8,975.9 572.3,959.1 572.8,951.4 573.3,940 573.9,933.9 574.4,922.9 574.9,919.9 575.5,911.1 576,907.1 576.5,906.9 577,906.8 577.5,906.7 578,907.1 578.5,906.8 579,907.7 579.5,907.4 580.1,910.3 580.6,916.5 581.2,924.1 581.7,927.1 582.2,938 582.7,943.6 583.2,955.8 583.7,964.5 584.3,970.3 584.8,982.2 585.3,995.3 585.8,1001.9 586.4,1015.2 586.8,1025.7 587.4,1043.2 588,1053.1 588.5,1062.3 589,1075.1 589.6,1086.5 590.1,1098 590.7,1108.7 591.3,1117.1 591.8,1125.9 592.3,1134.4 592.8,1140.9 593.4,1145.3 593.9,1150.1 594.5,1150.5 595,1148.6 595.5,1149.8 596,1147.4 596.5,1148.4 597.1,1150.8 597.6,1148.5 598.2,1144.1 598.7,1137.5 599.1,1134.4 599.6,1123.6 600.2,1118.2 600.7,1111.5 601.3,1102.4 601.8,1090.5 602.3,1081.8 602.8,1073.4 603.4,1061.2 603.8,1054.8 604.3,1044.8 604.8,1033.6 605.3,1024.7 605.8,1015.2 606.3,1003.6 606.9,1000.1 607.4,982.1 607.9,976.9 608.4,969 608.9,957.6 609.5,947.9 610,939.3 610.6,934.8 611.1,926.4 611.7,919.3 612.2,912.6 612.7,908.8 613.3,906.6 613.9,908.2 614.4,906.9 614.9,907.1 615.5,907.4 616,907.3 616.6,905.7 617.2,909.7 617.7,911.3 618.2,918.5 618.7,924.3 619.3,934.7 619.8,941.2 620.3,953 620.8,964.2 621.3,968.3 621.8,980.7 622.3,992.7 622.9,1008.2 623.5,1020.3 624,1028.3 624.5,1042.5 625,1055.2 625.6,1069.9 626.1,1078.2 626.6,1088.7 627.2,1098.1 627.7,1107.5 628.3,1120 628.8,1128.6 629.4,1134.2 629.9,1140.8 630.4,1149 630.9,1152 631.5,1147.8 631.9,1149.4 632.5,1150.7 633,1149.2 633.6,1150.8 634.1,1150.2 634.6,1145.4 635.2,1142.5 635.8,1138.5 636.3,1129.3 636.9,1121 637.4,1115.9 637.9,1104.1 638.4,1096.4 639,1087.9 639.4,1078.8 639.9,1066.6 640.5,1050.2 641.1,1040 641.6,1030.7 642.1,1019.9 642.5,1007.6 643.1,997.7 643.7,985.7 644.2,976.7 644.8,966.1 645.3,954.4 645.8,947 646.4,942 646.9,934.8 647.5,931.1 648,924.1 648.5,915.3 649.1,909.3 649.5,907.7 650.1,908.1 650.6,907.1 651.1,907.1 651.6,905.2 652.2,909.2 652.8,909.4 653.3,915 653.9,924.4 654.4,933.3 655,944.5 655.5,961.3 656.1,972 656.7,983.9 657.2,996 657.7,1008.8 658.3,1022.9 658.9,1041.1 659.4,1053.6 659.9,1067 660.4,1081.5 660.9,1093.4 661.5,1108 662,1118.1 662.6,1127.6 663.1,1137.4 663.7,1143.6 664.2,1149.4 664.7,1149.8 665.2,1149.6 665.8,1149.2 666.4,1150.2 667,1148.3 667.5,1149.2 668,1150.6 668.6,1150.8 669.2,1149.9 669.8,1148 670.3,1144.3 670.8,1139.3 671.4,1131 671.9,1119.3 672.5,1116.1 673.1,1100.1 673.6,1089.3 674.1,1072.7 674.6,1059.8 675.2,1048.6 675.8,1031.3 676.3,1018.3 676.9,1004.7 677.4,992 678,979 678.6,964.5 679.1,960.1 679.6,951.3 680.2,942 680.8,933.1 681.3,928.4 681.9,921.6 682.4,913.1 682.9,910.5 683.4,907.7 684,906.7 684.5,906.7 685,909.1 685.6,904.6 686.1,906.4 686.6,906.2 687.1,907 687.6,908.6 688.2,910.7 688.8,918.7 689.3,924.3 689.8,932.2 690.3,945.3 690.9,957.4 691.4,973.5 691.9,987.8 692.5,1008.4 693.1,1024.6 693.7,1045.5 694.2,1055.7 694.7,1073.6 695.3,1091.8 695.9,1103.8 696.4,1119.1 696.9,1126.7 697.4,1131.3 697.9,1140.2 698.5,1148.9 699,1149.9 699.5,1150.1 700,1148.5 700.6,1148.7 701.2,1149 701.7,1149.9 702.3,1149.9 702.8,1148 703.4,1141 704,1133.7 704.5,1128.5 704.9,1122.7 705.5,1112.5 706,1109.4 706.5,1101 707,1091 707.6,1086.4 708.2,1081.9 708.7,1073.2 709.3,1066.6 709.9,1055 710.4,1055.6 710.9,1046.6 711.5,1035.6 712,1032 712.6,1025.6 713.2,1008.4 713.7,996.1 714.2,988.7 714.7,981.3 715.2,968.9 715.8,959.5 716.4,950.2 716.9,933.5 717.5,921 718,912.9 718.6,907.8 719.1,905.7 719.7,908.1 720.2,906.5 720.8,906.2 721.4,907.8 721.9,910 722.5,915.5 723,922.2 723.6,924.5 724.1,934.5 724.7,938.1 725.3,946.8 725.8,950.1 726.4,959.4 726.9,977.9 727.6,983.1 728.1,996 728.6,1006.4 729.2,1030 729.7,1044.4 730.2,1056.8 730.8,1078 731.3,1088.4 731.9,1102.7 732.5,1122.9 733,1125.2 733.6,1139.5 734.1,1146.3 734.6,1148.2 735.1,1151.3 735.7,1150.3 736.2,1149.8 736.7,1150.9 737.2,1149.6 737.8,1151.1 738.4,1151.9 738.9,1149.9 739.5,1145.4 740,1139.9 740.5,1130.4 741.1,1120.4 741.7,1114.7 742.3,1103.6 742.9,1096.3 743.4,1084.8 744.1,1074.6 744.6,1069.1 745.2,1070.1 745.8,1054.4 746.4,1063.3 746.9,1049.2 747.5,1034.6 748,1033.3 748.6,1018.9 749.2,1005.6 749.8,993.9 750.4,990.4 751,971.2 751.5,964 752.1,952.8 752.6,939.3 753.2,934.5 753.7,924.6 754.3,923 754.8,913.1 755.4,914.4 756,909.8 756.6,908.1 757.2,907.1 757.8,906.2 758.4,905.8 758.9,906.3 759.4,907 760,907.8 760.5,908.5 761.1,908.3 761.7,919 762.3,928.1 762.8,936.2 763.3,948.1 763.9,961.6 764.5,972.2 765,984.7 765.6,994.7 766.2,1004.3 766.8,1019.1 767.3,1022.6 767.9,1033.9 768.5,1054.6 769.1,1068.6 769.6,1084.7 770.1,1100.6 770.7,1115.7 771.3,1135.3 771.9,1144.4 772.5,1148.8 773.1,1149.9 773.7,1150.3 774.3,1149.4 774.9,1148.1 775.5,1148.3 776,1142.4 776.7,1135.4 777.2,1129.1 777.8,1128.7 778.4,1118.8 779,1115.8 779.5,1104.9 780.1,1098.3 780.7,1087 781.3,1067.3 781.8,1049.5 782.4,1031.5 783,1017.6 783.6,1000.3 784.2,984.4 784.8,981.1 785.3,965.5 785.8,959 786.4,962.3 787,956.9 787.5,954.4 788.1,957.7 788.7,949 789.2,943.3 789.8,936.8 790.4,928.5 791,919.2 791.6,913.9 792.2,908 792.8,908.8 793.3,907.5 793.9,906.2 794.5,907.7 795,916.5 795.6,929.5 796.2,941.1 796.7,956.5 797.3,973.4 797.9,986.8 798.4,1001 798.9,1011 799.4,1021.1 800,1040.9 800.6,1057.2 801.2,1069.4 801.8,1080.9 802.3,1092.1 802.9,1103.5 803.5,1115.5 804,1117.1 804.6,1128.1 805.2,1130.1 805.8,1133.9 806.5,1141.2 807,1142.1 807.6,1148.2 808.2,1149.3 808.7,1150.5 809.3,1149.6 809.9,1149.2 810.4,1150.3 811,1148.1 811.6,1148.2 812.3,1142.2 812.8,1139.1 813.4,1120 814,1105.5 814.5,1087.6 815.1,1087 815.7,1069.5 816.3,1061.7 816.8,1053.6 817.5,1042.9 818.1,1036.7 818.6,1034.8 819.2,1023.2 819.7,1013.8 820.3,1004.6 820.8,1001.7 821.4,979.2 821.9,971.4 822.5,953.2 823,940.2 823.5,930.1 824.1,924.1 824.7,908.4 825.2,907.7 825.8,907.2 826.5,907.6 827.1,907.8 827.7,906.6 828.2,909.9 828.8,916.8 829.4,926.3 830,930.3 830.6,933.5 831.2,943.1 831.7,939.8 832.3,955.2 832.9,967.4 833.5,973.9 834,972.4 834.6,980.6 835.2,989.5 835.8,1000.5 836.4,1012.9 837,1032.8 837.6,1043.3 838.2,1065.8 838.8,1078.4 839.3,1091.9 839.9,1113 840.5,1124.9 841,1128.1 841.6,1140.4 842.1,1145 842.7,1148.7 843.3,1149.8 843.9,1151 844.5,1150.7 845,1150.6 845.5,1148.8 846.1,1151 846.7,1150.7 847.3,1149.5 847.9,1147.6 848.4,1141 849,1138.8 849.6,1125.6 850.2,1106.7 850.8,1091.4 851.3,1071 851.9,1045.8 852.4,1025.1 853.1,998 853.7,986.7 854.3,969.4 854.9,950.1 855.4,934.9 855.9,933.8 856.5,931.6 857.1,926.1 857.7,919.2 858.3,915.3 858.8,911.3 859.4,906.8 859.9,905.6 860.5,906.4 861.2,907.4 861.8,906.4 862.4,908.8 863,908.2 863.6,908 864.3,916.9 864.9,916.3 865.5,922.9 866.1,918.3 866.8,925.7 867.4,931.8 868,943.9 868.5,953.9 869.1,963.2 869.8,988.8 870.4,1011.6 870.9,1032.2 871.6,1044.8 872.2,1074.2 872.7,1085.3 873.3,1101.3 873.9,1120.3 874.5,1123.2 875.1,1139.8 875.7,1141.5 876.3,1136.7 876.9,1139.8 877.5,1143.8 878,1148.3 878.6,1151.5 879.3,1149.8 879.9,1149.9 880.4,1149.6 881,1148.9 881.5,1149.4 882.1,1142.1 882.7,1124.4 883.3,1115.6 883.9,1108.5 884.5,1100.1 885.1,1089.4 885.6,1090.5 886.3,1080.7 886.8,1073.6 887.5,1066.3 888.1,1057.1 888.6,1055.2 889.3,1044.5 889.9,1017.2 890.5,997.4 891.1,964.5 891.6,951.8 892.3,938.4 892.9,916.6 893.5,908.5 894,905.8 894.6,906.2 895.1,907.7 895.7,905.7 896.3,908.6 896.9,906.7 897.5,907.2 898,908.3 898.7,907 899.3,907.1 899.9,906.4 900.5,907.5 901,907.7 901.6,906.2 902.2,915.9 902.8,929.9 903.4,943 904,958.4 904.6,989.7 905.1,1000.9 905.8,1020.3 906.3,1025.9 907,1045.1 907.6,1039.9 908.2,1059.3 908.8,1066.1 909.4,1065.4 909.9,1065.3 910.5,1077.9 911.2,1085.7 911.7,1110.8 912.3,1108 912.9,1125.5 913.5,1137.7 914.1,1148.9 914.6,1152.2 915.3,1150 915.8,1149.2 916.5,1149.4 917.1,1149.4 917.7,1150.4 918.4,1151 919,1149.3 919.5,1149.7 920.1,1149.4 920.8,1151.1 921.4,1150.9 922,1146.9 922.5,1142.2 923.1,1130 923.7,1114 924.3,1103.1 924.9,1099.9 925.5,1091.8 926.1,1080.7 926.8,1077.8"/>
<polyline fill="none" stroke="#0000f8" stroke-width="3.6" stroke-linejoin="round" points="77.5,921.9 78,917.9 78.5,914.8 79,912.5 79.5,911.2 80,910.7 80.5,911.2 81,912.5 81.5,914.8 82,917.9 82.5,921.9 83,926.7 83.5,932.3 84,938.7 84.5,945.7 85,953.4 85.5,961.7 86,970.4 86.5,979.6 87,989.2 87.5,999.1 88,1009.3 88.5,1019.5 89,1029.9 89.5,1040.2 90,1050.4 90.5,1060.5 91,1070.2 91.5,1079.7 92,1088.8 92.5,1097.4 93,1105.4 93.5,1112.9 94,1119.7 94.5,1125.8 95,1131.1 95.5,1135.6 96,1139.3 96.5,1142.1 97,1144.1 97.5,1145.1 98,1145.2 98.5,1144.5 99,1142.8 99.5,1140.2 100,1136.7 100.5,1132.4 101,1127.3 101.5,1121.5 102,1114.9 102.5,1107.6 103,1099.7 103.5,1091.2 104,1082.3 104.5,1072.9 105,1063.2 105.5,1053.2 106,1043.1 106.5,1032.8 107,1022.4 107.5,1012.1 108,1002 108.5,992 109,982.3 109.5,973 110,964.1 110.5,955.7 111,947.8 111.5,940.6 112,934 112.5,928.2 113,923.2 113.5,918.9 114,915.6 114.5,913.1 115,911.4 115.5,910.7 116,910.9 116.5,912 117,914.1 117.5,917 118,920.7 118.5,925.3 119,930.7 119.5,936.8 120,943.7 120.5,951.2 121,959.3 121.5,967.9 122,977 122.5,986.5 123,996.3 123.5,1006.4 124,1016.6 124.5,1027 125,1037.3 125.5,1047.6 126,1057.7 126.5,1067.5 127,1077.1 127.5,1086.3 128,1095 128.5,1103.2 129,1110.9 129.5,1117.9 130,1124.1 130.5,1129.7 131,1134.4 131.5,1138.4 132,1141.4 132.5,1143.6 133,1144.9 133.5,1145.3 134,1144.8 134.5,1143.3 135,1141 135.5,1137.8 136,1133.7 136.5,1128.9 137,1123.2 137.5,1116.8 138,1109.7 138.5,1102 139,1093.7 139.5,1084.9 140,1075.6 140.5,1066 141,1056.1 141.5,1045.9 142,1035.6 142.5,1025.3 143,1015 143.5,1004.8 144,994.8 144.5,985 145,975.5 145.5,966.5 146,958 146.5,949.9 147,942.5 147.5,935.8 148,929.8 148.5,924.5 149,920 149.5,916.4 150,913.7 150.5,911.8 151,910.8 151.5,910.8 152,911.6 152.5,913.4 153,916.1 153.5,919.6 154,923.9 154.5,929.1 155,935 155.5,941.7 156,949 156.5,957 157,965.5 157.5,974.4 158,983.8 158.5,993.6 159,1003.6 159.5,1013.8 160,1024.1 160.5,1034.4 161,1044.7 161.5,1054.8 162,1064.8 162.5,1074.5 163,1083.8 163.5,1092.6 164,1101 164.5,1108.8 165,1116 165.5,1122.5 166,1128.2 166.5,1133.2 167,1137.4 167.5,1140.7 168,1143.1 168.5,1144.6 169,1145.3 169.5,1145 170,1143.8 170.5,1141.7 171,1138.8 171.5,1135 172,1130.3 172.5,1124.9 173,1118.6 173.5,1111.7 174,1104.2 174.5,1096 175,1087.4 175.5,1078.2 176,1068.7 176.5,1058.9 177,1048.8 177.5,1038.5 178,1028.2 178.5,1017.9 179,1007.6 179.5,997.5 180,987.7 180.5,978.1 181,969 181.5,960.3 182,952.1 182.5,944.5 183,937.6 183.5,931.4 184,925.9 184.5,921.2 185,917.4 185.5,914.4 186,912.2 186.5,911 187,910.7 187.5,911.3 188,912.8 188.5,915.2 189,918.5 189.5,922.6 190,927.6 190.5,933.3 191,939.8 191.5,946.9 192,954.7 192.5,963 193,971.9 193.5,981.2 194,990.8 194.5,1000.7 195,1010.9 195.5,1021.2 196,1031.5 196.5,1041.8 197,1052 197.5,1062 198,1071.8 198.5,1081.2 199,1090.2 199.5,1098.7 200,1106.7 200.5,1114 201,1120.7 201.5,1126.7 202,1131.9 202.5,1136.3 203,1139.8 203.5,1142.5 204,1144.3 204.5,1145.2 205,1145.2 205.5,1144.2 206,1142.4 206.5,1139.7 207,1136.1 207.5,1131.7 208,1126.5 208.5,1120.5 209,1113.7 209.5,1106.4 210,1098.4 210.5,1089.8 211,1080.8 211.5,1071.4 212,1061.6 212.5,1051.6 213,1041.4 213.5,1031.1 214,1020.8 214.5,1010.5 215,1000.3 215.5,990.4 216,980.8 216.5,971.5 217,962.7 217.5,954.4 218,946.6 218.5,939.5 219,933.1 219.5,927.4 220,922.4 220.5,918.4 221,915.1 221.5,912.7 222,911.3 222.5,910.7 223,911.1 223.5,912.3 224,914.5 224.5,917.5 225,921.4 225.5,926.1 226,931.6 226.5,937.9 227,944.8 227.5,952.4 228,960.6 228.5,969.3 229,978.5 229.5,988.1 230,997.9 230.5,1008 231,1018.3 231.5,1028.6 232,1038.9 232.5,1049.2 233,1059.3 233.5,1069.1 234,1078.6 234.5,1087.7 235,1096.4 235.5,1104.5 236,1112 236.5,1118.9 237,1125.1 237.5,1130.5 238,1135.1 238.5,1138.9 239,1141.8 239.5,1143.9 240,1145 240.5,1145.3 241,1144.6 241.5,1143 242,1140.5 242.5,1137.2 243,1133 243.5,1128 244,1122.2 244.5,1115.7 245,1108.5 245.5,1100.7 246,1092.3 246.5,1083.4 247,1074.1 247.5,1064.4 248,1054.4 248.5,1044.3 249,1034 249.5,1023.7 250,1013.4 250.5,1003.2 251,993.2 251.5,983.4 252,974.1 252.5,965.1 253,956.6 253.5,948.7 254,941.4 254.5,934.8 255,928.9 255.5,923.7 256,919.4 256.5,915.9 257,913.3 257.5,911.6 258,910.8 258.5,910.9 259,911.9 259.5,913.8 260,916.6 260.5,920.2 261,924.7 261.5,930 262,936.1 262.5,942.8 263,950.3 263.5,958.3 264,966.9 264.5,975.9 265,985.4 265.5,995.2 266,1005.2 266.5,1015.4 267,1025.7 267.5,1036.1 268,1046.3 268.5,1056.5 269,1066.4 269.5,1076 270,1085.2 270.5,1094 271,1102.3 271.5,1110 272,1117.1 272.5,1123.4 273,1129.1 273.5,1133.9 274,1137.9 274.5,1141.1 275,1143.4 275.5,1144.8 276,1145.3 276.5,1144.9 277,1143.6 277.5,1141.3 278,1138.2 278.5,1134.3 279,1129.5 279.5,1123.9 280,1117.6 280.5,1110.6 281,1102.9 281.5,1094.7 282,1085.9 282.5,1076.7 283,1067.1 283.5,1057.3 284,1047.1 284.5,1036.9 285,1026.6 285.5,1016.2 286,1006 286.5,995.9 287,986.1 287.5,976.7 288,967.6 288.5,959 289,950.9 289.5,943.4 290,936.6 290.5,930.5 291,925.1 291.5,920.5 292,916.8 292.5,914 293,912 293.5,910.9 294,910.7 294.5,911.5 295,913.1 295.5,915.7 296,919.1 296.5,923.4 297,928.4 297.5,934.3 298,940.9 298.5,948.1 299,956 299.5,964.4 300,973.3 300.5,982.7 301,992.4 301.5,1002.4 302,1012.5 302.5,1022.8 303,1033.2 303.5,1043.5 304,1053.6 304.5,1063.6 305,1073.3 305.5,1082.7 306,1091.6 306.5,1100 307,1107.9 307.5,1115.1 308,1121.7 308.5,1127.6 309,1132.6 309.5,1136.9 310,1140.3 310.5,1142.9 311,1144.5 311.5,1145.3 312,1145.1 312.5,1144 313,1142 313.5,1139.2 314,1135.5 314.5,1130.9 315,1125.5 315.5,1119.4 316,1112.6 316.5,1105.1 317,1097 317.5,1088.4 318,1079.3 318.5,1069.9 319,1060.1 319.5,1050 320,1039.8 320.5,1029.4 321,1019.1 321.5,1008.9 322,998.7 322.5,988.9 323,979.3 323.5,970.1 324,961.3 324.5,953.1 325,945.4 325.5,938.4 326,932.1 326.5,926.5 327,921.7 327.5,917.8 328,914.7 328.5,912.4 329,911.1 329.5,910.7 330,911.2 330.5,912.6 331,914.9 331.5,918.1 332,922.1 332.5,926.9 333,932.6 333.5,938.9 334,946 334.5,953.7 335,962 335.5,970.8 336,980 336.5,989.6 337,999.5 337.5,1009.7 338,1019.9 338.5,1030.3 339,1040.6 339.5,1050.8 340,1060.8 340.5,1070.6 341,1080.1 341.5,1089.1 342,1097.7 342.5,1105.7 343,1113.2 343.5,1119.9 344,1126 344.5,1131.3 345,1135.8 345.5,1139.4 346,1142.2 346.5,1144.1 347,1145.1 347.5,1145.2 348,1144.4 348.5,1142.7 349,1140.1 349.5,1136.6 350,1132.3 350.5,1127.1 351,1121.2 351.5,1114.6 352,1107.3 352.5,1099.4 353,1090.9 353.5,1081.9 354,1072.6 354.5,1062.8 355,1052.8 355.5,1042.6 356,1032.3 356.5,1022 357,1011.7 357.5,1001.6 358,991.6 358.5,981.9 359,972.6 359.5,963.7 360,955.3 360.5,947.5 361,940.3 361.5,933.8 362,928 362.5,923 363,918.8 363.5,915.5 364,913 364.5,911.4 365,910.7 365.5,911 366,912.1 366.5,914.2 367,917.1 367.5,920.9 368,925.5 368.5,930.9 369,937.1 369.5,944 370,951.5 370.5,959.6 371,968.3 371.5,977.4 372,986.9 372.5,996.7 373,1006.8 373.5,1017.1 374,1027.4 374.5,1037.7 375,1048 375.5,1058.1 376,1067.9 376.5,1077.5 377,1086.6 377.5,1095.4 378,1103.6 378.5,1111.2 379,1118.1 379.5,1124.4 380,1129.9 380.5,1134.6 381,1138.5 381.5,1141.5 382,1143.7 382.5,1144.9 383,1145.3 383.5,1144.7 384,1143.3 384.5,1140.9 385,1137.6 385.5,1133.6 386,1128.6 386.5,1122.9 387,1116.5 387.5,1109.4 388,1101.6 388.5,1093.3 389,1084.5 389.5,1075.2 390,1065.6 390.5,1055.7 391,1045.5 391.5,1035.2 392,1024.9 392.5,1014.6 393,1004.4 393.5,994.4 394,984.6 394.5,975.2 395,966.2 395.5,957.6 396,949.6 396.5,942.3 397,935.5 397.5,929.5 398,924.3 398.5,919.9 399,916.3 399.5,913.6 400,911.8 400.5,910.8 401,910.8 401.5,911.7 402,913.5 402.5,916.2 403,919.7 403.5,924.1 404,929.3 404.5,935.3 405,942 405.5,949.3 406,957.3 406.5,965.8 407,974.8 407.5,984.2 408,994 408.5,1004 409,1014.2 409.5,1024.5 410,1034.8 410.5,1045.1 411,1055.3 411.5,1065.2 412,1074.8 412.5,1084.1 413,1093 413.5,1101.3 414,1109.1 414.5,1116.2 415,1122.7 415.5,1128.4 416,1133.4 416.5,1137.5 417,1140.8 417.5,1143.2 418,1144.7 418.5,1145.3 419,1145 419.5,1143.8 420,1141.6 420.5,1138.6 421,1134.8 421.5,1130.1 422,1124.6 422.5,1118.4 423,1111.5 423.5,1103.9 424,1095.7 424.5,1087 425,1077.9 425.5,1068.3 426,1058.5 426.5,1048.4 427,1038.1 427.5,1027.8 428,1017.5 428.5,1007.2 429,997.1 429.5,987.3 430,977.8 430.5,968.6 431,960 431.5,951.8 432,944.3 432.5,937.4 433,931.1 433.5,925.7 434,921 434.5,917.2 435,914.3 435.5,912.2 436,911 436.5,910.7 437,911.4 437.5,912.9 438,915.3 438.5,918.6 439,922.8 439.5,927.8 440,933.5 440.5,940 441,947.2 441.5,955 442,963.4 442.5,972.2 443,981.5 443.5,991.2 444,1001.2 444.5,1011.3 445,1021.6 445.5,1031.9 446,1042.2 446.5,1052.4 447,1062.4 447.5,1072.2 448,1081.6 448.5,1090.5 449,1099 449.5,1107 450,1114.3 450.5,1121 451,1126.9 451.5,1132.1 452,1136.4 452.5,1139.9 453,1142.6 453.5,1144.4 454,1145.2 454.5,1145.2 455,1144.2 455.5,1142.3 456,1139.6 456.5,1136 457,1131.5 457.5,1126.2 458,1120.2 458.5,1113.5 459,1106.1 459.5,1098 460,1089.5 460.5,1080.5 461,1071 461.5,1061.2 462,1051.2 462.5,1041 463,1030.7 463.5,1020.4 464,1010.1 464.5,999.9 465,990 465.5,980.4 466,971.1 466.5,962.3 467,954 467.5,946.3 468,939.2 468.5,932.8 469,927.1 469.5,922.3 470,918.2 470.5,915 471,912.7 471.5,911.2 472,910.7 472.5,911.1 473,912.4 473.5,914.6 474,917.6 474.5,921.6 475,926.3 475.5,931.9 476,938.1 476.5,945.1 477,952.8 477.5,961 478,969.7 478.5,978.9 479,988.5 479.5,998.3 480,1008.4 480.5,1018.7 481,1029 481.5,1039.4 482,1049.6 482.5,1059.7 483,1069.5 483.5,1079 484,1088.1 484.5,1096.7 485,1104.8 485.5,1112.3 486,1119.2 486.5,1125.3 487,1130.7 487.5,1135.3 488,1139 488.5,1141.9 489,1144 489.5,1145.1 490,1145.3 490.5,1144.6 491,1142.9 491.5,1140.4 492,1137.1 492.5,1132.8 493,1127.8 493.5,1122 494,1115.4 494.5,1108.2 495,1100.3 495.5,1091.9 496,1083 496.5,1073.7 497,1064 497.5,1054 498,1043.9 498.5,1033.6 499,1023.2 499.5,1012.9 500,1002.8 500.5,992.8 501,983.1 501.5,973.7 502,964.8 502.5,956.3 503,948.4 503.5,941.1 504,934.5 504.5,928.7 505,923.6 505.5,919.3 506,915.8 506.5,913.2 507,911.5 507.5,910.8 508,910.9 508.5,911.9 509,913.9 509.5,916.7 510,920.4 510.5,924.9 511,930.2 511.5,936.3 512,943.1 512.5,950.6 513,958.6 513.5,967.2 514,976.3 514.5,985.8 515,995.5 515.5,1005.6 516,1015.8 516.5,1026.1 517,1036.5 517.5,1046.7 518,1056.9 518.5,1066.8 519,1076.4 519.5,1085.6 520,1094.3 520.5,1102.6 521,1110.3 521.5,1117.3 522,1123.7 522.5,1129.3 523,1134.1 523.5,1138.1 524,1141.2 524.5,1143.5 525,1144.8 525.5,1145.3 526,1144.8 526.5,1143.5 527,1141.2 527.5,1138.1 528,1134.1 528.5,1129.3 529,1123.7 529.5,1117.3 530,1110.3 530.5,1102.6 531,1094.3 531.5,1085.6 532,1076.4 532.5,1066.8 533,1056.9 533.5,1046.7 534,1036.5 534.5,1026.1 535,1015.8 535.5,1005.6 536,995.5 536.5,985.8 537,976.3 537.5,967.2 538,958.6 538.5,950.6 539,943.1 539.5,936.3 540,930.2 540.5,924.9 541,920.4 541.5,916.7 542,913.9 542.5,911.9 543,910.9 543.5,910.8 544,911.5 544.5,913.2 545,915.8 545.5,919.3 546,923.6 546.5,928.7 547,934.5 547.5,941.1 548,948.4 548.5,956.3 549,964.8 549.5,973.7 550,983.1 550.5,992.8 551,1002.8 551.5,1012.9 552,1023.2 552.5,1033.6 553,1043.9 553.5,1054 554,1064 554.5,1073.7 555,1083 555.5,1091.9 556,1100.3 556.5,1108.2 557,1115.4 557.5,1122 558,1127.8 558.5,1132.8 559,1137.1 559.5,1140.4 560,1142.9 560.5,1144.6 561,1145.3 561.5,1145.1 562,1144 562.5,1141.9 563,1139 563.5,1135.3 564,1130.7 564.5,1125.3 565,1119.2 565.5,1112.3 566,1104.8 566.5,1096.7 567,1088.1 567.5,1079 568,1069.5 568.5,1059.7 569,1049.6 569.5,1039.4 570,1029 570.5,1018.7 571,1008.4 571.5,998.3 572,988.5 572.5,978.9 573,969.7 573.5,961 574,952.8 574.5,945.1 575,938.1 575.5,931.9 576,926.3 576.5,921.6 577,917.6 577.5,914.6 578,912.4 578.5,911.1 579,910.7 579.5,911.2 580,912.7 580.5,915 581,918.2 581.5,922.3 582,927.1 582.5,932.8 583,939.2 583.5,946.3 584,954 584.5,962.3 585,971.1 585.5,980.4 586,990 586.5,999.9 587,1010.1 587.5,1020.4 588,1030.7 588.5,1041 589,1051.2 589.5,1061.2 590,1071 590.5,1080.5 591,1089.5 591.5,1098 592,1106.1 592.5,1113.5 593,1120.2 593.5,1126.2 594,1131.5 594.5,1136 595,1139.6 595.5,1142.3 596,1144.2 596.5,1145.2 597,1145.2 597.5,1144.4 598,1142.6 598.5,1139.9 599,1136.4 599.5,1132.1 600,1126.9 600.5,1121 601,1114.3 601.5,1107 602,1099 602.5,1090.5 603,1081.6 603.5,1072.2 604,1062.4 604.5,1052.4 605,1042.2 605.5,1031.9 606,1021.6 606.5,1011.3 607,1001.2 607.5,991.2 608,981.5 608.5,972.2 609,963.4 609.5,955 610,947.2 610.5,940 611,933.5 611.5,927.8 612,922.8 612.5,918.6 613,915.3 613.5,912.9 614,911.4 614.5,910.7 615,911 615.5,912.2 616,914.3 616.5,917.2 617,921 617.5,925.7 618,931.1 618.5,937.4 619,944.3 619.5,951.8 620,960 620.5,968.6 621,977.8 621.5,987.3 622,997.1 622.5,1007.2 623,1017.5 623.5,1027.8 624,1038.1 624.5,1048.4 625,1058.5 625.5,1068.3 626,1077.9 626.5,1087 627,1095.7 627.5,1103.9 628,1111.5 628.5,1118.4 629,1124.6 629.5,1130.1 630,1134.8 630.5,1138.6 631,1141.6 631.5,1143.8 632,1145 632.5,1145.3 633,1144.7 633.5,1143.2 634,1140.8 634.5,1137.5 635,1133.4 635.5,1128.4 636,1122.7 636.5,1116.2 637,1109.1 637.5,1101.3 638,1093 638.5,1084.1 639,1074.8 639.5,1065.2 640,1055.3 640.5,1045.1 641,1034.8 641.5,1024.5 642,1014.2 642.5,1004 643,994 643.5,984.2 644,974.8 644.5,965.8 645,957.3 645.5,949.3 646,942 646.5,935.3 647,929.3 647.5,924.1 648,919.7 648.5,916.2 649,913.5 649.5,911.7 650,910.8 650.5,910.8 651,911.8 651.5,913.6 652,916.3 652.5,919.9 653,924.3 653.5,929.5 654,935.5 654.5,942.3 655,949.6 655.5,957.6 656,966.2 656.5,975.2 657,984.6 657.5,994.4 658,1004.4 658.5,1014.6 659,1024.9 659.5,1035.2 660,1045.5 660.5,1055.7 661,1065.6 661.5,1075.2 662,1084.5 662.5,1093.3 663,1101.6 663.5,1109.4 664,1116.5 664.5,1122.9 665,1128.6 665.5,1133.6 666,1137.6 666.5,1140.9 667,1143.3 667.5,1144.7 668,1145.3 668.5,1144.9 669,1143.7 669.5,1141.5 670,1138.5 670.5,1134.6 671,1129.9 671.5,1124.4 672,1118.1 672.5,1111.2 673,1103.6 673.5,1095.4 674,1086.7 674.5,1077.5 675,1067.9 675.5,1058.1 676,1048 676.5,1037.7 677,1027.4 677.5,1017.1 678,1006.8 678.5,996.7 679,986.9 679.5,977.4 680,968.3 680.5,959.6 681,951.5 681.5,944 682,937.1 682.5,930.9 683,925.5 683.5,920.9 684,917.1 684.5,914.2 685,912.1 685.5,911 686,910.7 686.5,911.4 687,913 687.5,915.5 688,918.8 688.5,923 689,928 689.5,933.8 690,940.3 690.5,947.5 691,955.3 691.5,963.7 692,972.6 692.5,981.9 693,991.6 693.5,1001.6 694,1011.7 694.5,1022 695,1032.3 695.5,1042.6 696,1052.8 696.5,1062.8 697,1072.6 697.5,1081.9 698,1090.9 698.5,1099.4 699,1107.3 699.5,1114.6 700,1121.2 700.5,1127.1 701,1132.3 701.5,1136.6 702,1140.1 702.5,1142.7 703,1144.4 703.5,1145.2 704,1145.1 704.5,1144.1 705,1142.2 705.5,1139.4 706,1135.8 706.5,1131.3 707,1126 707.5,1119.9 708,1113.2 708.5,1105.7 709,1097.7 709.5,1089.1 710,1080.1 710.5,1070.6 711,1060.8 711.5,1050.8 712,1040.6 712.5,1030.3 713,1019.9 713.5,1009.7 714,999.5 714.5,989.6 715,980 715.5,970.8 716,962 716.5,953.7 717,946 717.5,938.9 718,932.6 718.5,926.9 719,922.1 719.5,918.1 720,914.9 720.5,912.6 721,911.2 721.5,910.7 722,911.1 722.5,912.4 723,914.7 723.5,917.8 724,921.7 724.5,926.5 725,932.1 725.5,938.4 726,945.4 726.5,953.1 727,961.3 727.5,970.1 728,979.3 728.5,988.9 729,998.7 729.5,1008.9 730,1019.1 730.5,1029.4 731,1039.8 731.5,1050 732,1060.1 732.5,1069.9 733,1079.3 733.5,1088.4 734,1097 734.5,1105.1 735,1112.6 735.5,1119.4 736,1125.5 736.5,1130.9 737,1135.5 737.5,1139.2 738,1142 738.5,1144 739,1145.1 739.5,1145.3 740,1144.5 740.5,1142.9 741,1140.3 741.5,1136.9 742,1132.6 742.5,1127.6 743,1121.7 743.5,1115.1 744,1107.9 744.5,1100 745,1091.6 745.5,1082.7 746,1073.3 746.5,1063.6 747,1053.6 747.5,1043.5 748,1033.2 748.5,1022.8 749,1012.5 749.5,1002.4 750,992.4 750.5,982.7 751,973.3 751.5,964.4 752,956 752.5,948.1 753,940.9 753.5,934.3 754,928.4 754.5,923.4 755,919.1 755.5,915.7 756,913.1 756.5,911.5 757,910.7 757.5,910.9 758,912 758.5,914 759,916.8 759.5,920.5 760,925.1 760.5,930.5 761,936.6 761.5,943.4 762,950.9 762.5,959 763,967.6 763.5,976.7 764,986.1 764.5,995.9 765,1006 765.5,1016.2 766,1026.6 766.5,1036.9 767,1047.1 767.5,1057.3 768,1067.1 768.5,1076.7 769,1085.9 769.5,1094.7 770,1102.9 770.5,1110.6 771,1117.6 771.5,1123.9 772,1129.5 772.5,1134.3 773,1138.2 773.5,1141.3 774,1143.6 774.5,1144.9 775,1145.3 775.5,1144.8 776,1143.4 776.5,1141.1 777,1137.9 777.5,1133.9 778,1129.1 778.5,1123.4 779,1117.1 779.5,1110 780,1102.3 780.5,1094 781,1085.2 781.5,1076 782,1066.4 782.5,1056.5 783,1046.3 783.5,1036.1 784,1025.7 784.5,1015.4 785,1005.2 785.5,995.2 786,985.4 786.5,975.9 787,966.9 787.5,958.3 788,950.3 788.5,942.8 789,936.1 789.5,930 790,924.7 790.5,920.2 791,916.6 791.5,913.8 792,911.9 792.5,910.9 793,910.8 793.5,911.6 794,913.3 794.5,915.9 795,919.4 795.5,923.7 796,928.9 796.5,934.8 797,941.4 797.5,948.7 798,956.6 798.5,965.1 799,974.1 799.5,983.4 800,993.2 800.5,1003.2 801,1013.4 801.5,1023.7 802,1034 802.5,1044.3 803,1054.4 803.5,1064.4 804,1074.1 804.5,1083.4 805,1092.3 805.5,1100.7 806,1108.5 806.5,1115.7 807,1122.2 807.5,1128 808,1133 808.5,1137.2 809,1140.5 809.5,1143 810,1144.6 810.5,1145.3 811,1145 811.5,1143.9 812,1141.8 812.5,1138.9 813,1135.1 813.5,1130.5 814,1125.1 814.5,1118.9 815,1112 815.5,1104.5 816,1096.4 816.5,1087.7 817,1078.6 817.5,1069.1 818,1059.3 818.5,1049.2 819,1038.9 819.5,1028.6 820,1018.3 820.5,1008 821,997.9 821.5,988.1 822,978.5 822.5,969.4 823,960.6 823.5,952.4 824,944.8 824.5,937.9 825,931.6 825.5,926.1 826,921.4 826.5,917.5 827,914.5 827.5,912.3 828,911.1 828.5,910.7 829,911.3 829.5,912.7 830,915.1 830.5,918.4 831,922.4 831.5,927.4 832,933.1 832.5,939.5 833,946.6 833.5,954.4 834,962.7 834.5,971.5 835,980.8 835.5,990.4 836,1000.3 836.5,1010.5 837,1020.8 837.5,1031.1 838,1041.4 838.5,1051.6 839,1061.6 839.5,1071.4 840,1080.8 840.5,1089.8 841,1098.4 841.5,1106.4 842,1113.7 842.5,1120.5 843,1126.5 843.5,1131.7 844,1136.1 844.5,1139.7 845,1142.4 845.5,1144.2 846,1145.2 846.5,1145.2 847,1144.3 847.5,1142.5 848,1139.8 848.5,1136.3 849,1131.9 849.5,1126.7 850,1120.7 850.5,1114 851,1106.7 851.5,1098.7 852,1090.2 852.5,1081.2 853,1071.8 853.5,1062 854,1052 854.5,1041.8 855,1031.5 855.5,1021.2 856,1010.9 856.5,1000.7 857,990.8 857.5,981.2 858,971.9 858.5,963 859,954.7 859.5,946.9 860,939.8 860.5,933.3 861,927.6 861.5,922.6 862,918.5 862.5,915.2 863,912.8 863.5,911.3 864,910.7 864.5,911 865,912.2 865.5,914.4 866,917.4 866.5,921.2 867,925.9 867.5,931.4 868,937.6 868.5,944.5 869,952.1 869.5,960.3 870,969 870.5,978.1 871,987.7 871.5,997.5 872,1007.6 872.5,1017.9 873,1028.2 873.5,1038.5 874,1048.8 874.5,1058.9 875,1068.7 875.5,1078.2 876,1087.4 876.5,1096 877,1104.2 877.5,1111.7 878,1118.6 878.5,1124.9 879,1130.3 879.5,1135 880,1138.8 880.5,1141.7 881,1143.8 881.5,1145 882,1145.3 882.5,1144.6 883,1143.1 883.5,1140.7 884,1137.4 884.5,1133.2 885,1128.2 885.5,1122.5 886,1116 886.5,1108.8 887,1101 887.5,1092.6 888,1083.8 888.5,1074.5 889,1064.8 889.5,1054.8 890,1044.7 890.5,1034.4 891,1024.1 891.5,1013.8 892,1003.6 892.5,993.6 893,983.8 893.5,974.4 894,965.5 894.5,957 895,949 895.5,941.7 896,935 896.5,929.1 897,923.9 897.5,919.6 898,916.1 898.5,913.4 899,911.6 899.5,910.8 900,910.8 900.5,911.8 901,913.7 901.5,916.4 902,920 902.5,924.5 903,929.8 903.5,935.8 904,942.5 904.5,949.9 905,958 905.5,966.5 906,975.5 906.5,985 907,994.8 907.5,1004.8 908,1015 908.5,1025.3 909,1035.6 909.5,1045.9 910,1056.1 910.5,1066 911,1075.6 911.5,1084.9 912,1093.7 912.5,1102 913,1109.7 913.5,1116.8 914,1123.2 914.5,1128.9 915,1133.7 915.5,1137.8 916,1141 916.5,1143.3 917,1144.8 917.5,1145.3 918,1144.9 918.5,1143.6 919,1141.4 919.5,1138.4 920,1134.4 920.5,1129.7 921,1124.1 921.5,1117.9 922,1110.9 922.5,1103.2 923,1095 923.5,1086.3 924,1077.1 924.5,1067.5 925,1057.7 925.5,1047.6 926,1037.3"/>
<line x1="703.6" y1="858.3" x2="703.6" y2="1197.5" stroke="#f010f0" stroke-width="3" stroke-dasharray="5.3 10" stroke-linecap="round"/>
</g>
<rect x="76.2" y="518.4" width="850" height="339.9" fill="none" stroke="#000" stroke-width="2.3"/>
<rect x="76.2" y="858.3" width="850" height="339.20000000000005" fill="none" stroke="#000" stroke-width="2.3"/>
<line x1="76" y1="518.4" x2="76" y2="505.4" stroke="#000" stroke-width="2.2"/>
<line x1="337.7" y1="518.4" x2="337.7" y2="505.4" stroke="#000" stroke-width="2.2"/>
<line x1="599.3" y1="518.4" x2="599.3" y2="505.4" stroke="#000" stroke-width="2.2"/>
<line x1="861" y1="518.4" x2="861" y2="505.4" stroke="#000" stroke-width="2.2"/>
<line x1="206.8" y1="518.4" x2="206.8" y2="511.9" stroke="#000" stroke-width="2.2"/>
<line x1="468.5" y1="518.4" x2="468.5" y2="511.9" stroke="#000" stroke-width="2.2"/>
<line x1="730.2" y1="518.4" x2="730.2" y2="511.9" stroke="#000" stroke-width="2.2"/>
<line x1="76" y1="858.3" x2="76" y2="871.3" stroke="#000" stroke-width="2.2"/>
<line x1="337.7" y1="858.3" x2="337.7" y2="871.3" stroke="#000" stroke-width="2.2"/>
<line x1="599.3" y1="858.3" x2="599.3" y2="871.3" stroke="#000" stroke-width="2.2"/>
<line x1="861" y1="858.3" x2="861" y2="871.3" stroke="#000" stroke-width="2.2"/>
<line x1="206.8" y1="858.3" x2="206.8" y2="864.8" stroke="#000" stroke-width="2.2"/>
<line x1="468.5" y1="858.3" x2="468.5" y2="864.8" stroke="#000" stroke-width="2.2"/>
<line x1="730.2" y1="858.3" x2="730.2" y2="864.8" stroke="#000" stroke-width="2.2"/>
<line x1="76" y1="858.3" x2="76" y2="845.3" stroke="#000" stroke-width="2.2"/>
<line x1="337.7" y1="858.3" x2="337.7" y2="845.3" stroke="#000" stroke-width="2.2"/>
<line x1="599.3" y1="858.3" x2="599.3" y2="845.3" stroke="#000" stroke-width="2.2"/>
<line x1="861" y1="858.3" x2="861" y2="845.3" stroke="#000" stroke-width="2.2"/>
<line x1="206.8" y1="858.3" x2="206.8" y2="851.8" stroke="#000" stroke-width="2.2"/>
<line x1="468.5" y1="858.3" x2="468.5" y2="851.8" stroke="#000" stroke-width="2.2"/>
<line x1="730.2" y1="858.3" x2="730.2" y2="851.8" stroke="#000" stroke-width="2.2"/>
<line x1="76" y1="1197.5" x2="76" y2="1210.5" stroke="#000" stroke-width="2.2"/>
<line x1="337.7" y1="1197.5" x2="337.7" y2="1210.5" stroke="#000" stroke-width="2.2"/>
<line x1="599.3" y1="1197.5" x2="599.3" y2="1210.5" stroke="#000" stroke-width="2.2"/>
<line x1="861" y1="1197.5" x2="861" y2="1210.5" stroke="#000" stroke-width="2.2"/>
<line x1="206.8" y1="1197.5" x2="206.8" y2="1204" stroke="#000" stroke-width="2.2"/>
<line x1="468.5" y1="1197.5" x2="468.5" y2="1204" stroke="#000" stroke-width="2.2"/>
<line x1="730.2" y1="1197.5" x2="730.2" y2="1204" stroke="#000" stroke-width="2.2"/>
<line x1="76" y1="526.3" x2="63" y2="526.3" stroke="#000" stroke-width="2.2"/>
<line x1="76" y1="607.4" x2="63" y2="607.4" stroke="#000" stroke-width="2.2"/>
<line x1="76" y1="688.5" x2="63" y2="688.5" stroke="#000" stroke-width="2.2"/>
<line x1="76" y1="769.6" x2="63" y2="769.6" stroke="#000" stroke-width="2.2"/>
<line x1="76" y1="850.7" x2="63" y2="850.7" stroke="#000" stroke-width="2.2"/>
<line x1="76" y1="566.8" x2="69.5" y2="566.8" stroke="#000" stroke-width="2.2"/>
<line x1="76" y1="647.9" x2="69.5" y2="647.9" stroke="#000" stroke-width="2.2"/>
<line x1="76" y1="729" x2="69.5" y2="729" stroke="#000" stroke-width="2.2"/>
<line x1="76" y1="810.1" x2="69.5" y2="810.1" stroke="#000" stroke-width="2.2"/>
<line x1="926" y1="526.3" x2="939" y2="526.3" stroke="#000" stroke-width="2.2"/>
<line x1="926" y1="607.4" x2="939" y2="607.4" stroke="#000" stroke-width="2.2"/>
<line x1="926" y1="688.5" x2="939" y2="688.5" stroke="#000" stroke-width="2.2"/>
<line x1="926" y1="769.6" x2="939" y2="769.6" stroke="#000" stroke-width="2.2"/>
<line x1="926" y1="850.7" x2="939" y2="850.7" stroke="#000" stroke-width="2.2"/>
<line x1="926" y1="566.8" x2="932.5" y2="566.8" stroke="#000" stroke-width="2.2"/>
<line x1="926" y1="647.9" x2="932.5" y2="647.9" stroke="#000" stroke-width="2.2"/>
<line x1="926" y1="729" x2="932.5" y2="729" stroke="#000" stroke-width="2.2"/>
<line x1="926" y1="810.1" x2="932.5" y2="810.1" stroke="#000" stroke-width="2.2"/>
<line x1="76" y1="907" x2="63" y2="907" stroke="#000" stroke-width="2.2"/>
<line x1="76" y1="967.6" x2="63" y2="967.6" stroke="#000" stroke-width="2.2"/>
<line x1="76" y1="1028.2" x2="63" y2="1028.2" stroke="#000" stroke-width="2.2"/>
<line x1="76" y1="1088.8" x2="63" y2="1088.8" stroke="#000" stroke-width="2.2"/>
<line x1="76" y1="1149.4" x2="63" y2="1149.4" stroke="#000" stroke-width="2.2"/>
<line x1="76" y1="876.7" x2="69.5" y2="876.7" stroke="#000" stroke-width="2.2"/>
<line x1="76" y1="937.3" x2="69.5" y2="937.3" stroke="#000" stroke-width="2.2"/>
<line x1="76" y1="997.9" x2="69.5" y2="997.9" stroke="#000" stroke-width="2.2"/>
<line x1="76" y1="1058.5" x2="69.5" y2="1058.5" stroke="#000" stroke-width="2.2"/>
<line x1="76" y1="1119.1" x2="69.5" y2="1119.1" stroke="#000" stroke-width="2.2"/>
<line x1="76" y1="1179.7" x2="69.5" y2="1179.7" stroke="#000" stroke-width="2.2"/>
<line x1="926" y1="907" x2="939" y2="907" stroke="#000" stroke-width="2.2"/>
<line x1="926" y1="967.6" x2="939" y2="967.6" stroke="#000" stroke-width="2.2"/>
<line x1="926" y1="1028.2" x2="939" y2="1028.2" stroke="#000" stroke-width="2.2"/>
<line x1="926" y1="1088.8" x2="939" y2="1088.8" stroke="#000" stroke-width="2.2"/>
<line x1="926" y1="1149.4" x2="939" y2="1149.4" stroke="#000" stroke-width="2.2"/>
<line x1="926" y1="876.7" x2="932.5" y2="876.7" stroke="#000" stroke-width="2.2"/>
<line x1="926" y1="937.3" x2="932.5" y2="937.3" stroke="#000" stroke-width="2.2"/>
<line x1="926" y1="997.9" x2="932.5" y2="997.9" stroke="#000" stroke-width="2.2"/>
<line x1="926" y1="1058.5" x2="932.5" y2="1058.5" stroke="#000" stroke-width="2.2"/>
<line x1="926" y1="1119.1" x2="932.5" y2="1119.1" stroke="#000" stroke-width="2.2"/>
<line x1="926" y1="1179.7" x2="932.5" y2="1179.7" stroke="#000" stroke-width="2.2"/>
<text x="76" y="1247.4" font-size="35" text-anchor="middle">0.0014</text>
<text x="337.7" y="1247.4" font-size="35" text-anchor="middle">0.0016</text>
<text x="599.3" y="1247.4" font-size="35" text-anchor="middle">0.0018</text>
<text x="861" y="1247.4" font-size="35" text-anchor="middle">0.0020</text>
<text x="503" y="1299" font-size="41.5" text-anchor="middle">Wavenumber (1/nm)</text>
<text transform="translate(36.8,870.5) rotate(-90)" font-size="41.5" text-anchor="middle">Intensity (a.u.)</text>
<text x="80" y="551.8" font-size="35">(b)</text>
<text x="80" y="891.3" font-size="35">(c)</text>
<path d="M713.5 532.5H732.3M746.8 532.5H766" stroke="#555" stroke-width="3" stroke-linecap="round" fill="none"/>
<rect x="735.4" y="528.3" width="8.4" height="8.4" fill="#fff" stroke="#000" stroke-width="1.3"/>
<text x="772" y="540.5" font-size="23.6">Subtracted_2</text>
<line x1="712.7" y1="561.4" x2="766.3" y2="561.4" stroke="#f00000" stroke-width="1.5"/>
<text x="772" y="570" font-size="23.6">Envelope</text>
<path d="M509.5 884.4H528.8M542.2 884.4H561.5" stroke="#f01010" stroke-width="3" stroke-linecap="round" fill="none"/>
<circle cx="535.5" cy="884.4" r="4.6" fill="#fff" stroke="#f01010" stroke-width="1.6"/>
<text x="568" y="892.8" font-size="23.6">Normalized</text>
<line x1="720.8" y1="884.4" x2="775" y2="884.4" stroke="#0000f8" stroke-width="3.4"/>
<text x="779.5" y="892.8" font-size="23.6">Sinusoidal fit</text>
</svg></body></html>
